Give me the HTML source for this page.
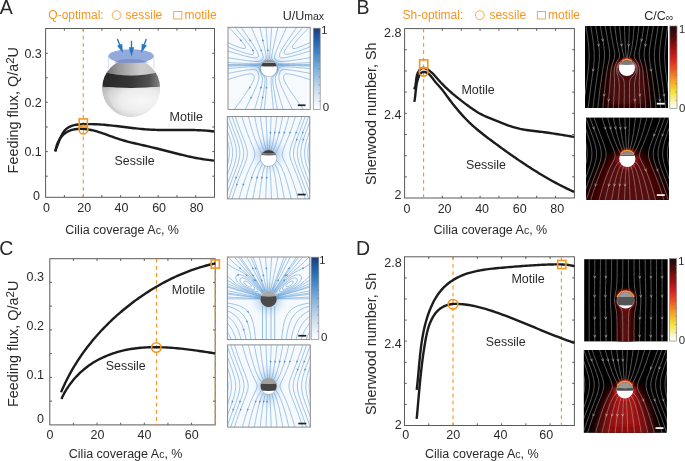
<!DOCTYPE html>
<html><head><meta charset="utf-8"><style>html,body{margin:0;padding:0;background:#fff;}svg{display:block;}</style></head><body>
<svg width="685" height="461" viewBox="0 0 685 461" font-family='"Liberation Sans", sans-serif' style="will-change:transform">
<rect width="685" height="461" fill="#fff"/>
<defs>
<linearGradient id="cbBlue" x1="0" y1="1" x2="0" y2="0">
<stop offset="0" stop-color="#ffffff"/><stop offset="0.12" stop-color="#e6eef8"/><stop offset="0.3" stop-color="#bcd4ec"/>
<stop offset="0.5" stop-color="#7fb0dc"/><stop offset="0.7" stop-color="#3f86c6"/><stop offset="0.86" stop-color="#2160a8"/><stop offset="1" stop-color="#1c3a7a"/>
</linearGradient>
<linearGradient id="cbHeat" x1="0" y1="1" x2="0" y2="0">
<stop offset="0" stop-color="#ffffff"/><stop offset="0.08" stop-color="#fbf3c0"/><stop offset="0.2" stop-color="#f4e234"/>
<stop offset="0.34" stop-color="#f4a224"/><stop offset="0.47" stop-color="#ec5a22"/><stop offset="0.6" stop-color="#d82222"/>
<stop offset="0.74" stop-color="#9a1010"/><stop offset="0.87" stop-color="#520a0a"/><stop offset="1" stop-color="#1c0a0a"/>
</linearGradient>
<radialGradient id="blueHalo" cx="0.5" cy="0.5" r="0.5">
<stop offset="0" stop-color="#7fb2e2"/><stop offset="0.3" stop-color="#b8d4ee"/><stop offset="0.6" stop-color="#e0ecf8"/><stop offset="1" stop-color="#f6f9fd" stop-opacity="0"/>
</radialGradient>
<linearGradient id="sphTop" x1="0" y1="0" x2="1" y2="0">
<stop offset="0" stop-color="#5e5e5e"/><stop offset="0.3" stop-color="#9a9a9a"/><stop offset="0.65" stop-color="#cdcdcd"/><stop offset="1" stop-color="#c0c0c0"/>
</linearGradient>
<linearGradient id="sphBand" x1="0" y1="0" x2="1" y2="0">
<stop offset="0" stop-color="#262626"/><stop offset="0.5" stop-color="#363636"/><stop offset="0.78" stop-color="#505050"/><stop offset="0.92" stop-color="#7a7a7a"/><stop offset="1" stop-color="#9a9a9a"/>
</linearGradient>
<radialGradient id="sphLow" cx="0.66" cy="0.42" r="0.78">
<stop offset="0" stop-color="#f8f8f8"/><stop offset="0.45" stop-color="#ececec"/><stop offset="0.75" stop-color="#cfcfcf"/><stop offset="1" stop-color="#8e8e8e"/>
</radialGradient>
<filter id="bl2" x="-50%" y="-50%" width="200%" height="200%"><feGaussianBlur stdDeviation="2"/></filter>
<filter id="bl4" x="-50%" y="-50%" width="200%" height="200%"><feGaussianBlur stdDeviation="4"/></filter>
<filter id="bl1" x="-50%" y="-50%" width="200%" height="200%"><feGaussianBlur stdDeviation="0.8"/></filter>
</defs>
<text x="-0.3" y="13.6" font-size="19.5" text-anchor="start" fill="#2a2a2a">A</text>
<text x="48.3" y="18.8" font-size="12" text-anchor="start" fill="#F7941D">Q-optimal:</text>
<circle cx="116.6" cy="15.1" r="4.4" fill="none" stroke="#F7941D" stroke-width="0.8"/>
<text x="125.6" y="18.8" font-size="12" text-anchor="start" fill="#F7941D">sessile</text>
<rect x="173.7" y="11.4" width="8.2" height="7.6" fill="none" stroke="#F7941D" stroke-width="0.8"/>
<text x="184.6" y="18.8" font-size="12" text-anchor="start" fill="#F7941D">motile</text>
<rect x="45.6" y="28.5" width="168.9" height="168.8" fill="none" stroke="#5a5a5a" stroke-width="1"/>
<path d="M64.37,28.5v2.2M64.37,197.3v-2.2M83.13,28.5v2.2M83.13,197.3v-2.2M101.9,28.5v2.2M101.9,197.3v-2.2M120.67,28.5v2.2M120.67,197.3v-2.2M139.43,28.5v2.2M139.43,197.3v-2.2M158.2,28.5v2.2M158.2,197.3v-2.2M176.97,28.5v2.2M176.97,197.3v-2.2M195.73,28.5v2.2M195.73,197.3v-2.2M45.6,176.2h2.2M214.5,176.2h-2.2M45.6,151.6h2.2M214.5,151.6h-2.2M45.6,127h2.2M214.5,127h-2.2M45.6,102.3h2.2M214.5,102.3h-2.2M45.6,77.8h2.2M214.5,77.8h-2.2M45.6,53.3h2.2M214.5,53.3h-2.2" stroke="#5a5a5a" stroke-width="1" fill="none"/>
<text x="41.8" y="57.6" font-size="12.5" text-anchor="end" fill="#2a2a2a">0.3</text>
<text x="41.8" y="106.6" font-size="12.5" text-anchor="end" fill="#2a2a2a">0.2</text>
<text x="41.8" y="155.9" font-size="12.5" text-anchor="end" fill="#2a2a2a">0.1</text>
<text x="40" y="200.4" font-size="12.5" text-anchor="end" fill="#2a2a2a">0</text>
<text x="46.4" y="212.4" font-size="12.5" text-anchor="middle" fill="#2a2a2a">0</text>
<text x="84.3" y="212.4" font-size="12.5" text-anchor="middle" fill="#2a2a2a">20</text>
<text x="121.5" y="212.4" font-size="12.5" text-anchor="middle" fill="#2a2a2a">40</text>
<text x="159.1" y="212.4" font-size="12.5" text-anchor="middle" fill="#2a2a2a">60</text>
<text x="196.6" y="212.4" font-size="12.5" text-anchor="middle" fill="#2a2a2a">80</text>
<text x="65.3" y="234" font-size="12.5" text-anchor="start" fill="#2a2a2a">Cilia coverage A<tspan font-size="10.5">c</tspan>, %</text>
<text x="0" y="0" font-size="14.4" text-anchor="middle" fill="#2a2a2a" transform="translate(18.1,110.2) rotate(-90)">Feeding flux, Q/a<tspan font-size="11.5" dy="-4.4">2</tspan><tspan dy="4.4">U</tspan></text>
<line x1="83.3" y1="28.5" x2="83.3" y2="197.3" stroke="#F7941D" stroke-width="1.1" stroke-dasharray="3.8 3.4"/>
<clipPath id="sphClip"><circle cx="131.2" cy="87.9" r="28.9"/></clipPath>
<g clip-path="url(#sphClip)">
<rect x="102.29999999999998" y="59.00000000000001" width="57.8" height="57.8" fill="url(#sphLow)"/>
<path d="M100,56 H163 V71 Q131,80 100,71 Z" fill="url(#sphTop)"/>
<path d="M100,71 Q131,80 163,71 V86.6 Q131,89.4 100,86.6 Z" fill="url(#sphBand)"/>
<path d="M100,86.6 Q131,89.4 163,86.6 V120 H100 Z" fill="url(#sphLow)"/>
</g>
<path d="M102.6,88 A28.9,28.9 0 0 0 124,115.8 A32,32 0 0 1 106.5,88 Z" fill="#c4c4c4" opacity="0.6"/>
<path d="M108.4,56.2 V68.5 M153.9,56.2 V68.5" stroke="#b7c6ea" stroke-width="0.6"/>
<ellipse cx="131.1" cy="56.1" rx="22.8" ry="6.8" fill="#93aadc"/>
<path d="M113.6,62.3 Q120,58.6 131.1,58.9 Q142,58.6 148.6,62.3 Q140,62.9 131.1,62.9 Q122,62.9 113.6,62.3 Z" fill="#7d93c9"/>
<g fill="#2479c2">
<path d="M117.4,38.9 L120.3,46.4" stroke="#2479c2" stroke-width="1.4" fill="none"/><path d="M122.9,53.1 L122.17,43.73 L117.13,45.67 Z"/>
<path d="M131.5,40.8 V48.5" stroke="#2479c2" stroke-width="1.4" fill="none"/><path d="M131.5,56.4 L128.8,47.2 L134.2,47.2 Z"/>
<path d="M146.4,38.9 L143.5,46.4" stroke="#2479c2" stroke-width="1.4" fill="none"/><path d="M141.2,53.1 L146.84,45.58 L141.76,43.72 Z"/>
</g>
<path d="M55.08,151.05 55.91,149.23 56.67,147.38 57.4,145.51 58.11,143.64 58.83,141.78 59.56,139.92 60.33,138.07 61.15,136.24 62.05,134.45 63.05,132.73 64.2,131.09 65.54,129.6 67.06,128.31 68.75,127.23 70.55,126.36 72.43,125.68 74.36,125.17 76.33,124.8 78.31,124.53 80.3,124.35 82.3,124.24 84.3,124.16 86.3,124.12 88.3,124.1 90.3,124.11 92.3,124.15 94.3,124.21 96.3,124.29 98.29,124.4 100.29,124.52 102.29,124.66 104.28,124.82 106.27,125 108.26,125.19 110.26,125.39 112.24,125.6 114.23,125.82 116.22,126.05 118.21,126.28 120.19,126.52 122.18,126.76 124.16,127.01 126.15,127.25 128.14,127.49 130.12,127.73 132.11,127.97 134.1,128.2 136.08,128.42 138.07,128.63 140.06,128.83 142.05,129.02 144.05,129.2 146.04,129.36 148.04,129.5 150.03,129.63 152.03,129.73 154.03,129.82 156.03,129.89 158.03,129.95 160.03,129.99 162.03,130.02 164.03,130.04 166.03,130.05 168.03,130.05 170.03,130.05 172.03,130.04 174.03,130.03 176.03,130.02 178.03,130 180.03,129.99 182.03,129.98 184.03,129.98 186.03,129.98 188.04,129.99 190.04,130 192.04,130.03 194.04,130.07 196.04,130.12 198.04,130.19 200.03,130.27 202.03,130.38 204.03,130.5 206.02,130.64 208.02,130.8 210.01,130.99 212,131.2 213.98,131.44" fill="none" stroke="#1c1c1c" stroke-width="2.4" stroke-linecap="butt" stroke-linejoin="round"/>
<path d="M55.44,151.64 55.72,149.65 56.13,147.68 56.67,145.74 57.33,143.83 58.11,141.98 59.03,140.19 60.09,138.47 61.28,136.85 62.62,135.35 64.1,133.98 65.71,132.77 67.44,131.74 69.26,130.88 71.15,130.19 73.09,129.66 75.06,129.26 77.06,129 79.07,128.85 81.08,128.82 83.1,128.88 85.1,129.03 87.1,129.27 89.09,129.58 91.07,129.97 93.03,130.42 94.98,130.92 96.92,131.46 98.85,132.05 100.76,132.67 102.67,133.32 104.57,133.99 106.47,134.67 108.36,135.36 110.25,136.05 112.14,136.74 114.04,137.42 115.94,138.08 117.85,138.72 119.77,139.33 121.69,139.92 123.63,140.49 125.57,141.03 127.51,141.55 129.46,142.05 131.42,142.54 133.37,143.01 135.33,143.48 137.29,143.93 139.26,144.38 141.22,144.83 143.19,145.27 145.15,145.72 147.11,146.17 149.08,146.62 151.04,147.09 152.99,147.56 154.95,148.04 156.9,148.52 158.86,149.01 160.81,149.51 162.76,150.01 164.71,150.51 166.66,151.01 168.61,151.51 170.56,152.01 172.51,152.51 174.47,153.01 176.42,153.5 178.37,153.99 180.33,154.47 182.29,154.94 184.25,155.4 186.21,155.86 188.17,156.3 190.14,156.73 192.11,157.15 194.08,157.56 196.06,157.95 198.04,158.32 200.02,158.68 202,159.02 203.99,159.33 205.99,159.63 207.98,159.9 209.98,160.16 211.98,160.38 213.98,160.58" fill="none" stroke="#1c1c1c" stroke-width="2.4" stroke-linecap="butt" stroke-linejoin="round"/>
<rect x="79.2" y="118.9" width="8.2" height="8.2" fill="none" stroke="#F7941D" stroke-width="1.6"/>
<circle cx="83.4" cy="129.6" r="4.4" fill="none" stroke="#F7941D" stroke-width="1.6"/>
<text x="169.6" y="120.8" font-size="12.5" text-anchor="start" fill="#2a2a2a">Motile</text>
<text x="114.6" y="164.9" font-size="12.4" text-anchor="start" fill="#2a2a2a">Sessile</text>
<text x="356.4" y="13.7" font-size="19.5" text-anchor="start" fill="#2a2a2a">B</text>
<text x="402.6" y="18.8" font-size="12" text-anchor="start" fill="#F7941D">Sh-optimal:</text>
<circle cx="479.8" cy="15.1" r="4.4" fill="none" stroke="#F7941D" stroke-width="0.8"/>
<text x="489.4" y="18.8" font-size="12" text-anchor="start" fill="#F7941D">sessile</text>
<rect x="537.3" y="11.4" width="8.2" height="7.6" fill="none" stroke="#F7941D" stroke-width="0.8"/>
<text x="548" y="18.8" font-size="12" text-anchor="start" fill="#F7941D">motile</text>
<rect x="404.6" y="28.6" width="169.8" height="169.4" fill="none" stroke="#5a5a5a" stroke-width="1"/>
<path d="M423.47,28.6v2.2M423.47,198v-2.2M442.33,28.6v2.2M442.33,198v-2.2M461.2,28.6v2.2M461.2,198v-2.2M480.07,28.6v2.2M480.07,198v-2.2M498.93,28.6v2.2M498.93,198v-2.2M517.8,28.6v2.2M517.8,198v-2.2M536.67,28.6v2.2M536.67,198v-2.2M555.53,28.6v2.2M555.53,198v-2.2M404.6,49.78h2.2M574.4,49.78h-2.2M404.6,70.96h2.2M574.4,70.96h-2.2M404.6,92.14h2.2M574.4,92.14h-2.2M404.6,113.32h2.2M574.4,113.32h-2.2M404.6,134.5h2.2M574.4,134.5h-2.2M404.6,155.68h2.2M574.4,155.68h-2.2M404.6,176.86h2.2M574.4,176.86h-2.2" stroke="#5a5a5a" stroke-width="1" fill="none"/>
<text x="401.4" y="37.3" font-size="12.5" text-anchor="end" fill="#2a2a2a">2.8</text>
<text x="401.4" y="118.9" font-size="12.5" text-anchor="end" fill="#2a2a2a">2.4</text>
<text x="401.4" y="199" font-size="12.5" text-anchor="end" fill="#2a2a2a">2</text>
<text x="407" y="212.5" font-size="12.5" text-anchor="middle" fill="#2a2a2a">0</text>
<text x="444.6" y="212.5" font-size="12.5" text-anchor="middle" fill="#2a2a2a">20</text>
<text x="482.1" y="212.5" font-size="12.5" text-anchor="middle" fill="#2a2a2a">40</text>
<text x="519.8" y="212.5" font-size="12.5" text-anchor="middle" fill="#2a2a2a">60</text>
<text x="557.2" y="212.5" font-size="12.5" text-anchor="middle" fill="#2a2a2a">80</text>
<text x="433.6" y="233.5" font-size="12.5" text-anchor="start" fill="#2a2a2a">Cilia coverage A<tspan font-size="10.5">c</tspan>, %</text>
<text x="0" y="0" font-size="14.4" text-anchor="middle" fill="#2a2a2a" transform="translate(375.8,113.7) rotate(-90)">Sherwood number, Sh</text>
<line x1="423.6" y1="28.6" x2="423.6" y2="198" stroke="#F7941D" stroke-width="1.1" stroke-dasharray="3.8 3.4"/>
<path d="M414.3,89.4 414.96,87.49 415.44,85.53 415.77,83.54 416.01,81.53 416.22,79.52 416.5,77.52 416.91,75.55 417.52,73.62 418.37,71.79 419.46,70.09 420.83,68.61 422.66,67.84 424.65,68.1 426.51,68.89 428.25,69.91 429.9,71.07 431.46,72.36 432.93,73.74 434.33,75.19 435.69,76.69 437.02,78.21 438.34,79.74 439.68,81.25 441.04,82.74 442.44,84.2 443.87,85.63 445.31,87.04 446.78,88.42 448.27,89.79 449.77,91.14 451.29,92.48 452.81,93.8 454.36,95.1 455.91,96.39 457.48,97.67 459.05,98.93 460.64,100.18 462.24,101.41 463.85,102.63 465.47,103.84 467.09,105.04 468.73,106.22 470.38,107.4 472.03,108.56 473.69,109.71 475.36,110.84 477.06,111.93 478.79,112.97 480.56,113.94 482.36,114.86 484.18,115.73 486.02,116.56 487.88,117.36 489.74,118.14 491.61,118.91 493.48,119.68 495.35,120.44 497.22,121.21 499.09,121.96 500.97,122.71 502.85,123.44 504.74,124.16 506.63,124.86 508.54,125.53 510.45,126.17 512.37,126.79 514.31,127.37 516.25,127.91 518.21,128.41 520.18,128.87 522.15,129.28 524.14,129.64 526.13,129.97 528.13,130.26 530.13,130.53 532.14,130.78 534.15,131.01 536.15,131.24 538.16,131.47 540.17,131.7 542.17,131.93 544.17,132.19 546.18,132.46 548.18,132.74 550.18,133.03 552.17,133.33 554.17,133.64 556.16,133.96 558.16,134.28 560.15,134.61 562.14,134.93 564.13,135.27 566.13,135.6 568.12,135.93 570.11,136.26 572.11,136.58 574.1,136.9" fill="none" stroke="#1c1c1c" stroke-width="2.4" stroke-linecap="butt" stroke-linejoin="round"/>
<path d="M414.3,101.9 414.66,99.93 414.95,97.95 415.2,95.97 415.42,93.98 415.62,91.99 415.83,90 416.06,88.01 416.33,86.03 416.66,84.06 417.08,82.1 417.58,80.16 418.18,78.26 418.89,76.38 419.76,74.58 420.98,73.01 422.7,72.03 424.68,71.95 426.57,72.6 428.28,73.64 429.79,74.95 431.14,76.43 432.37,78 433.56,79.61 434.76,81.21 436.03,82.76 437.37,84.24 438.73,85.71 440.07,87.19 441.37,88.72 442.61,90.28 443.83,91.87 445.02,93.48 446.2,95.1 447.37,96.71 448.56,98.32 449.76,99.93 450.97,101.52 452.19,103.11 453.42,104.68 454.67,106.25 455.93,107.8 457.2,109.34 458.49,110.87 459.8,112.38 461.12,113.88 462.46,115.37 463.82,116.84 465.19,118.3 466.58,119.73 467.99,121.15 469.42,122.55 470.87,123.93 472.34,125.29 473.83,126.63 475.33,127.95 476.85,129.25 478.39,130.53 479.94,131.79 481.5,133.04 483.07,134.28 484.65,135.5 486.24,136.72 487.84,137.93 489.44,139.13 491.04,140.32 492.65,141.52 494.26,142.71 495.87,143.89 497.48,145.08 499.09,146.26 500.71,147.44 502.33,148.61 503.95,149.78 505.58,150.95 507.21,152.11 508.84,153.27 510.47,154.42 512.11,155.57 513.75,156.72 515.39,157.86 517.04,158.99 518.69,160.12 520.35,161.24 522.01,162.36 523.67,163.47 525.34,164.57 527.01,165.67 528.69,166.76 530.37,167.84 532.06,168.92 533.75,169.99 535.45,171.05 537.15,172.1 538.85,173.15 540.56,174.19 542.28,175.21 544,176.23 545.73,177.24 547.46,178.24 549.2,179.23 550.94,180.21 552.69,181.18 554.45,182.14 556.21,183.09 557.97,184.03 559.75,184.96 561.52,185.88 563.31,186.78 565.1,187.68 566.89,188.56 568.7,189.43 570.5,190.28 572.32,191.13 574.14,191.96" fill="none" stroke="#1c1c1c" stroke-width="2.4" stroke-linecap="butt" stroke-linejoin="round"/>
<rect x="419.6" y="59.9" width="8.2" height="8.2" fill="none" stroke="#F7941D" stroke-width="1.6"/>
<circle cx="423.6" cy="71.7" r="4.4" fill="none" stroke="#F7941D" stroke-width="1.6"/>
<text x="461.4" y="93.8" font-size="12.5" text-anchor="start" fill="#2a2a2a">Motile</text>
<text x="465.9" y="168.5" font-size="12.4" text-anchor="start" fill="#2a2a2a">Sessile</text>
<text x="-0.8" y="255.3" font-size="19.5" text-anchor="start" fill="#2a2a2a">C</text>
<rect x="49.8" y="258.7" width="165.4" height="166.2" fill="none" stroke="#5a5a5a" stroke-width="1"/>
<path d="M73.43,258.7v2.2M73.43,424.9v-2.2M97.06,258.7v2.2M97.06,424.9v-2.2M120.69,258.7v2.2M120.69,424.9v-2.2M144.31,258.7v2.2M144.31,424.9v-2.2M167.94,258.7v2.2M167.94,424.9v-2.2M191.57,258.7v2.2M191.57,424.9v-2.2M49.8,401.15h2.2M215.2,401.15h-2.2M49.8,377.4h2.2M215.2,377.4h-2.2M49.8,353.65h2.2M215.2,353.65h-2.2M49.8,329.9h2.2M215.2,329.9h-2.2M49.8,306.15h2.2M215.2,306.15h-2.2M49.8,282.4h2.2M215.2,282.4h-2.2" stroke="#5a5a5a" stroke-width="1" fill="none"/>
<text x="44" y="281" font-size="12.5" text-anchor="end" fill="#2a2a2a">0.3</text>
<text x="44" y="329.8" font-size="12.5" text-anchor="end" fill="#2a2a2a">0.2</text>
<text x="44" y="378.6" font-size="12.5" text-anchor="end" fill="#2a2a2a">0.1</text>
<text x="44" y="423.1" font-size="12.5" text-anchor="end" fill="#2a2a2a">0</text>
<text x="50" y="439.4" font-size="12.5" text-anchor="middle" fill="#2a2a2a">0</text>
<text x="97.4" y="439.4" font-size="12.5" text-anchor="middle" fill="#2a2a2a">20</text>
<text x="144.5" y="439.4" font-size="12.5" text-anchor="middle" fill="#2a2a2a">40</text>
<text x="191.7" y="439.4" font-size="12.5" text-anchor="middle" fill="#2a2a2a">60</text>
<text x="68.8" y="458" font-size="12.5" text-anchor="start" fill="#2a2a2a">Cilia coverage A<tspan font-size="10.5">c</tspan>, %</text>
<text x="0" y="0" font-size="14.4" text-anchor="middle" fill="#2a2a2a" transform="translate(18.3,343.9) rotate(-90)">Feeding flux, Q/a<tspan font-size="11.5" dy="-4.4">2</tspan><tspan dy="4.4">U</tspan></text>
<line x1="156.5" y1="258.7" x2="156.5" y2="424.9" stroke="#F7941D" stroke-width="1.1" stroke-dasharray="3.8 3.4"/>
<line x1="215.2" y1="258.7" x2="215.2" y2="424.9" stroke="#F7941D" stroke-width="1.1" stroke-dasharray="3.8 3.4"/>
<path d="M61.1,392.23 61.87,390.38 62.67,388.55 63.49,386.72 64.32,384.9 65.18,383.09 66.05,381.29 66.95,379.5 67.86,377.71 68.78,375.94 69.73,374.17 70.7,372.42 71.68,370.67 72.68,368.94 73.7,367.22 74.73,365.5 75.78,363.8 76.85,362.1 77.93,360.42 79.03,358.75 80.15,357.09 81.28,355.43 82.43,353.79 83.6,352.17 84.77,350.55 85.97,348.94 87.18,347.35 88.4,345.76 89.64,344.19 90.9,342.63 92.16,341.08 93.44,339.54 94.74,338.01 96.05,336.5 97.37,334.99 98.71,333.5 100.05,332.02 101.42,330.55 102.79,329.1 104.18,327.65 105.58,326.22 106.99,324.8 108.41,323.39 109.85,322 111.29,320.61 112.75,319.24 114.22,317.88 115.7,316.54 117.2,315.2 118.7,313.88 120.21,312.57 121.74,311.27 123.27,309.98 124.82,308.71 126.37,307.45 127.94,306.2 129.51,304.97 131.1,303.74 132.69,302.53 134.3,301.33 135.91,300.15 137.53,298.97 139.16,297.81 140.8,296.67 142.45,295.53 144.11,294.41 145.78,293.3 147.46,292.21 149.14,291.13 150.84,290.06 152.54,289.01 154.26,287.97 155.98,286.95 157.71,285.95 159.45,284.95 161.2,283.98 162.95,283.02 164.72,282.07 166.49,281.14 168.27,280.23 170.06,279.33 171.86,278.45 173.67,277.59 175.48,276.74 177.31,275.92 179.14,275.11 180.98,274.31 182.82,273.54 184.68,272.78 186.54,272.05 188.41,271.33 190.28,270.63 192.17,269.95 194.06,269.29 195.95,268.65 197.86,268.03 199.77,267.43 201.68,266.85 203.61,266.29 205.54,265.76 207.47,265.24 209.41,264.75 211.36,264.27 213.31,263.82 215.26,263.39" fill="none" stroke="#1c1c1c" stroke-width="2.4" stroke-linecap="butt" stroke-linejoin="round"/>
<path d="M61.47,398.88 62.32,397.04 63.23,395.23 64.17,393.45 65.16,391.68 66.19,389.94 67.26,388.23 68.38,386.54 69.53,384.88 70.73,383.25 71.96,381.65 73.24,380.08 74.55,378.54 75.9,377.03 77.29,375.56 78.71,374.12 80.17,372.72 81.66,371.36 83.18,370.03 84.74,368.74 86.33,367.48 87.94,366.27 89.59,365.09 91.26,363.95 92.96,362.86 94.69,361.8 96.43,360.78 98.2,359.81 100,358.87 101.81,357.97 103.64,357.11 105.49,356.29 107.35,355.51 109.23,354.77 111.13,354.06 113.04,353.39 114.96,352.77 116.9,352.17 118.84,351.62 120.8,351.1 122.76,350.62 124.73,350.18 126.71,349.77 128.7,349.39 130.69,349.05 132.69,348.73 134.69,348.45 136.7,348.21 138.71,347.99 140.73,347.8 142.74,347.63 144.76,347.5 146.78,347.39 148.8,347.3 150.82,347.24 152.84,347.2 154.87,347.19 156.89,347.19 158.91,347.22 160.93,347.27 162.95,347.33 164.97,347.42 166.99,347.52 169.01,347.64 171.03,347.77 173.05,347.92 175.06,348.09 177.08,348.27 179.09,348.46 181.1,348.66 183.11,348.88 185.12,349.11 187.13,349.34 189.14,349.59 191.15,349.85 193.15,350.11 195.16,350.38 197.16,350.66 199.16,350.95 201.16,351.24 203.16,351.54 205.16,351.84 207.16,352.14 209.16,352.45 211.16,352.76 213.16,353.07 215.16,353.38" fill="none" stroke="#1c1c1c" stroke-width="2.4" stroke-linecap="butt" stroke-linejoin="round"/>
<rect x="211.2" y="259.9" width="8.2" height="8.2" fill="none" stroke="#F7941D" stroke-width="1.6"/>
<circle cx="156.3" cy="347.5" r="4.7" fill="none" stroke="#F7941D" stroke-width="1.6"/>
<text x="171.8" y="294.2" font-size="12.5" text-anchor="start" fill="#2a2a2a">Motile</text>
<text x="105.8" y="369.5" font-size="12.4" text-anchor="start" fill="#2a2a2a">Sessile</text>
<text x="356" y="255.4" font-size="19.5" text-anchor="start" fill="#2a2a2a">D</text>
<rect x="404.5" y="256.8" width="169.9" height="168.7" fill="none" stroke="#5a5a5a" stroke-width="1"/>
<path d="M428.77,256.8v2.2M428.77,425.5v-2.2M453.04,256.8v2.2M453.04,425.5v-2.2M477.31,256.8v2.2M477.31,425.5v-2.2M501.59,256.8v2.2M501.59,425.5v-2.2M525.86,256.8v2.2M525.86,425.5v-2.2M550.13,256.8v2.2M550.13,425.5v-2.2M404.5,277.89h2.2M574.4,277.89h-2.2M404.5,298.98h2.2M574.4,298.98h-2.2M404.5,320.07h2.2M574.4,320.07h-2.2M404.5,341.16h2.2M574.4,341.16h-2.2M404.5,362.25h2.2M574.4,362.25h-2.2M404.5,383.34h2.2M574.4,383.34h-2.2M404.5,404.43h2.2M574.4,404.43h-2.2" stroke="#5a5a5a" stroke-width="1" fill="none"/>
<text x="401.6" y="266.5" font-size="12.5" text-anchor="end" fill="#2a2a2a">2.8</text>
<text x="401.6" y="348.2" font-size="12.5" text-anchor="end" fill="#2a2a2a">2.4</text>
<text x="401.6" y="429.3" font-size="12.5" text-anchor="end" fill="#2a2a2a">2</text>
<text x="405.8" y="439.4" font-size="12.5" text-anchor="middle" fill="#2a2a2a">0</text>
<text x="453.2" y="439.4" font-size="12.5" text-anchor="middle" fill="#2a2a2a">20</text>
<text x="500.4" y="439.4" font-size="12.5" text-anchor="middle" fill="#2a2a2a">40</text>
<text x="546.2" y="439.4" font-size="12.5" text-anchor="middle" fill="#2a2a2a">60</text>
<text x="425" y="458" font-size="12.5" text-anchor="start" fill="#2a2a2a">Cilia coverage A<tspan font-size="10.5">c</tspan>, %</text>
<text x="0" y="0" font-size="14.4" text-anchor="middle" fill="#2a2a2a" transform="translate(375.8,343.9) rotate(-90)">Sherwood number, Sh</text>
<line x1="453" y1="256.8" x2="453" y2="425.5" stroke="#F7941D" stroke-width="1.1" stroke-dasharray="3.8 3.4"/>
<line x1="561.4" y1="256.8" x2="561.4" y2="425.5" stroke="#F7941D" stroke-width="1.1" stroke-dasharray="3.8 3.4"/>
<path d="M416.69,389.98 416.93,387.98 417.15,385.98 417.37,383.98 417.58,381.98 417.78,379.97 417.97,377.97 418.15,375.96 418.34,373.96 418.52,371.95 418.7,369.95 418.87,367.94 419.05,365.94 419.24,363.93 419.42,361.92 419.61,359.92 419.81,357.92 420.01,355.91 420.22,353.91 420.45,351.91 420.68,349.91 420.92,347.91 421.18,345.91 421.45,343.92 421.74,341.92 422.05,339.93 422.37,337.95 422.71,335.96 423.08,333.98 423.46,332 423.87,330.03 424.31,328.07 424.77,326.11 425.26,324.15 425.77,322.2 426.32,320.27 426.9,318.34 427.5,316.42 428.15,314.51 428.82,312.61 429.53,310.73 430.28,308.86 431.07,307 431.89,305.16 432.75,303.34 433.65,301.55 434.61,299.77 435.61,298.02 436.66,296.31 437.78,294.63 438.95,292.99 440.18,291.4 441.48,289.86 442.84,288.38 444.26,286.95 445.74,285.58 447.26,284.27 448.84,283.01 450.46,281.82 452.12,280.68 453.82,279.6 455.56,278.59 457.33,277.63 459.13,276.72 460.96,275.88 462.82,275.1 464.7,274.38 466.6,273.72 468.52,273.11 470.45,272.55 472.4,272.04 474.36,271.56 476.32,271.13 478.3,270.73 480.28,270.36 482.26,270.02 484.25,269.7 486.24,269.42 488.24,269.15 490.24,268.9 492.24,268.67 494.24,268.45 496.24,268.25 498.25,268.06 500.25,267.87 502.26,267.69 504.27,267.52 506.27,267.35 508.28,267.17 510.29,267 512.29,266.84 514.3,266.67 516.31,266.51 518.31,266.36 520.32,266.2 522.33,266.05 524.34,265.91 526.35,265.76 528.36,265.63 530.37,265.5 532.38,265.37 534.39,265.25 536.4,265.13 538.41,265.02 540.42,264.92 542.43,264.82 544.44,264.73 546.45,264.65 548.47,264.57 550.48,264.51 552.49,264.45 554.51,264.4 556.52,264.37 558.53,264.37 560.55,264.41 562.56,264.48 564.57,264.61 566.58,264.79 568.57,265.03 570.56,265.33 572.54,265.71 574.5,266.17" fill="none" stroke="#1c1c1c" stroke-width="2.4" stroke-linecap="butt" stroke-linejoin="round"/>
<path d="M416.69,418.8 416.88,416.8 417.06,414.8 417.24,412.8 417.42,410.8 417.59,408.8 417.77,406.8 417.95,404.81 418.12,402.81 418.3,400.81 418.47,398.81 418.65,396.81 418.83,394.81 419.01,392.81 419.19,390.81 419.37,388.81 419.56,386.81 419.75,384.82 419.94,382.82 420.14,380.82 420.34,378.82 420.54,376.83 420.75,374.83 420.96,372.84 421.18,370.84 421.41,368.85 421.64,366.85 421.88,364.86 422.12,362.87 422.37,360.88 422.63,358.89 422.9,356.9 423.18,354.91 423.46,352.92 423.75,350.94 424.06,348.95 424.37,346.97 424.69,344.99 425.02,343.01 425.37,341.03 425.72,339.06 426.09,337.08 426.49,335.12 426.91,333.16 427.38,331.2 427.9,329.26 428.47,327.34 429.1,325.44 429.79,323.55 430.56,321.7 431.4,319.88 432.32,318.09 433.33,316.36 434.43,314.68 435.63,313.07 436.93,311.55 438.35,310.12 439.88,308.82 441.52,307.67 443.26,306.67 445.08,305.84 446.97,305.16 448.91,304.64 450.88,304.27 452.88,304.03 454.88,303.91 456.89,303.88 458.89,303.95 460.89,304.08 462.89,304.26 464.89,304.49 466.88,304.76 468.86,305.06 470.84,305.4 472.81,305.78 474.77,306.19 476.73,306.62 478.69,307.09 480.63,307.58 482.57,308.1 484.5,308.63 486.43,309.2 488.35,309.78 490.27,310.38 492.17,311 494.08,311.64 495.98,312.29 497.87,312.95 499.76,313.63 501.65,314.31 503.53,315.01 505.41,315.72 507.28,316.43 509.16,317.15 511.03,317.88 512.89,318.62 514.76,319.36 516.62,320.1 518.48,320.85 520.34,321.6 522.2,322.36 524.06,323.12 525.92,323.88 527.77,324.65 529.63,325.42 531.48,326.18 533.34,326.95 535.19,327.72 537.05,328.49 538.9,329.25 540.76,330.02 542.61,330.78 544.47,331.54 546.33,332.3 548.19,333.05 550.05,333.8 551.92,334.54 553.78,335.28 555.65,336.01 557.52,336.74 559.4,337.46 561.27,338.17 563.15,338.87 565.03,339.57 566.92,340.26 568.81,340.93 570.7,341.6 572.6,342.26 574.5,342.9" fill="none" stroke="#1c1c1c" stroke-width="2.4" stroke-linecap="butt" stroke-linejoin="round"/>
<rect x="557.7" y="260.4" width="8.2" height="8.2" fill="none" stroke="#F7941D" stroke-width="1.6"/>
<circle cx="453" cy="304.3" r="4.8" fill="none" stroke="#F7941D" stroke-width="1.6"/>
<text x="511.4" y="282.6" font-size="12.5" text-anchor="start" fill="#2a2a2a">Motile</text>
<text x="485.8" y="346" font-size="12.4" text-anchor="start" fill="#2a2a2a">Sessile</text>
<clipPath id="fA1"><rect x="228" y="27.3" width="82.2" height="82.1"/></clipPath>
<rect x="228" y="27.3" width="82.2" height="82.1" fill="#f7fafd"/>
<g clip-path="url(#fA1)"><ellipse cx="268.9" cy="66" rx="26" ry="14" fill="url(#blueHalo)"/><path d="M226.8,25.3 227.9,26.5 228.8,27.4 229.9,28.5 230.8,29.5 231.8,30.5 232.8,31.6 233.7,32.5 234.8,33.7 235.9,34.9 236.8,35.8 237.8,36.9 238.8,38 239.6,38.9 240.4,39.9 241.2,40.8 242,41.8 242.8,42.7 243.5,43.7 244.4,44.9 245.1,46.1 245.6,47.3 245.2,48.4 244,48.6 242.8,48.4 241.6,48.1 240.4,47.7 239.2,47.3 238,46.9 236.8,46.4 235.6,46 234.4,45.5 233.2,45 232.1,44.5 230.8,43.9 229.6,43.4 228.4,42.9 227.2,42.4 226,41.8M312,41.7 310.8,42.3 309.6,42.8 308.5,43.3 307.2,43.9 306,44.4 304.8,44.9 303.6,45.4 302.4,45.9 301.2,46.4 300,46.8 298.8,47.3 297.6,47.7 296.4,48.1 295.2,48.4 294,48.6 292.8,48.5 292.2,47.3 292.7,46.1 293.4,44.9 294.3,43.7 295.2,42.5 296,41.5 296.8,40.6 297.6,39.6 298.4,38.7 299.2,37.8 300,36.9 301.1,35.7 302,34.8 303,33.7 304,32.6 304.9,31.7 306,30.5 307.2,29.3 308,28.4 309.1,27.3 310,26.4 311,25.3M233.2,25.3 234.3,26.5 235.2,27.6 236,28.6 236.8,29.5 237.6,30.5 238.4,31.4 239.2,32.4 240,33.4 240.8,34.3 241.6,35.3 242.4,36.3 243.2,37.3 244,38.3 244.8,39.3 245.6,40.3 246.4,41.3 247.2,42.3 248,43.3 248.8,44.4 249.6,45.5 250.4,46.5 251.2,47.7 252,48.9 252.7,50.1 253.3,51.3 253.7,52.5 253.5,53.7 252.4,54.3 251.2,54.4 250,54.2 248.8,54 247.6,53.7 246.4,53.4 245.2,53 244,52.7 242.8,52.3 241.6,51.9 240.4,51.5 239.2,51.1 238,50.6 236.8,50.2 235.6,49.8 234.4,49.3 233.2,48.9 232,48.4 230.8,48 229.6,47.5 228.4,47 227.2,46.6 226,46.1M312,46 310.8,46.5 309.6,47 308.4,47.4 307.2,47.9 306,48.3 304.8,48.8 303.6,49.2 302.4,49.7 301.3,50.1 300,50.6 298.8,51 297.6,51.4 296.4,51.8 295.2,52.2 294,52.6 292.8,53 291.6,53.3 290.4,53.7 289.2,54 288,54.2 286.8,54.3 285.6,54.3 284.4,53.8 284.1,52.5 284.5,51.3 285.1,50.1 285.8,48.9 286.6,47.7 287.5,46.5 288.3,45.3 289.2,44.1 290,43.1 290.7,42.1 291.6,41 292.4,40 293.2,39 294,38 294.8,37 295.6,36 296.4,35.1 297.2,34.1 298,33.1 298.8,32.2 299.6,31.2 300.4,30.2 301.2,29.3 302,28.3 302.8,27.4 303.6,26.4 304.4,25.5 304.6,25.3M239.8,25.3 240.6,26.5 241.4,27.7 242.3,28.9 243.1,30.1 243.9,31.3 244.8,32.5 245.6,33.7 246.4,34.9 247.2,36 248,37.2 248.8,38.4 249.6,39.6 250.4,40.8 251.2,42 252,43.2 252.8,44.4 253.6,45.7 254.4,46.9 255.1,48.1 255.8,49.3 256.5,50.5 257.2,51.7 257.7,52.9 258.2,54.1 258.5,55.3 258.4,56.5 257.6,57.4 256.4,57.8 255.2,57.9 254,57.8 252.8,57.7 251.6,57.5 250.4,57.2 249.2,57 248,56.7 246.8,56.4 245.6,56.1 244.4,55.8 243.2,55.5 242,55.2 240.8,54.8 239.6,54.5 238.4,54.1 237.2,53.8 236,53.4 234.8,53.1 233.6,52.7 232.4,52.4 231.2,52 230,51.7 228.8,51.3 227.6,50.9 226.4,50.6 226,50.5M312,50.4 310.8,50.8 309.6,51.1 308.4,51.5 307.2,51.8 306,52.2 304.8,52.6 303.6,52.9 302.4,53.3 301.2,53.6 300,54 298.8,54.3 297.6,54.7 296.4,55 295.2,55.3 294,55.6 292.8,56 291.6,56.3 290.4,56.6 289.2,56.9 288,57.1 286.8,57.4 285.6,57.6 284.4,57.7 283.2,57.8 282,57.8 280.8,57.7 279.6,56.9 279.3,55.7 279.5,54.5 279.9,53.3 280.4,52.2 281.1,50.9 281.7,49.7 282.4,48.6 283.2,47.3 283.9,46.1 284.7,44.9 285.5,43.7 286.3,42.5 287,41.3 287.8,40.1 288.7,38.9 289.5,37.7 290.3,36.5 291.1,35.3 291.9,34.1 292.8,32.9 293.6,31.7 294.4,30.5 295.2,29.4 296,28.2 296.8,27.1 297.6,25.9 298,25.3M250.3,25.3 250.8,26.5 251.4,27.7 251.9,28.9 252.5,30.1 253,31.3 253.5,32.5 254.1,33.7 254.6,34.9 255.1,36.1 255.7,37.3 256.2,38.5 256.7,39.7 257.3,40.9 257.8,42.1 258.3,43.3 258.8,44.5 259.3,45.7 259.8,46.9 260.3,48.1 260.8,49.3 261.3,50.5 261.7,51.7 262.2,52.9 262.6,54.1 262.9,55.3 263.2,56.5 263.2,57.7 262.9,58.9 262,59.9 260.8,60.7 259.6,61.1 258.4,61.4 257.2,61.5 256,61.5 254.8,61.4 253.6,61.3 252.4,61.2 251.2,61.1 250,61 248.8,60.8 247.6,60.7 246.4,60.5 245.2,60.4 244,60.2 242.8,60 241.6,59.8 240.4,59.7 239.2,59.5 238,59.3 236.8,59.1 235.6,58.9 234.4,58.8 233.2,58.6 232,58.4 230.8,58.2 229.6,58 228.4,57.8 227.2,57.6 226,57.4M312,57.4 310.8,57.6 309.6,57.8 308.4,58 307.2,58.2 306,58.3 304.8,58.5 303.6,58.7 302.4,58.9 301.2,59.1 300,59.3 298.8,59.5 297.6,59.6 296.4,59.8 295.2,60 294,60.2 292.8,60.3 291.6,60.5 290.4,60.7 289.2,60.8 288,61 286.8,61.1 285.6,61.2 284.4,61.3 283.2,61.4 282,61.5 280.8,61.5 279.6,61.4 278.4,61.2 277.2,60.8 276,60.1 274.9,58.9 274.6,57.7 274.6,56.5 274.9,55.3 275.2,54.1 275.6,53 276.1,51.7 276.5,50.5 277,49.3 277.5,48.1 278,46.9 278.5,45.7 279,44.5 279.5,43.3 280,42.1 280.5,40.9 281.1,39.7 281.6,38.5 282.1,37.3 282.7,36.1 283.2,34.9 283.7,33.7 284.3,32.5 284.8,31.3 285.3,30.1 285.9,28.9 286.4,27.7 287,26.5 287.5,25.3M259.4,25.3 259.7,26.5 259.9,27.7 260.2,28.9 260.5,30.1 260.8,31.3 261.1,32.5 261.3,33.7 261.6,34.9 261.9,36.1 262.2,37.3 262.4,38.5 262.7,39.7 263,40.9 263.2,42.1 263.5,43.3 263.8,44.5 264,45.7 264.3,46.9 264.6,48.1 264.8,49.3 265.1,50.5 265.3,51.7 265.5,52.9 265.8,54.1 266,55.3 266.1,56.5 266.2,57.7 266,58.9 265.2,59.9 264,60.8 262.8,61.7 261.8,62.5 260.4,63.3 259.2,63.6 258,63.7 256.8,63.7 255.6,63.8 254.4,63.7 253.2,63.7 252,63.7 250.8,63.6 249.6,63.6 248.4,63.6 247.2,63.5 246,63.5 244.8,63.4 243.6,63.4 242.4,63.3 241.2,63.2 240,63.2 238.8,63.1 237.6,63.1 236.4,63 235.2,63 234,62.9 232.8,62.9 231.6,62.8 230.4,62.7 229.2,62.7 228,62.6 226.8,62.6 226,62.5M312,62.5 310.8,62.6 309.6,62.6 308.4,62.7 307.2,62.7 306,62.8 304.8,62.9 303.6,62.9 302.4,63 301.2,63 300,63.1 298.8,63.1 297.6,63.2 296.4,63.3 295.2,63.3 294,63.4 292.8,63.4 291.6,63.5 290.4,63.5 289.2,63.6 288,63.6 286.8,63.7 285.6,63.7 284.4,63.7 283.2,63.7 282,63.8 280.8,63.7 279.6,63.7 278.4,63.5 277.2,63.2 276,62.5 275,61.7 274,61 272.8,60.1 271.8,58.9 271.6,57.7 271.7,56.5 271.8,55.3 272,54.1 272.3,52.9 272.5,51.7 272.7,50.5 273,49.3 273.2,48.1 273.5,46.9 273.8,45.7 274,44.5 274.3,43.3 274.6,42.1 274.8,40.9 275.1,39.7 275.4,38.5 275.6,37.3 275.9,36.1 276.2,34.9 276.5,33.7 276.7,32.5 277,31.3 277.3,30.1 277.6,28.9 277.9,27.7 278.1,26.5 278.4,25.3M265.9,25.3 266,26.5 266.1,27.7 266.2,28.9 266.3,30.1 266.4,31.3 266.5,32.5 266.6,33.7 266.6,34.9 266.7,36.1 266.8,37.3 266.9,38.5 267,39.7 267.1,40.9 267.1,42.1 267.2,43.3 267.3,44.5 267.4,45.7 267.5,46.9 267.6,48.1 267.6,49.3 267.7,50.5 267.8,51.7 267.9,52.9 267.9,54.1 268,55.3 268,56.5 268.1,57.7 268,58.9 267.2,59.9 266,60.4 264.8,61.1 263.6,62 262.6,62.9 261.6,64 260.4,64.6 259.2,64.7 258,64.7 256.8,64.7 255.6,64.7 254.4,64.7 253.2,64.7 252,64.7 250.8,64.7 249.6,64.7 248.4,64.7 247.2,64.7 246,64.7 244.8,64.7 243.6,64.7 242.4,64.7 241.2,64.7 240,64.6 238.8,64.6 237.6,64.6 236.4,64.6 235.2,64.6 234,64.6 232.8,64.6 231.6,64.6 230.4,64.6 229.2,64.6 228,64.6 226.8,64.6 226,64.6M312,64.6 310.8,64.6 309.6,64.6 308.4,64.6 307.2,64.6 306,64.6 304.8,64.6 303.6,64.6 302.4,64.6 301.2,64.6 300,64.6 298.8,64.6 297.6,64.6 296.4,64.7 295.2,64.7 294,64.7 292.8,64.7 291.6,64.7 290.4,64.7 289.2,64.7 288,64.7 286.8,64.7 285.6,64.7 284.4,64.7 283.2,64.7 282,64.7 280.8,64.7 279.6,64.7 278.4,64.7 277.2,64.6 276,63.7 275.2,62.8 274,61.7 272.8,60.9 271.6,60.4 270.4,59.8 269.8,58.5 269.7,57.3 269.8,56.1 269.8,54.9 269.9,53.7 270,52.5 270,51.3 270.1,50.1 270.2,48.9 270.3,47.7 270.3,46.5 270.4,45.3 270.5,44.1 270.6,42.9 270.7,41.7 270.8,40.5 270.9,39.3 270.9,38.1 271,36.9 271.1,35.7 271.2,34.5 271.3,33.3 271.4,32.1 271.4,30.9 271.5,29.7 271.6,28.5 271.7,27.3 271.8,26.1 271.9,25.3M312,80.3 310.8,79.9 309.6,79.5 308.4,79.1 307.2,78.7 306,78.4 304.8,78 303.6,77.6 302.4,77.3 301.2,76.9 300,76.6 298.8,76.2 297.6,75.9 296.4,75.6 295.2,75.2 294,74.9 292.8,74.6 291.6,74.4 290.4,74.2 289.2,74 288,73.9 286.8,73.9 285.6,74 284.4,74.7 283.7,76.1 283.6,77.3 283.8,78.5 284.1,79.7 284.5,80.9 285.1,82.1 285.6,83.2 286.3,84.5 287,85.7 287.7,86.9 288.4,88 289.2,89.2 290,90.5 290.8,91.7 291.6,92.9 292.4,94 293.2,95.2 294,96.3 294.8,97.5 295.5,98.5 296.4,99.7 297.2,100.9 298,102 298.8,103.1 299.5,104.1 300.4,105.3 301.2,106.4 302,107.5 302.8,108.7 303.6,109.7 304.4,110.8 304.7,111.3M233.1,111.3 233.9,110.1 234.8,108.9 235.6,107.8 236.4,106.7 237.1,105.7 238,104.5 238.8,103.4 239.6,102.3 240.3,101.3 241.2,100.1 242,98.9 242.8,97.8 243.6,96.6 244.4,95.5 245.2,94.3 245.9,93.3 246.7,92.1 247.5,90.9 248.3,89.7 249.1,88.5 249.8,87.3 250.6,86.1 251.2,85 251.9,83.7 252.5,82.5 253.1,81.3 253.6,80.1 254,78.9 254.2,77.7 254.2,76.5 253.8,75.3 252.8,74.3 251.6,73.9 250.4,73.8 249.2,73.9 248,74.1 246.8,74.3 245.6,74.5 244.4,74.8 243.2,75.1 242,75.4 240.8,75.7 239.6,76 238.4,76.4 237.2,76.7 236,77.1 234.8,77.5 233.6,77.8 232.4,78.2 231.2,78.6 230,78.9 228.8,79.3 227.6,79.7 226.4,80.1 226,80.2M312,73.7 310.8,73.5 309.6,73.3 308.4,73.1 307.2,72.8 306,72.6 304.8,72.4 303.6,72.2 302.4,72 301.2,71.7 300,71.5 298.8,71.3 297.6,71.1 296.4,70.9 295.2,70.7 294,70.5 292.8,70.3 291.6,70.1 290.4,70 289.2,69.8 288,69.7 286.8,69.5 285.6,69.5 284.4,69.4 283.2,69.5 282,69.8 280.9,70.5 280.1,71.7 279.6,72.9 279.2,74.1 279,75.3 278.9,76.5 278.9,77.7 279,78.9 279.3,80.1 279.6,81.3 280,82.5 280.4,83.7 280.8,84.9 281.3,86.1 281.8,87.3 282.4,88.5 282.9,89.7 283.5,90.9 284,92.1 284.6,93.3 285.1,94.5 285.7,95.7 286.3,96.9 286.9,98.1 287.5,99.3 288.1,100.5 288.7,101.7 289.2,102.8 289.8,104.1 290.4,105.2 291,106.5 291.6,107.6 292.2,108.9 292.8,110 293.5,111.3M244.3,111.3 244.9,110.1 245.6,108.9 246.2,107.7 246.8,106.5 247.4,105.3 248,104.1 248.5,102.9 249.1,101.7 249.7,100.5 250.3,99.3 250.9,98.1 251.5,96.9 252.1,95.7 252.7,94.5 253.2,93.4 253.8,92.1 254.3,90.9 254.9,89.7 255.4,88.5 256,87.3 256.5,86.1 257,84.9 257.4,83.7 257.8,82.5 258.2,81.3 258.5,80.1 258.8,78.9 258.9,77.7 258.9,76.5 258.8,75.3 258.6,74.1 258.2,72.9 257.7,71.7 256.9,70.5 255.6,69.7 254.4,69.5 253.2,69.4 252,69.5 250.8,69.6 249.6,69.7 248.4,69.8 247.2,70 246,70.2 244.8,70.3 243.6,70.5 242.4,70.7 241.2,70.9 240,71.1 238.8,71.4 237.6,71.6 236.4,71.8 235.2,72 234,72.2 232.8,72.4 231.6,72.7 230.4,72.9 229.2,73.1 228,73.3 226.8,73.6 226,73.7M312,68.7 310.8,68.6 309.6,68.5 308.4,68.4 307.2,68.3 306,68.2 304.8,68.1 303.6,68 302.4,67.9 301.2,67.8 300,67.7 298.8,67.6 297.6,67.5 296.4,67.4 295.2,67.3 294,67.2 292.8,67.2 291.6,67.1 290.4,67 289.2,66.9 288,66.9 286.8,66.8 285.6,66.7 284.4,66.7 283.2,66.7 282,66.7 280.8,66.8 279.6,67.2 278.8,68.1 278.4,69.3 278.1,70.5 277.7,71.7 277.2,72.9 276.7,74.1 276.1,75.3 275.7,76.5 275.4,77.7 275.3,78.9 275.3,80.1 275.4,81.3 275.6,82.5 275.9,83.7 276.1,84.9 276.4,86.1 276.7,87.3 277,88.5 277.4,89.7 277.7,90.9 278,92.1 278.4,93.3 278.7,94.5 279.1,95.7 279.4,96.9 279.8,98.1 280.1,99.3 280.5,100.5 280.8,101.7 281.2,102.9 281.6,104.1 281.9,105.3 282.3,106.5 282.6,107.7 283,108.9 283.4,110.1 283.7,111.3M254.1,111.3 254.4,110.1 254.8,108.9 255.2,107.7 255.5,106.5 255.9,105.3 256.2,104.1 256.6,102.9 257,101.7 257.3,100.5 257.7,99.3 258,98.1 258.4,96.9 258.7,95.7 259.1,94.5 259.4,93.3 259.8,92.1 260.1,90.9 260.4,89.7 260.8,88.5 261.1,87.3 261.4,86.1 261.7,84.9 261.9,83.7 262.2,82.5 262.4,81.3 262.5,80.1 262.5,78.9 262.4,77.7 262.1,76.5 261.7,75.3 261.1,74.1 260.6,72.9 260.1,71.7 259.7,70.5 259.4,69.3 259,68.1 258,67.1 256.8,66.8 255.6,66.7 254.4,66.7 253.2,66.7 252,66.7 250.8,66.8 249.6,66.9 248.4,66.9 247.2,67 246,67.1 244.8,67.2 243.6,67.3 242.4,67.4 241.2,67.4 240,67.5 238.8,67.6 237.6,67.7 236.4,67.8 235.2,67.9 234,68 232.8,68.1 231.6,68.2 230.4,68.3 229.2,68.4 228,68.5 226.8,68.6 226,68.7M312,66.2 310.8,66.2 309.6,66.2 308.4,66.1 307.2,66.1 306,66.1 304.8,66 303.6,66 302.4,66 301.2,65.9 300,65.9 298.8,65.8 297.6,65.8 296.4,65.8 295.2,65.7 294,65.7 292.8,65.7 291.6,65.6 290.4,65.6 289.2,65.6 288,65.6 286.8,65.5 285.6,65.5 284.4,65.5 283.2,65.5 282,65.5 280.8,65.5 279.6,65.6 278.4,65.9 277.7,67.3 277.6,68.5 277.5,69.7 277.2,70.9 276.7,72.1 276.1,73.3 275.3,74.5 274.4,75.6 273.6,76.7 273,78.1 272.8,79.3 272.7,80.5 272.8,81.7 272.9,82.9 273,84.1 273.2,85.3 273.4,86.5 273.5,87.7 273.7,88.9 273.9,90.1 274.1,91.3 274.3,92.5 274.5,93.7 274.7,94.9 274.9,96.1 275.1,97.3 275.3,98.5 275.5,99.7 275.7,100.9 275.9,102.1 276.2,103.3 276.4,104.5 276.6,105.7 276.8,106.9 277,108.1 277.2,109.3 277.4,110.5 277.6,111.3M260.2,111.3 260.4,110.1 260.7,108.9 260.9,107.7 261.1,106.5 261.3,105.3 261.5,104.1 261.7,102.9 261.9,101.7 262.1,100.5 262.3,99.3 262.6,98.1 262.8,96.9 263,95.7 263.2,94.5 263.4,93.3 263.6,92.1 263.8,90.9 264,89.7 264.1,88.5 264.3,87.3 264.5,86.1 264.7,84.9 264.8,83.7 264.9,82.5 265,81.3 265.1,80.1 265,78.9 264.7,77.7 264.1,76.5 263.2,75.3 262.4,74.3 261.7,73.3 261.1,72.1 260.6,70.9 260.3,69.7 260.2,68.5 260.1,67.3 259.7,66.1 258.4,65.6 257.2,65.5 256,65.5 254.8,65.5 253.6,65.5 252.4,65.5 251.2,65.5 250,65.6 248.8,65.6 247.6,65.6 246.4,65.6 245.2,65.7 244,65.7 242.8,65.7 241.6,65.8 240.4,65.8 239.2,65.8 238,65.9 236.8,65.9 235.6,65.9 234.4,66 233.2,66 232,66.1 230.8,66.1 229.6,66.1 228.4,66.2 227.2,66.2 226,66.2M312,65.2 310.8,65.2 309.6,65.2 308.4,65.2 307.2,65.2 306,65.2 304.8,65.2 303.6,65.2 302.4,65.2 301.2,65.1 300,65.1 298.8,65.1 297.6,65.1 296.4,65.1 295.2,65.1 294,65.1 292.8,65.1 291.6,65.1 290.4,65.1 289.2,65 288,65 286.8,65 285.6,65 284.4,65 283.2,65 282,65 280.8,65 279.6,65 278.4,65.1 277.2,65.7 277.3,66.9 277.3,68.1 277.3,69.3 277,70.5 276.6,71.7 276,72.8 275.2,73.9 274.3,74.9 273.3,75.7 272.3,76.5 271.4,77.7 271.1,78.9 271,80.1 271,81.3 271.1,82.5 271.1,83.7 271.2,84.9 271.3,86.1 271.4,87.3 271.5,88.5 271.6,89.7 271.7,90.9 271.8,92.1 271.9,93.3 272,94.5 272.1,95.7 272.2,96.9 272.3,98.1 272.5,99.3 272.6,100.5 272.7,101.7 272.8,102.9 272.9,104.1 273,105.3 273.1,106.5 273.3,107.7 273.4,108.9 273.5,110.1 273.6,111.3M264.2,111.3 264.3,110.1 264.4,108.9 264.5,107.7 264.7,106.5 264.8,105.3 264.9,104.1 265,102.9 265.1,101.7 265.2,100.5 265.4,99.3 265.5,98.1 265.6,96.9 265.7,95.7 265.8,94.5 265.9,93.3 266,92.1 266.1,90.9 266.2,89.7 266.3,88.5 266.4,87.3 266.5,86.1 266.6,84.9 266.7,83.7 266.7,82.5 266.8,81.3 266.8,80.1 266.7,78.9 266.4,77.7 265.6,76.6 264.5,75.7 263.5,74.9 262.4,73.7 261.6,72.5 261.1,71.3 260.7,70.1 260.6,68.9 260.5,67.7 260.6,66.5 260.3,65.3 258.8,65.1 257.6,65 256.4,65 255.2,65 254,65 252.8,65 251.6,65 250.4,65 249.2,65 248,65.1 246.8,65.1 245.6,65.1 244.4,65.1 243.2,65.1 242,65.1 240.8,65.1 239.6,65.1 238.4,65.1 237.2,65.1 236,65.2 234.8,65.2 233.6,65.2 232.4,65.2 231.2,65.2 230,65.2 228.8,65.2 227.6,65.2 226.4,65.2 226,65.2" fill="none" stroke="#5597d4" stroke-width="0.55" stroke-linejoin="round"/>
<path d="M239.7,39.1L242.1,40.2L240.5,41.6ZM252,49L254.2,50.5L252.2,51.6ZM249.2,39L251.5,40.4L249.6,41.6ZM260.6,48.9L262.6,50.7L260.5,51.5ZM262.5,38.8L264.1,40.9L262,41.4ZM267.6,48.8L268.9,51.1L266.7,51.3ZM248.8,89L249.1,86.4L251,87.6ZM250.4,99.1L250.5,96.4L252.5,97.4ZM260.6,89.2L260.1,86.6L262.3,87.1ZM262.4,99.2L261.7,96.6L263.9,97ZM266.3,89.2L265.4,86.7L267.6,86.9Z" fill="#5597d4"/><clipPath id="sc268_68"><circle cx="268.9" cy="68.4" r="8.3"/></clipPath>
<circle cx="268.9" cy="68.4" r="8.3" fill="#fff"/>
<g clip-path="url(#sc268_68)">
<path d="M259.6,59.4 Q268.9,59.4 278.2,59.4 V62.4 Q268.9,63 259.6,62.4 Z" fill="#9a9a9a"/>
<path d="M259.6,62.4 Q268.9,63.6 278.2,62.4 V66 Q268.9,67.2 259.6,66 Z" fill="#404040"/>
</g>
<circle cx="268.9" cy="68.4" r="8.3" fill="none" stroke="#777" stroke-width="0.4"/><rect x="297.8" y="104.4" width="7.7" height="1.7" fill="#222"/></g>
<rect x="228" y="27.3" width="82.2" height="82.1" fill="none" stroke="#808080" stroke-width="0.9"/>
<clipPath id="fA2"><rect x="227.3" y="116.6" width="82.5" height="82.3"/></clipPath>
<rect x="227.3" y="116.6" width="82.5" height="82.3" fill="#f7fafd"/>
<g clip-path="url(#fA2)"><ellipse cx="268.6" cy="154" rx="22" ry="22" fill="url(#blueHalo)"/><path d="M302.6,114.6 302.2,115.8 301.8,117 301.4,118.2 301,119.4 300.6,120.6 300.1,121.8 299.7,123 299.3,124.2 298.9,125.4 298.4,126.6 298,127.8 297.6,129 297.1,130.2 296.7,131.4 296.2,132.6 295.7,133.8 295.3,135 294.8,136.2 294.4,137.4 293.9,138.6 293.4,139.8 293,141 292.5,142.2 292.1,143.4 291.7,144.6 291.3,145.8 290.9,147 290.6,148.2 290.3,149.4 290.1,150.6 289.9,151.8 289.8,153 289.8,154.2 289.9,155.4 290.1,156.6 290.4,157.8 290.7,159 291,160.2 291.4,161.4 291.9,162.6 292.3,163.8 292.8,165 293.3,166.2 293.8,167.4 294.3,168.6 294.8,169.8 295.2,171 295.7,172.1 296.2,173.4 296.7,174.6 297.2,175.8 297.6,177 298.1,178.2 298.5,179.4 299,180.6 299.4,181.8 299.9,183 300.3,184.2 300.7,185.4 301.1,186.6 301.6,187.8 302,189 302.4,190.2 302.8,191.4 303.2,192.6 303.6,193.8 304,195 304.3,196.2 304.7,197.4 305.1,198.6 305.5,199.8 305.7,200.6M231.5,200.6 231.8,199.4 232.2,198.2 232.6,197 233,195.8 233.4,194.6 233.8,193.4 234.2,192.2 234.6,191 235,189.8 235.4,188.6 235.8,187.4 236.2,186.2 236.6,185 237.1,183.8 237.5,182.6 237.9,181.4 238.4,180.2 238.8,179 239.3,177.8 239.7,176.6 240.2,175.4 240.7,174.2 241.2,173 241.6,171.8 242.1,170.6 242.6,169.4 243.1,168.2 243.6,167 244.1,165.8 244.6,164.6 245,163.4 245.5,162.2 245.9,161 246.3,159.8 246.6,158.6 246.9,157.4 247.2,156.2 247.3,155 247.4,153.8 247.3,152.6 247.2,151.4 247,150.2 246.8,149 246.5,147.8 246.2,146.6 245.8,145.4 245.4,144.2 244.9,143 244.5,141.8 244.1,140.6 243.6,139.4 243.1,138.2 242.7,137 242.2,135.8 241.8,134.6 241.3,133.4 240.8,132.2 240.4,131 239.9,129.8 239.5,128.6 239.1,127.4 238.6,126.2 238.2,125 237.8,123.8 237.3,122.6 236.9,121.4 236.5,120.2 236.1,119 235.7,117.9 235.3,116.7 234.9,115.5 234.6,114.6M305.8,114.6 305.4,115.8 305,117 304.6,118.2 304.2,119.4 303.7,120.6 303.3,121.8 302.9,123 302.5,124.2 302,125.4 301.6,126.6 301.1,127.8 300.7,129 300.2,130.2 299.8,131.4 299.3,132.6 298.9,133.7 298.4,135 298,136.2 297.5,137.4 297.1,138.6 296.6,139.8 296.2,141 295.8,142.2 295.4,143.4 295,144.6 294.7,145.8 294.4,147 294.1,148.2 293.8,149.4 293.7,150.6 293.5,151.8 293.5,153 293.5,154.2 293.6,155.4 293.7,156.6 294,157.8 294.2,159 294.5,160.2 294.9,161.4 295.3,162.6 295.7,163.8 296.1,165 296.6,166.2 297,167.4 297.5,168.6 298,169.8 298.4,171 298.9,172.1 299.4,173.4 299.9,174.6 300.3,175.8 300.8,177 301.2,178.2 301.7,179.4 302.2,180.6 302.6,181.8 303,183 303.5,184.2 303.9,185.4 304.4,186.6 304.8,187.8 305.2,189 305.6,190.2 306,191.4 306.5,192.6 306.9,193.8 307.3,195 307.7,196.2 308.1,197.4 308.5,198.6 308.8,199.8 309.1,200.6M228.1,200.6 228.5,199.4 228.9,198.2 229.3,197 229.7,195.8 230.1,194.6 230.5,193.4 230.9,192.2 231.3,191 231.7,189.8 232.1,188.7 232.6,187.4 233,186.2 233.4,185 233.9,183.8 234.3,182.6 234.7,181.4 235.2,180.2 235.6,179 236.1,177.8 236.6,176.6 237,175.4 237.5,174.2 238,173 238.4,171.8 238.9,170.6 239.4,169.4 239.8,168.2 240.3,167 240.8,165.8 241.2,164.6 241.6,163.4 242,162.2 242.4,161 242.8,159.8 243.1,158.6 243.3,157.4 243.5,156.2 243.6,155 243.7,153.8 243.7,152.6 243.6,151.4 243.5,150.2 243.3,149 243,147.8 242.7,146.6 242.4,145.4 242,144.2 241.7,143 241.3,141.8 240.8,140.6 240.4,139.4 240,138.2 239.5,137 239.1,135.8 238.6,134.6 238.2,133.4 237.7,132.2 237.3,131 236.8,129.8 236.4,128.6 235.9,127.4 235.5,126.2 235,125 234.6,123.8 234.2,122.6 233.7,121.4 233.3,120.2 232.9,119 232.5,117.9 232.1,116.7 231.7,115.6 231.4,114.6M309.3,114.6 308.8,115.8 308.4,117 308,118.2 307.6,119.4 307.1,120.6 306.7,121.8 306.3,123 305.8,124.2 305.4,125.4 304.9,126.6 304.5,127.7 304,129 303.6,130.2 303.1,131.4 302.7,132.6 302.3,133.8 301.8,135 301.4,136.2 300.9,137.4 300.5,138.6 300.1,139.8 299.7,141 299.3,142.2 299,143.4 298.6,144.6 298.3,145.8 298,147 297.8,148.2 297.6,149.4 297.5,150.6 297.4,151.8 297.3,153 297.4,154.2 297.4,155.4 297.6,156.6 297.8,157.8 298,159 298.3,160.2 298.6,161.4 298.9,162.6 299.3,163.8 299.7,165 300.1,166.1 300.6,167.4 301,168.6 301.4,169.8 301.9,171 302.3,172.2 302.8,173.4 303.3,174.6 303.7,175.7 304.2,177 304.6,178.2 305.1,179.4 305.5,180.6 306,181.8 306.4,183 306.9,184.2 307.3,185.3 307.8,186.6 308.2,187.8 308.6,189 309.1,190.2 309.5,191.4 309.9,192.6 310.3,193.8 310.7,195 311.2,196.2 311.6,197.4 311.7,197.8M225.3,198.4 225.7,197.2 226.1,196 226.5,194.9 226.9,193.7 227.3,192.6 227.7,191.4 228.1,190.2 228.6,189 229,187.8 229.4,186.6 229.9,185.4 230.3,184.2 230.8,183 231.2,181.8 231.7,180.6 232.1,179.4 232.6,178.2 233,177 233.5,175.8 233.9,174.6 234.4,173.4 234.9,172.2 235.3,171 235.8,169.8 236.2,168.6 236.6,167.4 237.1,166.2 237.5,165 237.9,163.8 238.3,162.6 238.6,161.4 238.9,160.2 239.2,159 239.4,157.8 239.6,156.6 239.8,155.4 239.8,154.2 239.9,153 239.8,151.8 239.7,150.6 239.6,149.4 239.4,148.2 239.2,147 238.9,145.8 238.6,144.6 238.2,143.4 237.9,142.2 237.5,141 237.1,139.8 236.7,138.6 236.3,137.4 235.8,136.2 235.4,135 234.9,133.8 234.5,132.6 234.1,131.4 233.6,130.2 233.2,129 232.7,127.8 232.3,126.6 231.8,125.4 231.4,124.2 230.9,123 230.5,121.8 230.1,120.7 229.6,119.4 229.2,118.2 228.8,117 228.4,115.8 227.9,114.6M311.7,116.3 311.2,117.8 310.7,119 310.3,120.2 309.9,121.4 309.4,122.6 309,123.8 308.5,125 308.1,126.2 307.7,127.4 307.2,128.6 306.8,129.8 306.3,131 305.9,132.2 305.5,133.4 305,134.6 304.6,135.8 304.2,137 303.8,138.2 303.4,139.4 303,140.6 302.7,141.8 302.3,143 302,144.2 301.7,145.4 301.5,146.6 301.2,147.8 301.1,149 300.9,150.2 300.8,151.4 300.8,152.6 300.8,153.8 300.8,155 301,156.2 301.1,157.4 301.3,158.6 301.5,159.8 301.8,161 302.1,162.2 302.5,163.4 302.8,164.6 303.2,165.8 303.6,167 304,168.2 304.4,169.4 304.9,170.6 305.3,171.8 305.7,173 306.2,174.2 306.6,175.4 307.1,176.6 307.5,177.8 308,179 308.4,180.2 308.9,181.4 309.3,182.6 309.8,183.8 310.2,185 310.7,186.2 311.1,187.4 311.6,188.6 311.7,189M225.3,189.6 225.8,188.2 226.2,187 226.7,185.8 227.1,184.6 227.6,183.4 228,182.2 228.5,181 228.9,179.8 229.4,178.6 229.8,177.4 230.3,176.2 230.7,175 231.2,173.8 231.6,172.6 232,171.4 232.5,170.2 232.9,169 233.3,167.9 233.7,166.7 234.1,165.5 234.5,164.2 234.8,163 235.2,161.8 235.5,160.6 235.7,159.4 236,158.2 236.2,157 236.3,155.8 236.4,154.6 236.4,153.4 236.4,152.2 236.4,151 236.2,149.8 236.1,148.6 235.9,147.4 235.7,146.2 235.4,145 235.1,143.8 234.8,142.6 234.4,141.4 234,140.2 233.7,139 233.3,137.8 232.9,136.6 232.4,135.4 232,134.2 231.6,133 231.2,131.8 230.7,130.6 230.3,129.4 229.8,128.2 229.4,127 228.9,125.8 228.5,124.6 228.1,123.4 227.6,122.2 227.2,121 226.8,119.8 226.3,118.6 225.9,117.4 225.5,116.2 225.3,115.8M311.7,125.7 311.2,127 310.8,128.2 310.4,129.4 309.9,130.6 309.5,131.8 309.1,133 308.7,134.2 308.3,135.4 307.9,136.6 307.5,137.8 307.1,139 306.7,140.2 306.4,141.4 306.1,142.6 305.8,143.8 305.5,145 305.3,146.2 305.1,147.4 304.9,148.6 304.8,149.8 304.7,151 304.6,152.2 304.6,153.4 304.7,154.6 304.7,155.8 304.9,157 305,158.2 305.2,159.4 305.5,160.6 305.7,161.8 306,163 306.4,164.2 306.7,165.4 307.1,166.6 307.5,167.8 307.9,169 308.3,170.2 308.7,171.4 309.1,172.6 309.5,173.8 310,175 310.4,176.2 310.8,177.4 311.3,178.6 311.7,179.7M225.3,180.3 225.8,179 226.2,177.8 226.7,176.6 227.1,175.4 227.5,174.2 228,173 228.4,171.8 228.8,170.6 229.2,169.4 229.6,168.2 230,167 230.4,165.8 230.7,164.6 231.1,163.4 231.4,162.2 231.6,161 231.9,159.8 232.1,158.6 232.3,157.4 232.4,156.2 232.5,155 232.6,153.8 232.6,152.6 232.6,151.4 232.5,150.2 232.4,149 232.2,147.8 232,146.6 231.8,145.4 231.5,144.2 231.2,143 230.9,141.8 230.6,140.6 230.2,139.4 229.9,138.2 229.5,137 229.1,135.8 228.7,134.6 228.3,133.4 227.8,132.2 227.4,131 227,129.8 226.6,128.6 226.1,127.4 225.7,126.3 225.3,125.2M311.7,134 311.3,135.2 310.9,136.5 310.5,137.8 310.1,139 309.8,140.2 309.5,141.4 309.2,142.6 308.9,143.8 308.7,145 308.4,146.2 308.2,147.4 308.1,148.6 308,149.8 307.9,151 307.8,152.2 307.8,153.4 307.9,154.6 308,155.8 308.1,157 308.2,158.2 308.4,159.4 308.6,160.6 308.9,161.8 309.2,163 309.5,164.2 309.8,165.4 310.1,166.6 310.5,167.8 310.9,169 311.3,170.2 311.7,171.4 311.7,171.5M225.3,172.1 225.7,170.9 226.1,169.7 226.5,168.4 226.9,167.1 227.3,165.8 227.6,164.6 227.9,163.4 228.2,162.2 228.5,161 228.7,159.8 228.9,158.6 229.1,157.4 229.2,156.2 229.3,155 229.3,153.8 229.4,152.6 229.3,151.4 229.3,150.2 229.2,149 229,147.8 228.8,146.6 228.6,145.4 228.4,144.2 228.1,143 227.8,141.8 227.5,140.6 227.2,139.4 226.8,138.2 226.5,137 226.1,135.8 225.7,134.6 225.3,133.4M271.2,114.6 271.1,115.8 271.1,117 271,118.2 271,119.4 271,120.6 270.9,121.8 270.9,123 270.8,124.2 270.8,125.4 270.7,126.6 270.7,127.8 270.6,129 270.6,130.2 270.5,131.4 270.4,132.6 270.4,133.8 270.3,135 270.3,136.2 270.2,137.4 270.1,138.6 270,139.8 270,141 269.9,142.2 269.8,143.4 269.7,144.6 269.6,145.8 269.5,147 269.4,148.2 269.3,149.4 269.1,150.6M268.1,150.6 267.9,149.4 267.8,148.2 267.7,147 267.6,145.8 267.5,144.6 267.4,143.4 267.3,142.2 267.2,141 267.2,139.8 267.1,138.6 267,137.4 266.9,136.2 266.9,135 266.8,133.8 266.8,132.6 266.7,131.4 266.6,130.2 266.6,129 266.5,127.8 266.5,126.6 266.4,125.4 266.4,124.2 266.3,123 266.3,121.8 266.2,120.6 266.2,119.4 266.1,118.2 266.1,117 266.1,115.8 266,114.6M269.6,165.8 269.8,167 269.9,168.2 270,169.4 270.1,170.6 270.2,171.8 270.3,173 270.4,174.2 270.5,175.4 270.5,176.6 270.6,177.8 270.7,179 270.7,180.2 270.8,181.4 270.8,182.6 270.9,183.8 270.9,185 271,186.2 271,187.4 271.1,188.6 271.1,189.8 271.2,191 271.2,192.2 271.3,193.4 271.3,194.6 271.3,195.8 271.4,197 271.4,198.2 271.5,199.4 271.5,200.6M265.7,200.6 265.7,199.4 265.8,198.2 265.8,197 265.9,195.8 265.9,194.6 265.9,193.4 266,192.2 266,191 266.1,189.8 266.1,188.6 266.2,187.4 266.2,186.2 266.3,185 266.3,183.8 266.4,182.6 266.4,181.4 266.5,180.2 266.5,179 266.6,177.8 266.7,176.6 266.7,175.4 266.8,174.2 266.9,173 267,171.8 267.1,170.6 267.2,169.4 267.3,168.2 267.4,167 267.6,165.8M277.1,114.6 276.9,115.8 276.8,117 276.7,118.2 276.5,119.4 276.4,120.6 276.2,121.8 276.1,123 275.9,124.2 275.8,125.4 275.6,126.6 275.4,127.8 275.3,129 275.1,130.2 274.9,131.4 274.7,132.6 274.5,133.8 274.3,135 274.1,136.2 273.9,137.4 273.7,138.6 273.5,139.8 273.2,141 273,142.2 272.7,143.4 272.4,144.6 272.1,145.8 271.8,147 271.5,148.2 271.1,149.4 270.7,150.6 270.6,150.7M266.5,150.6 266.1,149.4 265.7,148.2 265.4,147 265.1,145.8 264.8,144.6 264.5,143.4 264.2,142.2 264,141 263.7,139.8 263.5,138.6 263.3,137.4 263.1,136.2 262.9,135 262.7,133.8 262.5,132.6 262.3,131.4 262.1,130.2 261.9,129 261.8,127.8 261.6,126.6 261.4,125.4 261.3,124.2 261.1,123 261,121.8 260.8,120.6 260.7,119.4 260.5,118.2 260.4,117 260.3,115.8 260.1,114.6M272,165.1 272.5,166.4 273,167.8 273.4,169 273.7,170.2 274,171.4 274.3,172.6 274.5,173.8 274.7,175 275,176.2 275.2,177.4 275.4,178.6 275.6,179.8 275.7,181 275.9,182.2 276.1,183.4 276.2,184.6 276.4,185.8 276.6,187 276.7,188.2 276.9,189.4 277,190.6 277.1,191.8 277.3,193 277.4,194.2 277.5,195.4 277.7,196.6 277.8,197.8 277.9,199 278.1,200.2 278.1,200.6M259.1,200.6 259.2,199.4 259.3,198.2 259.5,197 259.6,195.8 259.7,194.6 259.9,193.4 260,192.2 260.2,191 260.3,189.8 260.4,188.6 260.6,187.4 260.7,186.2 260.9,185 261.1,183.8 261.2,182.6 261.4,181.4 261.6,180.2 261.8,179 262,177.8 262.2,176.6 262.4,175.4 262.6,174.2 262.8,173 263.1,171.8 263.4,170.6 263.7,169.4 264.1,168.2 264.5,167 264.9,165.9 265.3,165M282.9,114.6 282.7,115.8 282.5,117 282.3,118.2 282,119.4 281.8,120.6 281.6,121.8 281.3,123 281.1,124.2 280.8,125.4 280.6,126.6 280.3,127.8 280,129 279.7,130.2 279.5,131.4 279.2,132.6 278.9,133.8 278.5,135 278.2,136.2 277.9,137.4 277.5,138.6 277.2,139.8 276.8,141 276.4,142.2 276,143.4 275.6,144.6 275.1,145.8 274.6,147 274.1,148.2 273.5,149.4 273,150.6 272.6,151.5M264.7,151.6 264.1,150.3 263.5,149 262.9,147.8 262.4,146.6 261.9,145.4 261.5,144.2 261.1,143 260.7,141.8 260.3,140.6 259.9,139.4 259.5,138.2 259.2,137 258.9,135.8 258.6,134.6 258.2,133.4 257.9,132.2 257.7,131 257.4,129.8 257.1,128.6 256.8,127.4 256.6,126.2 256.3,125 256,123.8 255.8,122.6 255.6,121.4 255.3,120.2 255.1,119 254.9,117.8 254.6,116.6 254.4,115.4 254.3,114.6M274,163.5 274.9,164.5 275.7,165.8 276.4,167 276.9,168.1 277.4,169.4 277.9,170.6 278.3,171.8 278.7,173 279.1,174.2 279.4,175.4 279.7,176.6 280.1,177.8 280.4,179 280.6,180.2 280.9,181.4 281.2,182.6 281.5,183.8 281.7,185 282,186.2 282.2,187.4 282.5,188.6 282.7,189.8 282.9,191 283.1,192.2 283.4,193.4 283.6,194.6 283.8,195.8 284,197 284.2,198.2 284.4,199.4 284.6,200.6M252.6,200.6 252.8,199.4 253,198.2 253.2,197 253.4,195.8 253.6,194.6 253.8,193.4 254.1,192.2 254.3,191 254.5,189.8 254.7,188.6 255,187.4 255.2,186.2 255.5,185 255.7,183.8 256,182.6 256.3,181.4 256.6,180.2 256.8,179 257.2,177.8 257.5,176.6 257.8,175.4 258.1,174.2 258.5,173 258.9,171.8 259.3,170.6 259.8,169.4 260.3,168.2 260.8,167 261.5,165.8 262.2,164.6 263.1,163.6M289.3,114.6 289,115.8 288.7,117 288.4,118.2 288.1,119.4 287.8,120.6 287.4,121.8 287.1,123 286.8,124.2 286.5,125.4 286.1,126.6 285.8,127.8 285.4,129 285,130.2 284.7,131.4 284.3,132.6 283.9,133.8 283.5,135 283.1,136.2 282.6,137.4 282.2,138.6 281.8,139.8 281.3,141 280.8,142.2 280.3,143.4 279.8,144.6 279.3,145.7 278.7,147 278.1,148.2 277.5,149.4 276.9,150.6 276.3,151.8 275.7,153 275.2,154.1M262.1,154.1 261.5,153 260.9,151.8 260.3,150.6 259.7,149.5 259.1,148.2 258.5,147 257.9,145.8 257.4,144.6 256.9,143.4 256.4,142.2 255.9,141 255.4,139.8 255,138.6 254.6,137.4 254.1,136.2 253.7,135 253.3,133.8 252.9,132.6 252.5,131.4 252.2,130.2 251.8,129 251.4,127.8 251.1,126.6 250.7,125.4 250.4,124.2 250.1,123 249.7,121.8 249.4,120.6 249.1,119.4 248.8,118.2 248.5,117 248.2,115.8 247.9,114.6M276.1,160.2 277.1,161 278.1,162 278.9,163 279.7,164.2 280.4,165.4 281.1,166.6 281.7,167.8 282.2,169 282.7,170.2 283.2,171.4 283.7,172.6 284.2,173.8 284.6,175 285,176.2 285.4,177.4 285.8,178.6 286.2,179.8 286.5,181 286.9,182.2 287.2,183.4 287.6,184.6 287.9,185.8 288.2,187 288.6,188.2 288.9,189.4 289.2,190.6 289.5,191.8 289.8,193 290.1,194.2 290.4,195.4 290.7,196.6 290.9,197.8 291.2,199 291.5,200.2 291.6,200.6M245.6,200.6 245.9,199.4 246.2,198.2 246.5,197 246.7,195.8 247,194.6 247.3,193.4 247.6,192.2 247.9,191 248.2,189.8 248.5,188.6 248.8,187.4 249.2,186.2 249.5,185 249.8,183.8 250.2,182.6 250.5,181.4 250.9,180.2 251.3,179 251.7,177.8 252.1,176.6 252.5,175.4 252.9,174.2 253.3,173 253.8,171.8 254.3,170.6 254.8,169.4 255.4,168.2 255.9,167 256.5,165.9 257.3,164.6 258.1,163.4 258.9,162.3 259.7,161.4 260.9,160.3 261.2,160.1M295.9,114.6 295.6,115.8 295.2,117 294.8,118.2 294.5,119.4 294.1,120.6 293.7,121.8 293.3,123 292.9,124.2 292.5,125.4 292.1,126.6 291.7,127.8 291.3,129 290.9,130.2 290.5,131.4 290,132.6 289.6,133.8 289.1,135 288.7,136.2 288.2,137.4 287.7,138.6 287.2,139.8 286.8,141 286.3,142.2 285.8,143.4 285.3,144.5 284.8,145.8 284.3,147 283.8,148.2 283.4,149.4 283,150.6 282.7,151.8 282.4,153 282.3,154.2 282.3,155.4 282.5,156.6 282.9,157.8 283.3,159 283.9,160.2 284.5,161.4 285,162.6 285.6,163.8 286.2,165 286.8,166.2 287.3,167.3 287.9,168.6 288.4,169.8 288.9,171 289.4,172.2 289.9,173.4 290.4,174.6 290.8,175.8 291.3,177 291.7,178.1 292.2,179.4 292.6,180.6 293,181.8 293.4,183 293.8,184.2 294.2,185.4 294.6,186.6 295,187.8 295.3,189 295.7,190.2 296.1,191.4 296.4,192.6 296.8,193.8 297.1,195 297.5,196.2 297.8,197.4 298.1,198.6 298.5,199.8 298.7,200.6M238.5,200.6 238.8,199.4 239.2,198.2 239.5,197 239.9,195.8 240.2,194.6 240.5,193.4 240.9,192.2 241.3,191 241.6,189.8 242,188.6 242.4,187.4 242.8,186.2 243.1,185 243.5,183.8 243.9,182.6 244.3,181.4 244.8,180.2 245.2,179 245.6,177.8 246.1,176.6 246.5,175.5 247,174.2 247.5,173 248,171.8 248.5,170.6 249,169.4 249.5,168.2 250,167 250.6,165.8 251.2,164.6 251.8,163.4 252.4,162.2 252.9,161.1 253.5,159.8 254,158.6 254.4,157.4 254.7,156.2 254.9,155 254.9,153.8 254.7,152.6 254.4,151.4 254.1,150.2 253.7,149.1 253.2,147.8 252.7,146.6 252.3,145.4 251.8,144.2 251.3,143.1 250.8,141.8 250.3,140.6 249.8,139.4 249.3,138.2 248.8,137 248.4,135.8 247.9,134.6 247.5,133.4 247,132.2 246.6,131 246.2,129.8 245.8,128.6 245.3,127.4 244.9,126.2 244.5,125 244.1,123.8 243.7,122.6 243.4,121.4 243,120.2 242.6,119 242.2,117.8 241.9,116.6 241.5,115.4 241.3,114.6" fill="none" stroke="#5597d4" stroke-width="0.55" stroke-linejoin="round"/>
<path d="M295.6,134.1L295.4,131.5L297.5,132.3ZM236.2,186.1L236,183.5L238.1,184.2ZM296.2,141.1L295.9,138.5L298,139.2ZM235.6,179.1L235.4,176.5L237.5,177.3ZM302.1,134.1L301.9,131.5L304,132.3ZM302.9,141.1L302.5,138.5L304.6,139.2ZM270.4,134.2L269.4,131.7L271.6,131.9ZM266.5,179.2L265.6,176.7L267.8,176.9ZM274.5,134.2L273.8,131.6L275.9,132ZM261.7,179.2L261,176.6L263.2,177ZM278.8,134.2L278.3,131.6L280.4,132.1ZM256.8,179.2L256.3,176.6L258.5,177.1ZM283.8,134.1L283.5,131.5L285.6,132.2ZM251.2,179.1L250.9,176.5L253,177.2ZM289.5,134.1L289.3,131.5L291.3,132.3ZM242.8,186.1L242.5,183.5L244.6,184.2Z" fill="#5597d4"/><clipPath id="sc268_158"><circle cx="268.6" cy="158.2" r="8.2"/></clipPath>
<circle cx="268.6" cy="158.2" r="8.2" fill="#fff"/>
<g clip-path="url(#sc268_158)">
<path d="M259.4,149.2 Q268.6,149.2 277.8,149.2 V153.2 Q268.6,154.2 259.4,153.2 Z" fill="#3c3c3c"/>
<path d="M259.4,153.2 Q268.6,154.2 277.8,153.2 V155 Q268.6,156 259.4,155 Z" fill="#6a6a6a"/>
</g>
<circle cx="268.6" cy="158.2" r="8.2" fill="none" stroke="#777" stroke-width="0.4"/><rect x="297.6" y="193.7" width="8.1" height="1.7" fill="#222"/></g>
<rect x="227.3" y="116.6" width="82.5" height="82.3" fill="none" stroke="#808080" stroke-width="0.9"/>
<clipPath id="fC1"><rect x="227.3" y="257" width="82.5" height="82.6"/></clipPath>
<rect x="227.3" y="257" width="82.5" height="82.6" fill="#f7fafd"/>
<g clip-path="url(#fC1)"><ellipse cx="268.6" cy="299" rx="22" ry="22" fill="url(#blueHalo)"/><path d="M265.3,255 265.4,256.2 265.5,257.4 265.6,258.6 265.7,259.8 265.8,261 265.9,262.2 266,263.4 266.1,264.6 266.1,265.8 266.2,267 266.3,268.2 266.4,269.4 266.5,270.6 266.6,271.8 266.7,273 266.8,274.2 266.9,275.4 266.9,276.6 267,277.8 267.1,279 267.2,280.2 267.3,281.4 267.4,282.6 267.5,283.8 267.6,285 267.7,286.2 267.7,287.4 267.9,288.6 267.9,289.8 268,291M269.2,291 269.3,289.8 269.4,288.6 269.4,287.4 269.5,286.2 269.6,285 269.7,283.8 269.8,282.6 269.9,281.4 270,280.2 270.1,279 270.2,277.8 270.3,276.6 270.3,275.4 270.4,274.2 270.5,273 270.6,271.8 270.7,270.6 270.8,269.4 270.9,268.2 271,267 271.1,265.8 271.1,264.6 271.2,263.4 271.3,262.2 271.4,261 271.5,259.8 271.6,258.6 271.7,257.4 271.8,256.2 271.9,255M260.9,299 259.7,299 258.5,298.9 257.3,298.9 256.1,298.9 254.9,298.9 253.7,298.9 252.5,298.9 251.3,298.9 250.1,298.9 248.9,298.9 247.7,298.9 246.5,298.9 245.3,298.9 244.1,298.9 242.9,298.9 241.7,298.9 240.5,298.8 239.3,298.8 238.1,298.8 236.9,298.8 235.7,298.8 234.5,298.8 233.3,298.8 232.1,298.8 230.9,298.8 229.7,298.8 228.5,298.8 227.3,298.8 226.1,298.8 225.3,298.8M311.7,298.8 310.5,298.8 309.3,298.8 308.1,298.8 306.9,298.8 305.7,298.8 304.5,298.8 303.3,298.8 302.1,298.8 300.9,298.8 299.7,298.8 298.5,298.8 297.3,298.8 296.1,298.9 294.9,298.9 293.7,298.9 292.5,298.9 291.3,298.9 290.1,298.9 288.9,298.9 287.7,298.9 286.5,298.9 285.3,298.9 284.1,298.9 282.9,298.9 281.7,298.9 280.5,298.9 279.3,298.9 278.1,298.9 276.9,299 276.5,299M258.8,255 259.1,256.2 259.3,257.4 259.6,258.6 259.9,259.8 260.1,261 260.4,262.2 260.7,263.4 260.9,264.6 261.2,265.8 261.5,267 261.7,268.2 262,269.4 262.3,270.6 262.5,271.8 262.8,273 263.1,274.2 263.4,275.4 263.6,276.6 263.9,277.8 264.2,279 264.4,280.2 264.7,281.4 265,282.6 265.2,283.8 265.5,285 265.8,286.2 266,287.4 266.3,288.6 266.6,289.8 266.8,291 266.9,291.4M270.3,291.4 270.6,290.2 270.8,289 271.1,287.8 271.4,286.6 271.6,285.4 271.9,284.2 272.2,283 272.4,281.8 272.7,280.6 273,279.4 273.2,278.2 273.5,277 273.8,275.8 274,274.6 274.3,273.4 274.6,272.2 274.8,271 275.1,269.8 275.4,268.6 275.6,267.4 275.9,266.2 276.2,265 276.4,263.8 276.7,262.6 277,261.4 277.2,260.2 277.5,259 277.8,257.8 278,256.6 278.3,255.4 278.4,255M311.7,297 310.5,297.1 309.3,297.1 308.1,297.2 306.9,297.2 305.7,297.3 304.5,297.3 303.3,297.4 302.1,297.5 300.9,297.5 299.7,297.6 298.5,297.6 297.3,297.7 296.1,297.7 294.9,297.8 293.7,297.8 292.5,297.9 291.3,298 290.1,298 288.9,298.1 287.7,298.1 286.5,298.2 285.3,298.2 284.1,298.3 282.9,298.3 281.7,298.4 280.5,298.4 279.3,298.5 278.1,298.6 276.9,298.6 276.5,298.6M260.9,298.6 259.7,298.6 258.5,298.5 257.3,298.5 256.1,298.4 254.9,298.4 253.7,298.3 252.5,298.3 251.3,298.2 250.1,298.1 248.9,298.1 247.7,298 246.5,298 245.3,297.9 244.1,297.9 242.9,297.8 241.7,297.8 240.5,297.7 239.3,297.6 238.1,297.6 236.9,297.5 235.7,297.5 234.5,297.4 233.3,297.4 232.1,297.3 230.9,297.3 229.7,297.2 228.5,297.1 227.3,297.1 226.1,297 225.3,297M252.3,255 252.7,256.2 253.2,257.4 253.6,258.6 254.1,259.8 254.5,261 255,262.2 255.4,263.4 255.8,264.6 256.3,265.8 256.7,267 257.2,268.2 257.6,269.4 258.1,270.6 258.5,271.8 259,273 259.4,274.2 259.9,275.4 260.3,276.6 260.7,277.8 261.2,279 261.6,280.2 262.1,281.4 262.5,282.5 263,283.8 263.4,285 263.9,286.2 264.3,287.4 264.7,288.6 265.2,289.8 265.6,291 265.9,291.6M271.3,291.8 271.7,290.6 272.2,289.4 272.6,288.2 273,287 273.5,285.8 273.9,284.6 274.4,283.4 274.8,282.2 275.3,281 275.7,279.9 276.2,278.6 276.6,277.4 277.1,276.2 277.5,275 277.9,273.8 278.4,272.6 278.8,271.4 279.3,270.2 279.7,269.1 280.2,267.8 280.6,266.6 281.1,265.4 281.5,264.2 281.9,263 282.4,261.8 282.8,260.6 283.3,259.4 283.7,258.2 284.2,257 284.6,255.8 284.9,255M311.7,294 310.5,294.2 309.3,294.3 308.1,294.4 306.9,294.6 305.7,294.7 304.5,294.9 303.3,295 302.1,295.1 300.9,295.3 299.7,295.4 298.5,295.5 297.3,295.7 296.1,295.8 294.9,296 293.7,296.1 292.5,296.2 291.3,296.4 290.1,296.5 288.9,296.7 287.7,296.8 286.5,296.9 285.3,297.1 284.1,297.2 282.9,297.3 281.7,297.5 280.5,297.6 279.3,297.8 278.1,297.9 276.9,298 276.5,298.1M260.9,298.1 259.7,298 258.5,297.8 257.3,297.7 256.1,297.6 254.9,297.4 253.7,297.3 252.5,297.1 251.3,297 250.1,296.9 248.9,296.7 247.7,296.6 246.5,296.4 245.3,296.3 244.1,296.2 242.9,296 241.7,295.9 240.5,295.8 239.3,295.6 238.1,295.5 236.9,295.3 235.7,295.2 234.5,295.1 233.3,294.9 232.1,294.8 230.9,294.6 229.7,294.5 228.5,294.4 227.3,294.2 226.1,294.1 225.3,294M245.8,255 246.4,256.2 247,257.4 247.6,258.6 248.3,259.8 248.9,261 249.5,262.2 250.1,263.3 250.8,264.6 251.4,265.8 252,267 252.6,268.2 253.3,269.4 253.9,270.6 254.5,271.8 255.1,273 255.7,274.1 256.4,275.4 257,276.6 257.6,277.8 258.2,279 258.9,280.2 259.5,281.4 260.1,282.6 260.7,283.8 261.3,284.9 262,286.2 262.6,287.4 263.2,288.6 263.8,289.8 264.4,291 265,292.1M311.7,290.4 310.5,290.6 309.3,290.9 308.1,291.1 306.9,291.4 305.7,291.6 304.5,291.9 303.3,292.1 302.1,292.3 300.9,292.6 299.7,292.8 298.5,293.1 297.3,293.3 296.1,293.5 294.9,293.8 293.7,294 292.5,294.3 291.3,294.5 290.1,294.7 288.9,295 287.7,295.2 286.5,295.4 285.3,295.7 284.1,295.9 282.9,296.2 281.7,296.4 280.5,296.6 279.3,296.9 278.1,297.1 276.9,297.3 276.2,297.5M272.1,292.2 272.8,291 273.4,289.8 274,288.6 274.6,287.4 275.2,286.2 275.9,285 276.5,283.8 277.1,282.6 277.7,281.4 278.3,280.2 278.9,279.1 279.6,277.8 280.2,276.6 280.8,275.4 281.5,274.2 282.1,273 282.7,271.8 283.3,270.6 283.9,269.4 284.6,268.2 285.2,267 285.8,265.8 286.4,264.6 287.1,263.4 287.7,262.2 288.3,261 288.9,259.9 289.6,258.6 290.2,257.4 290.8,256.2 291.4,255M260.9,297.5 259.7,297.2 258.5,297 257.3,296.7 256.1,296.5 254.9,296.3 253.7,296 252.5,295.8 251.3,295.6 250.1,295.3 248.9,295.1 247.7,294.9 246.5,294.6 245.3,294.4 244.1,294.1 242.9,293.9 241.7,293.7 240.5,293.4 239.3,293.2 238.1,292.9 236.9,292.7 235.7,292.5 234.5,292.2 233.3,292 232.1,291.7 230.9,291.5 229.7,291.2 228.5,291 227.3,290.8 226.1,290.5 225.3,290.4M239.2,255 240,256.2 240.8,257.4 241.6,258.6 242.4,259.8 243.3,261 244.1,262.2 244.9,263.4 245.7,264.6 246.5,265.8 247.3,266.9 248.1,268.1 248.9,269.2 249.7,270.4 250.4,271.4 251.2,272.6 252,273.8 252.8,275 253.6,276.2 254.4,277.4 255.2,278.6 256,279.8 256.8,281 257.5,282.2 258.3,283.4 259.1,284.6 259.9,285.8 260.6,287 261.3,288 262.1,289.2 262.9,290.4 263.7,291.7 264.2,292.5M311.7,286.6 310.5,286.9 309.3,287.3 308.1,287.7 306.9,288 305.7,288.4 304.5,288.8 303.3,289.1 302.1,289.5 300.9,289.9 299.7,290.2 298.5,290.6 297.3,290.9 296.1,291.3 294.9,291.6 293.7,292 292.5,292.3 291.3,292.6 290.1,293 288.9,293.3 287.7,293.6 286.5,293.9 285.3,294.3 284.1,294.6 282.9,294.9 281.7,295.3 280.5,295.6 279.3,295.9 278.1,296.3 276.9,296.6 276.1,296.8M272.9,292.6 273.7,291.4 274.5,290.2 275.3,289 276,287.8 276.8,286.6 277.6,285.4 278.4,284.2 279.2,283 279.9,281.8 280.7,280.6 281.5,279.4 282.3,278.2 283.1,277 283.8,275.8 284.6,274.6 285.5,273.4 286.3,272.2 287.1,271 287.9,269.8 288.7,268.6 289.6,267.4 290.4,266.2 291.2,265 292,263.8 292.9,262.6 293.7,261.4 294.5,260.2 295.3,259 296.1,257.8 296.9,256.6 297.7,255.4 298,255M261.1,296.8 259.7,296.4 258.5,296.1 257.3,295.8 256.1,295.4 254.9,295.1 253.7,294.8 252.5,294.4 251.3,294.1 250.1,293.8 248.9,293.5 247.7,293.1 246.5,292.8 245.3,292.5 244.1,292.1 242.9,291.8 241.7,291.5 240.5,291.1 239.3,290.8 238.1,290.4 236.9,290 235.7,289.7 234.5,289.3 233.3,288.9 232.1,288.6 230.9,288.2 229.7,287.8 228.5,287.5 227.3,287.1 226.1,286.7 225.3,286.5M232.7,255 233.7,256.2 234.5,257.2 235.3,258.2 236.1,259.1 236.9,260.1 237.7,261 238.5,262 239.3,262.9 240.1,263.8 240.9,264.8 241.7,265.7 242.5,266.6 243.6,267.8 244.5,268.7 245.5,269.8 246.5,270.9 247.6,272.2 248.5,273.2 249.3,274.1 250.1,275.1 250.9,276 251.7,277 252.5,278.1 253.3,279.1 254.1,280.2 254.9,281.2 255.6,282.2 256.5,283.4 257.3,284.5 258.1,285.6 258.8,286.6 259.7,287.8 260.5,288.9 261.3,289.9 262.1,291 262.9,292 263.7,293M311.7,282.8 310.5,283.3 309.3,283.8 308.1,284.3 306.9,284.8 305.7,285.4 304.5,285.9 303.3,286.4 302.1,287 300.9,287.5 299.7,288 298.5,288.5 297.3,288.9 296.1,289.4 294.9,289.9 293.7,290.3 292.5,290.7 291.3,291.1 290.1,291.5 288.9,291.9 287.7,292.3 286.5,292.7 285.3,293.1 284.1,293.4 282.9,293.8 281.8,294.2 280.6,294.6 279.4,295 278.2,295.4 277.1,295.8 276.1,296.2M273.6,292.9 274.5,291.8 275.3,290.7 276.1,289.7 276.9,288.6 277.7,287.5 278.5,286.4 279.3,285.4 280.1,284.2 280.9,283.1 281.7,282 282.5,281 283.3,279.9 284.1,278.8 284.9,277.8 285.7,276.8 286.5,275.8 287.3,274.8 288.1,273.9 288.9,273 289.7,272.1 290.5,271.2 291.4,270.2 292.5,269 293.3,268.1 294.3,267 295.3,265.9 296.1,265 296.9,264.1 297.7,263.2 298.5,262.2 299.3,261.3 300.1,260.3 300.9,259.4 301.7,258.4 302.5,257.4 303.3,256.5 304.1,255.5 304.5,255M261.3,296.2 260.1,295.8 259,295.4 257.8,295 256.6,294.6 255.4,294.2 254.2,293.8 253,293.4 251.7,293 250.5,292.6 249.3,292.2 248.1,291.8 246.9,291.4 245.7,291 244.5,290.6 243.3,290.2 242.2,289.8 240.9,289.3 239.7,288.9 238.5,288.4 237.3,287.9 236.1,287.4 234.9,286.9 233.7,286.3 232.5,285.8 231.3,285.3 230.1,284.8 228.9,284.2 227.7,283.7 226.5,283.2 225.3,282.7M226.2,255 227.3,256.2 228.5,257.4 229.7,258.6 230.8,259.8 231.7,260.7 232.8,261.8 234.1,263 235.3,264.1 236.2,265 237.2,265.8 238.1,266.6 239.1,267.4 240,268.2 241,269 242,269.8 243,270.6 244,271.4 244.9,272.2 245.8,273 246.9,274 248,275 248.9,275.9 249.9,277 250.9,278.1 251.7,279 252.5,280 253.3,280.9 254.1,281.9 254.9,282.9 255.7,284 256.5,285 257.3,286.1 258.1,287.1 258.9,288.2 259.7,289.2 260.5,290.2 261.3,291.2 262.1,292.2 262.9,293.1 263.2,293.5M311.7,279.2 310.6,279.8 309.3,280.6 308.1,281.3 306.9,282 305.7,282.7 304.6,283.4 303.3,284.2 302.1,284.9 300.9,285.6 299.8,286.2 298.5,286.9 297.3,287.5 296.1,288.1 294.9,288.6 293.7,289.1 292.5,289.6 291.3,290.1 290.1,290.5 288.9,290.9 287.7,291.3 286.5,291.8 285.3,292.2 284.1,292.6 282.9,293 281.7,293.4 280.5,293.8 279.3,294.3 278.1,294.7 276.9,295.2 275.7,295.7M274.1,293.4 274.9,292.4 275.7,291.4 276.5,290.5 277.3,289.5 278.1,288.4 278.9,287.4 279.7,286.3 280.5,285.3 281.3,284.2 282.1,283.2 282.9,282.2 283.7,281.2 284.5,280.2 285.3,279.2 286.1,278.3 286.9,277.4 288,276.2 288.9,275.3 290.1,274.2 291.3,273.1 292.3,272.2 293.2,271.4 294.2,270.6 295.2,269.8 296.2,269 297.2,268.2 298.1,267.4 299.1,266.6 300,265.8 301,265 302.1,264 303.1,263 304.1,262.1 305.2,261 306.1,260.1 307.1,259 308.1,258 309.1,257 310.1,256 311,255M261.5,295.6 260.1,295.1 258.9,294.6 257.7,294.2 256.5,293.8 255.3,293.3 254.1,292.9 252.9,292.5 251.7,292.1 250.5,291.7 249.3,291.3 248.1,290.9 246.9,290.4 245.7,290 244.5,289.5 243.3,289 242.1,288.5 240.9,288 239.7,287.4 238.5,286.8 237.4,286.2 236.1,285.5 234.9,284.8 233.7,284.1 232.6,283.4 231.3,282.6 230.1,281.9 228.9,281.2 227.7,280.4 226.6,279.8 225.3,279.1M225.3,262.3 226.5,263.2 227.7,264.2 228.8,265 230,265.8 231.2,266.6 232.5,267.3 233.7,268 234.9,268.6 236.1,269.2 237.3,269.8 238.5,270.3 239.7,270.9 240.9,271.6 242,272.2 243.3,273 244.5,273.8 245.6,274.6 246.6,275.4 247.6,276.2 248.5,277 249.7,278.2 250.8,279.4 251.7,280.3 252.5,281.2 253.3,282.2 254.1,283.2 254.9,284.2 255.7,285.2 256.5,286.2 257.3,287.3 258.1,288.3 258.9,289.4 259.7,290.4 260.5,291.4 261.3,292.4 262.1,293.4 262.7,294M311.7,274.3 310.5,275.3 309.5,276.2 308.5,277.1 307.3,278.2 306.1,279.4 304.9,280.5 304,281.4 303.1,282.2 302.1,283 301.1,283.8 299.9,284.6 298.9,285.3 297.7,286 296.5,286.7 295.3,287.4 294.1,288 292.9,288.5 291.7,289 290.5,289.5 289.3,290 288.1,290.5 286.9,290.9 285.7,291.3 284.5,291.7 283.3,292.1 282.1,292.6 280.9,293 279.7,293.4 278.5,293.8 277.3,294.2 276.1,294.7 275.3,295M274.6,293.9 275.4,293 276.4,291.8 277.3,290.6 278.1,289.6 278.9,288.6 279.7,287.5 280.5,286.5 281.3,285.4 282.1,284.4 282.9,283.4 283.7,282.4 284.5,281.5 285.3,280.6 286.4,279.4 287.3,278.4 288.3,277.4 289.3,276.5 290.5,275.5 291.6,274.6 292.7,273.8 293.7,273.1 294.9,272.4 296.1,271.7 297.3,271 298.5,270.4 299.7,269.9 300.9,269.3 302.1,268.7 303.3,268.1 304.5,267.5 305.7,266.8 306.9,266 308.1,265.2 309.3,264.3 310.5,263.4 311.5,262.6 311.7,262.4M261.7,295 260.5,294.5 259.3,294 258.1,293.6 256.9,293.2 255.7,292.8 254.5,292.3 253.3,291.9 252.1,291.5 250.9,291.1 249.7,290.7 248.5,290.2 247.4,289.8 246.1,289.3 244.9,288.8 243.7,288.3 242.5,287.7 241.3,287.1 240.1,286.4 238.9,285.7 237.8,285 236.7,284.2 235.7,283.5 234.6,282.6 233.7,281.8 232.8,281 231.7,280 230.7,279 229.7,278 228.6,277 227.7,276.2 226.5,275.1 225.3,274.2M237.1,255 238,256.2 238.8,257.4 239.7,258.6 240.5,259.7 241.3,260.8 242,261.8 242.9,263 243.7,264.1 244.5,265.2 245.3,266.2 246.1,267.3 246.9,268.3 247.7,269.4 248.5,270.5 249.3,271.5 250.1,272.6 250.9,273.7 251.7,274.8 252.4,275.8 253.3,277 254.1,278.2 254.9,279.4 255.7,280.5 256.5,281.7 257.3,282.9 258.1,284.1 258.9,285.2 259.7,286.4 260.4,287.4 261.2,288.6 262,289.8 262.9,291 263.7,292.2 264,292.7M311.7,285.3 310.5,285.7 309.3,286.1 308.1,286.5 306.9,287 305.7,287.4 304.5,287.8 303.3,288.2 302.2,288.6 301,289 299.8,289.4 298.6,289.8 297.4,290.2 296.2,290.6 294.9,291 293.7,291.4 292.5,291.7 291.3,292.1 290.1,292.4 288.9,292.8 287.7,293.1 286.5,293.5 285.3,293.8 284.1,294.2 282.9,294.5 281.7,294.9 280.5,295.3 279.3,295.6 278.1,296 276.9,296.4 276.1,296.6M273.2,292.6 274,291.4 274.9,290.2 275.7,289 276.5,287.9 277.3,286.7 278.1,285.5 278.9,284.3 279.7,283.2 280.5,282 281.3,280.8 282,279.8 282.8,278.6 283.7,277.4 284.5,276.2 285.3,275.1 286.1,274 286.8,273 287.7,271.8 288.5,270.7 289.3,269.7 290.1,268.6 290.9,267.5 291.7,266.5 292.5,265.4 293.3,264.3 294.1,263.3 294.9,262.2 295.7,261.1 296.5,260 297.2,259 298.1,257.8 298.9,256.7 299.7,255.6 300.1,255M261.2,296.7 260.1,296.3 258.9,295.9 257.7,295.6 256.5,295.2 255.3,294.8 254.1,294.5 252.9,294.1 251.7,293.8 250.5,293.4 249.3,293.1 248.1,292.7 246.9,292.4 245.7,292 244.5,291.7 243.3,291.3 242.1,290.9 240.9,290.6 239.7,290.2 238.5,289.8 237.3,289.4 236.1,289 234.9,288.6 233.7,288.1 232.5,287.7 231.3,287.3 230.1,286.9 228.9,286.5 227.7,286.1 226.5,285.7 225.3,285.3M249.8,255 250.3,256.2 250.9,257.4 251.4,258.6 251.9,259.8 252.4,261 252.9,262.2 253.4,263.4 253.9,264.6 254.4,265.8 255,267 255.5,268.2 256,269.4 256.5,270.6 257,271.8 257.5,273 258,274.2 258.5,275.3 259.1,276.6 259.6,277.8 260.1,279 260.6,280.2 261.1,281.4 261.6,282.6 262.1,283.8 262.6,285 263.1,286.2 263.7,287.4 264.2,288.6 264.7,289.8 265.2,291 265.5,291.8M271.7,291.8 272.2,290.6 272.7,289.4 273.2,288.2 273.7,287 274.2,285.8 274.7,284.6 275.3,283.4 275.8,282.2 276.3,281 276.8,279.8 277.3,278.6 277.8,277.4 278.3,276.2 278.8,275 279.3,273.8 279.9,272.6 280.4,271.4 280.9,270.2 281.4,269 281.9,267.8 282.4,266.6 282.9,265.5 283.4,264.2 283.9,263 284.5,261.8 285,260.6 285.5,259.4 286,258.2 286.5,257 287,255.8 287.4,255M311.7,292.7 310.5,292.9 309.3,293.1 308.1,293.2 306.9,293.4 305.7,293.6 304.5,293.8 303.3,293.9 302.1,294.1 300.9,294.3 299.7,294.5 298.5,294.6 297.3,294.8 296.1,295 294.9,295.2 293.7,295.3 292.5,295.5 291.3,295.7 290.1,295.9 288.9,296 287.7,296.2 286.5,296.4 285.3,296.6 284.1,296.7 282.9,296.9 281.7,297.1 280.5,297.3 279.3,297.4 278.1,297.6 276.9,297.8 276.5,297.8M260.9,297.9 259.7,297.7 258.5,297.5 257.3,297.3 256.1,297.2 254.9,297 253.7,296.8 252.5,296.7 251.3,296.5 250.1,296.3 248.9,296.1 247.7,296 246.5,295.8 245.3,295.6 244.1,295.4 242.9,295.3 241.7,295.1 240.5,294.9 239.3,294.7 238.1,294.6 236.9,294.4 235.7,294.2 234.5,294 233.3,293.9 232.1,293.7 230.9,293.5 229.7,293.3 228.5,293.1 227.3,293 226.1,292.8 225.3,292.7M237.7,275 239.3,274.8 240.5,274.9 241.7,275.1 242.9,275.5 244.1,276 245.3,276.7 246.4,277.4 247.5,278.2 248.5,279 249.4,279.8 250.5,280.8 251.4,281.8 252.5,283 253.3,283.9 254.1,284.9 254.9,285.9 255.7,287 256.5,288.1 257.3,289.3 258,290.6 257.3,291.7 256.1,291.6 254.9,291.3 253.7,290.9 252.5,290.5 251.3,290.1 250.1,289.7 248.9,289.2 247.7,288.8 246.5,288.2 245.3,287.7 244.1,287 242.9,286.3 241.7,285.6 240.5,284.7 239.4,283.8 238.5,282.9 237.7,282 237,281 236.3,279.8 235.9,278.6 235.8,277.4 236.1,276.2 237.3,275.2 237.7,275M296,275 297.3,274.8 298.5,274.8 299.7,275.1 300.8,275.8 301.4,277 301.4,278.2 301.1,279.4 300.5,280.6 299.7,281.8 298.9,282.7 297.8,283.8 296.8,284.6 295.8,285.4 294.5,286.2 293.3,286.9 292.1,287.6 290.9,288.1 289.7,288.7 288.5,289.2 287.3,289.6 286.1,290.1 284.9,290.5 283.7,290.9 282.5,291.2 281.3,291.5 280.1,291.7 279.1,291 279.6,289.8 280.4,288.6 281.2,287.4 282.1,286.2 282.9,285.2 283.7,284.2 284.5,283.2 285.3,282.3 286.2,281.4 287.3,280.3 288.2,279.4 289.2,278.6 290.2,277.8 291.3,277.1 292.5,276.3 293.6,275.8 294.9,275.3 296,275M241,278.2 242.5,277.9 243.7,278.1 244.9,278.5 246,279 247.3,279.8 248.4,280.6 249.4,281.4 250.5,282.4 251.4,283.4 252.5,284.6 253.3,285.7 254.1,286.8 254.8,288.2 254.6,289.4 253.3,289.4 252.1,289.2 250.9,288.8 249.7,288.4 248.5,287.9 247.3,287.4 246.1,286.8 244.9,286.1 243.9,285.4 242.9,284.7 241.9,283.8 240.9,282.6 240.2,281.4 239.9,280.2 240.1,279 241,278.2M293.1,278.2 294.5,277.9 295.7,278 296.8,278.6 297.3,279.8 297.1,281 296.6,282.2 295.7,283.3 294.8,284.2 293.9,285 292.7,285.8 291.7,286.4 290.5,287.1 289.3,287.7 288.1,288.2 286.9,288.6 285.7,289 284.5,289.3 283.3,289.5 282.3,288.6 282.8,287.4 283.5,286.2 284.4,285 285.3,283.9 286.2,283 287.3,281.9 288.3,281 289.3,280.2 290.5,279.4 291.7,278.7 292.9,278.3 293.1,278.2M244,281.4 245.3,281 246.5,281.4 247.7,282 248.9,282.9 249.9,283.8 250.9,285 251.5,286.2 250.5,287 249.3,286.7 248.1,286.2 246.9,285.6 245.7,284.7 244.7,283.8 243.9,282.6 244,281.4M290.6,281.4 292.1,281 293.3,281.5 293.1,283 292.1,284.2 291.2,285 290.1,285.7 288.9,286.3 287.7,286.8 286.5,287 285.8,285.8 286.5,284.8 287.3,283.8 288.2,283 289.2,282.2 290.5,281.5 290.6,281.4M311.7,328.9 310.9,330 310.1,331.3 309.3,332.6 308.7,333.8 308.1,335 307.5,336.2 307,337.4 306.5,338.6 306.1,339.8 305.6,341 305.5,341.4M231.7,341.4 231.3,340.2 230.8,339 230.4,337.8 229.9,336.6 229.3,335.4 228.7,334.2 228.1,333 227.4,331.8 226.7,330.6 225.9,329.4 225.3,328.6M311.7,321.3 310.7,322.2 309.7,323.3 308.9,324.2 308.1,325.2 307.4,326.2 306.5,327.4 305.8,328.6 305.1,329.8 304.5,330.9 303.9,332.2 303.4,333.4 302.9,334.5 302.4,335.8 302,337 301.6,338.2 301.2,339.4 300.8,340.6 300.6,341.4M236.6,341.4 236.2,340.2 235.9,339 235.5,337.8 235.1,336.6 234.6,335.4 234.2,334.2 233.7,333.1 233.1,331.8 232.5,330.6 231.9,329.4 231.2,328.2 230.5,327.1 229.7,326 228.9,325 228.1,324 227.3,323.1 226.5,322.2 225.3,321.1M311.7,315 310.5,315.8 309.3,316.6 308.3,317.4 307.3,318.2 306.1,319.3 304.9,320.6 304.1,321.5 303.3,322.6 302.5,323.7 301.7,324.9 301,326.2 300.3,327.4 299.7,328.6 299.2,329.8 298.7,331 298.3,332.2 297.9,333.4 297.5,334.6 297.1,335.8 296.8,337 296.5,338.2 296.2,339.4 295.9,340.6 295.8,341.4M241.4,341.4 241.2,340.2 240.9,339 240.6,337.8 240.3,336.6 239.9,335.4 239.6,334.2 239.2,333 238.8,331.8 238.3,330.6 237.8,329.4 237.3,328.3 236.7,327 236.1,325.9 235.3,324.6 234.5,323.4 233.7,322.3 232.9,321.3 232.1,320.4 231.2,319.4 230.1,318.4 228.9,317.4 227.9,316.6 226.7,315.8 225.7,315.1 225.3,314.9M311.7,309.9 310.5,310.4 309.3,310.9 308.1,311.5 306.9,312.1 305.7,312.8 304.5,313.6 303.3,314.5 302.2,315.4 300.9,316.6 299.7,317.8 298.9,318.8 298.2,319.8 297.4,321 296.6,322.2 296,323.4 295.4,324.6 294.9,325.8 294.4,327 294,328.2 293.6,329.4 293.2,330.6 292.9,331.8 292.6,333 292.3,334.2 292,335.4 291.7,336.6 291.5,337.8 291.3,339 291.1,340.2 290.9,341.4M246.3,341.4 246.1,340.2 245.9,339 245.7,337.8 245.5,336.6 245.2,335.4 244.9,334.2 244.6,333 244.3,331.8 244,330.6 243.6,329.4 243.2,328.2 242.8,327 242.3,325.8 241.8,324.6 241.2,323.4 240.6,322.2 239.8,321 239,319.8 238.1,318.6 237.3,317.6 236.3,316.6 235.3,315.6 234.1,314.6 233,313.8 231.8,313 230.5,312.2 229.3,311.6 228.1,311 226.9,310.4 225.7,310 225.3,309.8M311.7,305.7 310.5,306 309.3,306.3 308.1,306.7 306.9,307 305.7,307.4 304.5,307.9 303.3,308.4 302.1,308.9 300.9,309.5 299.7,310.2 298.5,311 297.4,311.8 296.4,312.6 295.3,313.7 294.4,314.6 293.5,315.8 292.6,317 291.9,318.2 291.3,319.3 290.7,320.6 290.1,321.8 289.7,323 289.3,324.1 288.9,325.4 288.6,326.6 288.2,327.8 288,329 287.7,330.2 287.5,331.4 287.2,332.6 287,333.8 286.8,335 286.6,336.2 286.5,337.4 286.3,338.6 286.1,339.8 286,341 286,341.4M251.2,341.4 251.1,340.2 250.9,339 250.8,337.8 250.6,336.6 250.4,335.4 250.2,334.2 250,333 249.8,331.8 249.6,330.6 249.3,329.4 249.1,328.2 248.7,327 248.4,325.8 248.1,324.6 247.7,323.4 247.2,322.2 246.7,321 246.2,319.8 245.5,318.6 244.9,317.5 244.1,316.3 243.3,315.2 242.5,314.3 241.6,313.4 240.5,312.4 239.3,311.4 238.1,310.6 236.9,309.9 235.7,309.2 234.5,308.6 233.3,308.1 232.1,307.6 230.9,307.2 229.7,306.8 228.5,306.5 227.3,306.1 226.1,305.8 225.3,305.7M311.7,302.8 310.5,302.9 309.3,303.1 308.1,303.3 306.9,303.5 305.7,303.7 304.5,304 303.3,304.2 302.1,304.5 300.9,304.9 299.7,305.2 298.5,305.6 297.3,306.1 296.1,306.6 294.9,307.2 293.8,307.8 292.6,308.6 291.5,309.4 290.6,310.2 289.7,311.1 288.9,312.1 288.1,313.2 287.4,314.2 286.8,315.4 286.2,316.6 285.7,317.7 285.2,319 284.8,320.2 284.5,321.4 284.2,322.6 283.9,323.8 283.6,325 283.4,326.2 283.2,327.4 283,328.6 282.8,329.8 282.6,331 282.5,332.2 282.3,333.4 282.2,334.6 282,335.8 281.9,337 281.8,338.2 281.7,339.4 281.6,340.6 281.5,341.4M255.7,341.4 255.6,340.2 255.5,339 255.4,337.8 255.2,336.6 255.1,335.4 255,334.2 254.8,333 254.7,331.8 254.5,330.6 254.4,329.4 254.2,328.2 254,327 253.7,325.8 253.5,324.6 253.2,323.4 252.9,322.2 252.6,321 252.2,319.8 251.8,318.6 251.4,317.4 250.8,316.2 250.2,315 249.5,313.8 248.7,312.6 247.7,311.4 246.9,310.5 245.7,309.4 244.6,308.6 243.4,307.8 242.1,307.1 240.9,306.5 239.7,306 238.5,305.5 237.3,305.1 236.1,304.8 234.9,304.5 233.7,304.2 232.5,303.9 231.3,303.7 230.1,303.5 228.9,303.3 227.7,303.1 226.5,302.9 225.3,302.7" fill="none" stroke="#5597d4" stroke-width="0.55" stroke-linejoin="round"/>
<path d="M266.2,266.8L267.5,269.1L265.3,269.3ZM263,273.8L264.6,275.9L262.4,276.4ZM261.1,278.9L263,280.7L260.9,281.5ZM252,266.9L254.1,268.6L252.1,269.6ZM279,278.9L278.9,281.6L276.9,280.6ZM252.2,274L254.4,275.4L252.6,276.6ZM289.8,267L289.4,269.6L287.6,268.4ZM253.3,279L255.6,280.3L253.8,281.6ZM287.9,274.1L287.2,276.6L285.5,275.2ZM238.9,267.2L241.4,267.9L240,269.6ZM285.4,279.1L284.7,281.6L283.1,280.2ZM245.2,274.3L247.7,274.9L246.4,276.6ZM304.5,267.4L302.9,269.5L301.9,267.6ZM254.7,279L256.9,280.4L255.1,281.6ZM286.1,274L285.6,276.6L283.8,275.3ZM254.9,266.9L256.9,268.7L254.8,269.5ZM236.6,275.4L238.5,273.6L239.2,275.7ZM244.2,331.1L242.4,329.2L244.5,328.5ZM247.6,323.1L245.7,321.3L247.7,320.5ZM249,312.9L246.6,311.8L248.3,310.4Z" fill="#5597d4"/><path d="M262.5,306 V340 M266.2,307 V340 M271,307 V340 M274.7,306 V340" stroke="#5597d4" stroke-width="0.6" fill="none"/><clipPath id="sc268_299"><circle cx="268.6" cy="299" r="8.3"/></clipPath>
<circle cx="268.6" cy="299" r="8.3" fill="#fff"/>
<g clip-path="url(#sc268_299)">
<path d="M259.3,290 Q268.6,290 277.9,290 V296 Q268.6,297 259.3,296 Z" fill="#a8a8a8"/>
<path d="M259.3,296 Q268.6,297 277.9,296 V308 Q268.6,309 259.3,308 Z" fill="#4a4a4a"/>
</g><rect x="298.3" y="334.9" width="8" height="1.7" fill="#222"/></g>
<rect x="227.3" y="257" width="82.5" height="82.6" fill="none" stroke="#808080" stroke-width="0.9"/>
<clipPath id="fC2"><rect x="227.6" y="344.9" width="82.7" height="82.2"/></clipPath>
<rect x="227.6" y="344.9" width="82.7" height="82.2" fill="#f7fafd"/>
<g clip-path="url(#fC2)"><ellipse cx="268.6" cy="386" rx="18" ry="26" fill="url(#blueHalo)"/><path d="M303.4,342.9 303,344.1 302.6,345.3 302.2,346.5 301.8,347.7 301.5,348.9 301.1,350.1 300.7,351.3 300.3,352.5 299.8,353.7 299.4,354.9 299,356.1 298.6,357.3 298.2,358.5 297.7,359.7 297.3,360.9 296.8,362.1 296.4,363.3 295.9,364.5 295.5,365.7 295,366.9 294.6,368.1 294.1,369.3 293.6,370.5 293.1,371.7 292.7,372.9 292.2,374.1 291.7,375.3 291.3,376.5 290.8,377.7 290.4,378.9 290,380.1 289.7,381.3 289.4,382.5 289.2,383.7 289,384.9 289,386.1 289,387.3 289.2,388.5 289.4,389.7 289.7,390.9 290,392.1 290.4,393.3 290.8,394.5 291.3,395.7 291.7,396.9 292.2,398.1 292.7,399.3 293.1,400.5 293.6,401.7 294.1,402.9 294.6,404.1 295,405.3 295.5,406.5 295.9,407.7 296.4,408.9 296.8,410.1 297.3,411.3 297.7,412.5 298.2,413.7 298.6,414.9 299,416.1 299.4,417.3 299.8,418.5 300.3,419.7 300.7,420.9 301.1,422.1 301.5,423.3 301.8,424.5 302.2,425.7 302.6,426.9 303,428.1 303.3,428.9M233.9,428.9 234.3,427.7 234.7,426.5 235.1,425.3 235.5,424.1 235.9,422.9 236.3,421.7 236.7,420.5 237.1,419.3 237.5,418.1 237.9,416.9 238.3,415.7 238.8,414.5 239.2,413.3 239.6,412.2 240.1,410.9 240.5,409.7 241,408.5 241.4,407.3 241.9,406.1 242.3,404.9 242.8,403.7 243.3,402.5 243.7,401.3 244.2,400.1 244.7,398.9 245.2,397.7 245.6,396.5 246.1,395.3 246.5,394.1 246.9,392.9 247.3,391.7 247.6,390.5 247.9,389.3 248.1,388.1 248.2,386.9 248.2,385.7 248.1,384.5 247.9,383.3 247.7,382.1 247.4,380.9 247,379.7 246.6,378.5 246.2,377.3 245.8,376.1 245.3,374.9 244.8,373.7 244.4,372.6 243.9,371.3 243.4,370.1 243,368.9 242.5,367.7 242,366.5 241.6,365.3 241.1,364.1 240.7,362.9 240.2,361.7 239.8,360.5 239.3,359.3 238.9,358.1 238.5,356.9 238,355.7 237.6,354.5 237.2,353.3 236.8,352.1 236.4,350.9 236,349.7 235.6,348.5 235.2,347.3 234.8,346.1 234.5,344.9 234.1,343.7 233.8,342.9M307.2,342.9 306.8,344.1 306.4,345.3 306,346.5 305.6,347.7 305.2,348.8 304.8,350 304.4,351.2 304,352.3 303.6,353.4 303.1,354.9 302.7,356.1 302.2,357.3 301.8,358.5 301.3,359.7 300.9,360.9 300.4,362.1 300,363.3 299.5,364.5 299.1,365.7 298.6,366.9 298.2,368.1 297.7,369.3 297.3,370.5 296.8,371.7 296.4,372.9 295.9,374.1 295.5,375.3 295.1,376.5 294.7,377.7 294.4,378.9 294,380.1 293.7,381.3 293.5,382.5 293.3,383.7 293.2,384.9 293.2,386.1 293.2,387.3 293.3,388.5 293.5,389.7 293.7,390.9 294,392.1 294.4,393.3 294.7,394.5 295.1,395.7 295.5,396.9 295.9,398.1 296.4,399.3 296.8,400.5 297.3,401.7 297.7,402.9 298.2,404.1 298.6,405.3 299.1,406.5 299.5,407.7 300,408.9 300.4,410.1 300.9,411.3 301.3,412.5 301.8,413.7 302.2,414.9 302.7,416.1 303.1,417.3 303.5,418.5 303.9,419.7 304.4,420.9 304.8,422.1 305.2,423.3 305.6,424.5 306,425.7 306.4,426.9 306.8,428.1 307.1,428.9M230.1,428.9 230.5,427.7 230.9,426.5 231.3,425.3 231.7,424.1 232.2,422.9 232.6,421.7 233,420.5 233.4,419.3 233.8,418.1 234.3,416.9 234.7,415.7 235.1,414.5 235.6,413.3 236,412.1 236.5,410.9 236.9,409.7 237.4,408.5 237.8,407.3 238.3,406.1 238.7,404.9 239.2,403.7 239.6,402.5 240.1,401.3 240.5,400.1 241,398.9 241.4,397.7 241.8,396.5 242.2,395.3 242.6,394.1 243,392.9 243.3,391.7 243.5,390.5 243.7,389.3 243.9,388.1 244,386.9 244,385.7 243.9,384.5 243.8,383.3 243.6,382.1 243.4,380.9 243.1,379.7 242.7,378.5 242.4,377.3 242,376.1 241.6,374.9 241.1,373.7 240.7,372.5 240.2,371.3 239.8,370.1 239.3,368.9 238.9,367.7 238.4,366.5 238,365.3 237.5,364.1 237.1,362.9 236.6,361.7 236.2,360.5 235.7,359.3 235.3,358.1 234.8,356.9 234.4,355.7 234,354.6 233.5,353.3 233.1,352.1 232.7,350.9 232.3,349.7 231.9,348.5 231.5,347.3 231.1,346.1 230.7,344.9 230.3,343.7 230,342.9M311,342.9 310.6,344.1 310.2,345.3 309.8,346.5 309.3,347.7 308.9,348.9 308.5,350.1 308.1,351.3 307.6,352.5 307.2,353.7 306.8,354.8 306.3,356.1 305.9,357.3 305.5,358.5 305,359.7 304.6,360.9 304.1,362.1 303.7,363.3 303.2,364.5 302.8,365.6 302.3,366.9 301.9,368.1 301.4,369.3 301,370.5 300.6,371.7 300.2,372.9 299.8,374.1 299.4,375.3 299,376.5 298.7,377.7 298.4,378.9 298.1,380.1 297.8,381.3 297.7,382.5 297.5,383.7 297.4,384.9 297.4,386.1 297.4,387.3 297.5,388.5 297.7,389.7 297.8,390.9 298.1,392.1 298.4,393.3 298.7,394.5 299,395.7 299.4,396.9 299.8,398.1 300.2,399.3 300.6,400.5 301,401.7 301.4,402.9 301.9,404.1 302.3,405.3 302.8,406.5 303.2,407.6 303.7,408.9 304.1,410.1 304.6,411.3 305,412.5 305.5,413.7 305.9,414.9 306.3,416.1 306.8,417.3 307.2,418.5 307.6,419.7 308.1,420.9 308.5,422.1 308.9,423.3 309.3,424.5 309.8,425.7 310.2,426.9 310.6,428.1 310.9,428.9M226.3,428.9 226.8,427.7 227.2,426.5 227.6,425.3 228,424.1 228.4,423 228.8,421.7 229.3,420.5 229.7,419.3 230.1,418.1 230.6,416.9 231,415.7 231.5,414.5 231.9,413.3 232.3,412.1 232.8,410.9 233.2,409.7 233.7,408.5 234.1,407.3 234.6,406.1 235,404.9 235.5,403.7 235.9,402.5 236.3,401.3 236.7,400.1 237.2,398.9 237.6,397.7 237.9,396.5 238.3,395.3 238.6,394.1 238.9,392.9 239.2,391.7 239.4,390.5 239.6,389.3 239.7,388.1 239.8,386.9 239.8,385.7 239.7,384.5 239.6,383.3 239.5,382.1 239.3,380.9 239,379.7 238.7,378.5 238.4,377.3 238.1,376.1 237.7,374.9 237.3,373.7 236.9,372.5 236.5,371.3 236,370.1 235.6,368.9 235.2,367.7 234.7,366.5 234.3,365.3 233.8,364.1 233.4,362.9 232.9,361.7 232.5,360.5 232,359.3 231.6,358.1 231.2,356.9 230.7,355.7 230.3,354.5 229.8,353.3 229.4,352.1 229,350.9 228.6,349.7 228.1,348.5 227.7,347.3 227.3,346.1 226.9,344.9 226.5,343.7 226.2,342.9M312,350.8 311.5,352.1 311.1,353.3 310.6,354.5 310.2,355.7 309.8,356.9 309.3,358.1 308.9,359.3 308.4,360.5 308,361.7 307.6,362.9 307.1,364.1 306.7,365.3 306.2,366.5 305.8,367.7 305.4,368.9 305,370.1 304.6,371.3 304.2,372.5 303.8,373.7 303.5,374.9 303.1,376.1 302.8,377.3 302.5,378.5 302.3,379.7 302,380.9 301.9,382.1 301.7,383.3 301.6,384.5 301.6,385.7 301.6,386.9 301.7,388.1 301.8,389.3 301.9,390.5 302.1,391.7 302.3,392.9 302.6,394.1 302.9,395.3 303.2,396.5 303.6,397.7 303.9,398.9 304.3,400.1 304.7,401.3 305.1,402.5 305.5,403.7 306,404.9 306.4,406.1 306.8,407.3 307.3,408.5 307.7,409.7 308.1,410.9 308.6,412.1 309,413.3 309.5,414.5 309.9,415.7 310.4,416.9 310.8,418.1 311.2,419.3 311.7,420.5 312,421.4M225.6,420.3 226.1,418.9 226.6,417.7 227,416.5 227.4,415.3 227.9,414.1 228.3,412.9 228.8,411.7 229.2,410.5 229.6,409.3 230.1,408.1 230.5,406.9 231,405.7 231.4,404.5 231.8,403.3 232.2,402.1 232.6,400.9 233,399.7 233.4,398.5 233.7,397.3 234.1,396.1 234.4,394.9 234.7,393.7 234.9,392.5 235.2,391.3 235.3,390.1 235.5,388.9 235.6,387.7 235.6,386.5 235.6,385.3 235.5,384.1 235.4,382.9 235.3,381.7 235.1,380.5 234.9,379.3 234.6,378.1 234.3,376.9 234,375.7 233.6,374.5 233.3,373.3 232.9,372.1 232.5,370.9 232.1,369.7 231.7,368.5 231.2,367.3 230.8,366.1 230.4,364.9 229.9,363.7 229.5,362.5 229.1,361.3 228.6,360.1 228.2,358.9 227.7,357.7 227.3,356.5 226.8,355.3 226.4,354.1 226,352.9 225.6,351.9M312,361.1 311.5,362.5 311.1,363.7 310.6,364.9 310.2,366.1 309.8,367.3 309.4,368.5 309,369.7 308.6,370.9 308.3,372.1 307.9,373.3 307.6,374.5 307.2,375.7 307,376.9 306.7,378.1 306.5,379.3 306.2,380.5 306.1,381.7 305.9,382.9 305.9,384.1 305.8,385.3 305.8,386.5 305.8,387.7 305.9,388.9 306,390.1 306.2,391.3 306.4,392.5 306.6,393.7 306.9,394.9 307.1,396.1 307.5,397.3 307.8,398.5 308.1,399.7 308.5,400.9 308.9,402.1 309.3,403.3 309.7,404.5 310.1,405.7 310.5,406.9 310.9,408.1 311.3,409.3 311.8,410.5 312,411.1M225.6,410 226.1,408.5 226.6,407.3 227,406.1 227.4,404.9 227.8,403.7 228.2,402.5 228.6,401.3 228.9,400.1 229.3,398.9 229.6,397.7 230,396.5 230.2,395.3 230.5,394.1 230.7,392.9 231,391.7 231.1,390.5 231.3,389.3 231.3,388.1 231.4,386.9 231.4,385.7 231.4,384.5 231.3,383.3 231.2,382.1 231,380.9 230.8,379.7 230.6,378.5 230.3,377.3 230.1,376.1 229.7,374.9 229.4,373.7 229.1,372.5 228.7,371.3 228.3,370.1 227.9,368.9 227.5,367.7 227.1,366.5 226.7,365.3 226.3,364.1 225.9,362.9 225.6,362.2M312,370.3 311.6,371.7 311.2,372.9 310.9,374.1 310.6,375.3 310.3,376.5 310.1,377.7 309.9,378.9 309.7,380.1 309.5,381.3 309.4,382.5 309.3,383.7 309.2,384.9 309.2,386.1 309.2,387.3 309.3,388.5 309.4,389.7 309.5,390.9 309.7,392.1 309.9,393.3 310.1,394.5 310.3,395.7 310.6,396.9 310.9,398.1 311.2,399.3 311.6,400.5 311.9,401.7 312,401.9M225.6,400.5 226,399.3 226.3,398.1 226.6,396.9 226.9,395.7 227.1,394.5 227.3,393.3 227.5,392.1 227.7,390.9 227.8,389.7 227.9,388.5 228,387.3 228,386.1 228,384.9 227.9,383.7 227.8,382.5 227.7,381.3 227.5,380.1 227.3,378.9 227.1,377.7 226.9,376.5 226.6,375.3 226.3,374.1 226,372.9 225.6,371.7M271.3,342.9 271.2,344.1 271.2,345.3 271.2,346.5 271.1,347.7 271.1,348.9 271,350.1 271,351.3 270.9,352.5 270.9,353.7 270.9,354.9 270.8,356.1 270.8,357.3 270.7,358.5 270.7,359.7 270.6,360.9 270.5,362.1 270.5,363.3 270.4,364.5 270.4,365.7 270.3,366.9 270.2,368.1 270.2,369.3 270.1,370.5 270,371.7 270,372.9 269.9,374.1 269.8,375.3 269.7,376.5 269.6,377.7 269.5,378.5M267.7,378.5 267.6,377.3 267.5,376.1 267.4,374.9 267.3,373.7 267.2,372.5 267.1,371.3 267.1,370.1 267,368.9 266.9,367.7 266.9,366.5 266.8,365.3 266.7,364.1 266.7,362.9 266.6,361.7 266.6,360.5 266.5,359.3 266.5,358.1 266.4,356.9 266.4,355.7 266.3,354.5 266.3,353.3 266.2,352.1 266.2,350.9 266.2,349.7 266.1,348.5 266.1,347.3 266,346.1 266,344.9 266,343.7 265.9,342.9M269.5,393.7 269.6,394.9 269.7,396.1 269.8,397.3 269.9,398.5 270,399.7 270.1,400.9 270.1,402.1 270.2,403.3 270.3,404.5 270.3,405.7 270.4,406.9 270.5,408.1 270.5,409.3 270.6,410.5 270.6,411.7 270.7,412.9 270.7,414.1 270.8,415.3 270.8,416.5 270.9,417.7 270.9,418.9 271,420.1 271,421.3 271,422.5 271.1,423.7 271.1,424.9 271.2,426.1 271.2,427.3 271.2,428.5 271.3,428.9M265.9,428.9 266,427.7 266,426.5 266.1,425.3 266.1,424.1 266.1,422.9 266.2,421.7 266.2,420.5 266.3,419.3 266.3,418.1 266.4,416.9 266.4,415.7 266.5,414.5 266.5,413.3 266.6,412.1 266.6,410.9 266.7,409.7 266.7,408.5 266.8,407.3 266.8,406.1 266.9,404.9 267,403.7 267,402.5 267.1,401.3 267.2,400.1 267.3,398.9 267.4,397.7 267.5,396.5 267.5,395.3 267.7,394.1 267.7,393.7M277.2,342.9 277.1,344.1 277,345.3 276.9,346.5 276.7,347.7 276.6,348.9 276.5,350.1 276.3,351.3 276.2,352.5 276.1,353.7 275.9,354.9 275.8,356.1 275.6,357.3 275.5,358.5 275.3,359.7 275.1,360.9 275,362.1 274.8,363.3 274.6,364.5 274.4,365.7 274.2,366.9 274,368.1 273.8,369.3 273.6,370.5 273.4,371.7 273.1,372.9 272.9,374.1 272.6,375.3 272.3,376.5 271.9,377.7 271.5,378.9M265.7,378.9 265.3,377.7 264.9,376.5 264.6,375.3 264.3,374.1 264.1,372.9 263.8,371.7 263.6,370.5 263.4,369.3 263.2,368.1 263,366.9 262.8,365.7 262.6,364.5 262.4,363.3 262.2,362.1 262.1,360.9 261.9,359.7 261.7,358.5 261.6,357.3 261.4,356.1 261.3,354.9 261.1,353.7 261,352.5 260.9,351.3 260.7,350.1 260.6,348.9 260.5,347.7 260.3,346.5 260.2,345.3 260.1,344.1 260,342.9M271.5,393.3 271.9,394.5 272.3,395.7 272.6,396.9 272.9,398.1 273.1,399.3 273.4,400.5 273.6,401.7 273.8,402.9 274,404.1 274.2,405.3 274.4,406.5 274.6,407.7 274.8,408.9 275,410.1 275.1,411.3 275.3,412.5 275.5,413.7 275.6,414.9 275.8,416.1 275.9,417.3 276.1,418.5 276.2,419.7 276.3,420.9 276.5,422.1 276.6,423.3 276.7,424.5 276.9,425.7 277,426.9 277.1,428.1 277.2,428.9M260,428.9 260.1,427.7 260.3,426.5 260.4,425.3 260.5,424.1 260.6,422.9 260.8,421.7 260.9,420.5 261.1,419.3 261.2,418.1 261.3,416.9 261.5,415.7 261.6,414.5 261.8,413.3 262,412.1 262.1,410.9 262.3,409.7 262.5,408.5 262.6,407.3 262.8,406.1 263,404.9 263.2,403.7 263.4,402.5 263.7,401.3 263.9,400.1 264.2,398.9 264.4,397.7 264.7,396.5 265.1,395.3 265.4,394.1 265.7,393.3M283.2,342.9 283,344.1 282.8,345.3 282.6,346.5 282.4,347.7 282.2,348.9 281.9,350.1 281.7,351.3 281.5,352.5 281.3,353.7 281,354.9 280.8,356.1 280.6,357.3 280.3,358.5 280,359.7 279.8,360.9 279.5,362.1 279.2,363.3 279,364.5 278.7,365.7 278.4,366.9 278,368.1 277.7,369.3 277.4,370.5 277,371.7 276.6,372.9 276.2,374.1 275.8,375.3 275.3,376.5 274.7,377.7 274.1,378.9 273.4,380.1M263.8,380.1 263.1,378.9 262.5,377.7 261.9,376.5 261.4,375.3 261,374.1 260.6,372.9 260.2,371.7 259.8,370.5 259.5,369.3 259.2,368.1 258.8,366.9 258.5,365.7 258.2,364.5 258,363.3 257.7,362.1 257.4,360.9 257.2,359.7 256.9,358.5 256.6,357.3 256.4,356.1 256.2,354.9 255.9,353.7 255.7,352.5 255.5,351.3 255.3,350.1 255,348.9 254.8,347.7 254.6,346.5 254.4,345.3 254.2,344.1 254,342.9M273.4,392.1 274.1,393.3 274.7,394.5 275.3,395.7 275.8,396.9 276.2,398.1 276.6,399.3 277,400.5 277.4,401.7 277.7,402.9 278,404.1 278.4,405.3 278.7,406.5 279,407.7 279.2,408.9 279.5,410.1 279.8,411.3 280,412.5 280.3,413.7 280.6,414.9 280.8,416.1 281,417.3 281.3,418.5 281.5,419.7 281.7,420.9 281.9,422.1 282.2,423.3 282.4,424.5 282.6,425.7 282.8,426.9 283,428.1 283.1,428.9M254.1,428.9 254.3,427.7 254.5,426.5 254.7,425.3 254.9,424.1 255.1,422.9 255.3,421.7 255.6,420.5 255.8,419.3 256,418.1 256.2,416.9 256.5,415.7 256.7,414.5 257,413.3 257.2,412.1 257.5,410.9 257.8,409.7 258.1,408.5 258.3,407.3 258.6,406.1 258.9,404.9 259.3,403.7 259.6,402.5 260,401.3 260.3,400.1 260.7,398.9 261.1,397.7 261.6,396.5 262.1,395.3 262.7,394.1 263.3,392.9 263.8,392.1M289.3,342.9 289,344.1 288.8,345.3 288.5,346.5 288.2,347.7 287.9,348.9 287.6,350.1 287.4,351.3 287.1,352.5 286.8,353.7 286.4,354.9 286.1,356.1 285.8,357.3 285.5,358.5 285.1,359.7 284.8,360.9 284.4,362.1 284.1,363.3 283.7,364.5 283.3,365.7 282.9,366.9 282.5,368.1 282.1,369.3 281.7,370.5 281.2,371.7 280.8,372.9 280.2,374.1 279.7,375.3 279.2,376.4 278.5,377.7 277.9,378.9 277.2,379.9 276.4,381 275.6,382 275.3,382.2M261.9,382.2 261,381.3 260.1,380.1 259.3,378.9 258.7,377.7 258.1,376.5 257.5,375.3 257,374.1 256.4,372.9 256,371.8 255.5,370.5 255.1,369.3 254.7,368.1 254.3,366.9 253.9,365.7 253.5,364.5 253.1,363.3 252.8,362.1 252.4,360.9 252.1,359.7 251.7,358.5 251.4,357.3 251.1,356.1 250.8,354.9 250.4,353.7 250.1,352.5 249.8,351.3 249.6,350.1 249.3,348.9 249,347.7 248.7,346.5 248.4,345.3 248.2,344.1 247.9,342.9M275.3,390 276.2,390.9 277.1,392.1 277.9,393.3 278.5,394.5 279.1,395.7 279.7,396.9 280.2,398.1 280.8,399.3 281.2,400.4 281.7,401.7 282.1,402.9 282.5,404.1 282.9,405.3 283.3,406.5 283.7,407.7 284.1,408.9 284.4,410.1 284.8,411.3 285.1,412.5 285.5,413.7 285.8,414.9 286.1,416.1 286.4,417.3 286.8,418.5 287.1,419.7 287.4,420.9 287.6,422.1 287.9,423.3 288.2,424.5 288.5,425.7 288.8,426.9 289,428.1 289.2,428.9M248,428.9 248.2,427.7 248.5,426.5 248.8,425.3 249.1,424.1 249.4,422.9 249.6,421.7 249.9,420.5 250.2,419.3 250.5,418.1 250.9,416.9 251.2,415.7 251.5,414.5 251.8,413.3 252.2,412.1 252.5,410.9 252.9,409.7 253.2,408.5 253.6,407.3 254,406.1 254.4,404.9 254.8,403.7 255.2,402.6 255.7,401.3 256.1,400.1 256.6,398.9 257.1,397.7 257.7,396.5 258.3,395.3 258.9,394.1 259.6,392.9 260.4,391.7 261.2,390.7 261.9,390M295.4,342.9 295.1,344.1 294.8,345.3 294.4,346.5 294.1,347.7 293.8,348.9 293.4,350.1 293.1,351.3 292.7,352.5 292.4,353.7 292,354.9 291.6,356.1 291.2,357.3 290.8,358.5 290.5,359.7 290.1,360.9 289.6,362.1 289.2,363.3 288.8,364.5 288.4,365.7 287.9,366.9 287.5,368.1 287,369.3 286.5,370.5 286,371.7 285.5,372.9 285,374.1 284.5,375.3 283.9,376.5 283.4,377.7 282.8,378.9 282.2,380.1 281.6,381.3 281,382.5 280.5,383.7 280.1,384.9 280,386.1 280.1,387.3 280.5,388.5 281,389.7 281.6,390.9 282.2,392.1 282.8,393.3 283.4,394.5 283.9,395.7 284.5,396.9 285,398.1 285.5,399.3 286,400.5 286.5,401.7 287,402.9 287.5,404.1 287.9,405.3 288.4,406.5 288.8,407.7 289.2,408.9 289.6,410.1 290.1,411.3 290.5,412.5 290.8,413.7 291.2,414.9 291.6,416.1 292,417.3 292.4,418.5 292.7,419.7 293.1,420.9 293.4,422.1 293.8,423.3 294.1,424.5 294.4,425.7 294.8,426.9 295.1,428.1 295.3,428.9M241.9,428.9 242.2,427.7 242.5,426.5 242.9,425.3 243.2,424.1 243.6,422.9 243.9,421.7 244.3,420.5 244.6,419.3 245,418.1 245.3,416.9 245.7,415.7 246.1,414.5 246.5,413.3 246.9,412.1 247.3,410.9 247.7,409.7 248.1,408.5 248.5,407.3 249,406.1 249.4,404.9 249.9,403.7 250.3,402.5 250.8,401.4 251.3,400.1 251.8,398.9 252.4,397.7 252.9,396.5 253.5,395.3 254,394.1 254.6,392.9 255.2,391.7 255.8,390.5 256.4,389.3 256.8,388.1 257.2,386.9 257.2,385.7 257,384.5 256.5,383.3 256,382.1 255.4,380.9 254.8,379.7 254.2,378.5 253.6,377.3 253.1,376.1 252.5,374.9 252,373.7 251.5,372.5 251,371.3 250.5,370.1 250,368.9 249.6,367.8 249.1,366.5 248.7,365.3 248.3,364.1 247.8,362.9 247.4,361.7 247,360.5 246.6,359.3 246.2,358.1 245.8,356.9 245.5,355.7 245.1,354.5 244.7,353.3 244.4,352.1 244,350.9 243.7,349.7 243.3,348.5 243,347.3 242.6,346.1 242.3,344.9 242,343.7 241.8,342.9" fill="none" stroke="#5597d4" stroke-width="0.55" stroke-linejoin="round"/>
<path d="M296.5,363.1L296.3,360.5L298.3,361.3ZM240,411.1L239.8,408.5L241.8,409.3ZM297,371.1L296.8,368.5L298.9,369.3ZM239.4,403.1L239.2,400.5L241.3,401.3ZM303.7,363.1L303.5,360.5L305.6,361.3ZM232.7,411.1L232.5,408.5L234.6,409.3ZM304.6,371.1L304.4,368.5L306.5,369.2ZM231.9,403.1L231.6,400.5L233.7,401.2ZM270.5,363.2L269.5,360.8L271.7,360.9ZM267,403.2L266,400.7L268.2,400.9ZM274.8,363.2L274.1,360.7L276.2,361ZM263.3,403.2L262.7,400.6L264.8,401ZM279.3,363.2L278.7,360.6L280.9,361.1ZM259.4,403.2L259,400.5L261.1,401.2ZM284.1,363.2L283.8,360.5L285.9,361.2ZM255,403.1L254.8,400.5L256.9,401.3ZM289.3,363.1L289,360.5L291.1,361.2ZM247.2,411.1L246.9,408.5L249,409.2Z" fill="#5597d4"/><clipPath id="sc268_386"><circle cx="268.6" cy="386.1" r="8.2"/></clipPath>
<circle cx="268.6" cy="386.1" r="8.2" fill="#fff"/>
<g clip-path="url(#sc268_386)">
<path d="M259.4,377.1 Q268.6,377.1 277.8,377.1 V383.5 Q268.6,384.5 259.4,383.5 Z" fill="#a0a0a0"/>
<path d="M259.4,383.5 Q268.6,384.5 277.8,383.5 V390.5 Q268.6,391.5 259.4,390.5 Z" fill="#454545"/>
</g>
<circle cx="268.6" cy="386.1" r="8.2" fill="none" stroke="#999" stroke-width="0.4"/><rect x="298.3" y="422.7" width="8" height="1.7" fill="#222"/></g>
<rect x="227.6" y="344.9" width="82.7" height="82.2" fill="none" stroke="#808080" stroke-width="0.9"/>
<rect x="313.3" y="28.2" width="6.9" height="81.2" fill="url(#cbBlue)" stroke="#8a8a8a" stroke-width="0.7"/>
<path d="M319.9,36.3h-1.4M319.9,44.4h-1.4M319.9,52.6h-1.4M319.9,60.7h-1.4M319.9,68.8h-1.4M319.9,76.9h-1.4M319.9,85h-1.4M319.9,93.2h-1.4M319.9,101.3h-1.4" stroke="#666" stroke-width="0.5"/>
<rect x="311.2" y="257.2" width="7.6" height="82.4" fill="url(#cbBlue)" stroke="#8a8a8a" stroke-width="0.7"/>
<path d="M318.5,265.4h-1.4M318.5,273.7h-1.4M318.5,281.9h-1.4M318.5,290.2h-1.4M318.5,298.4h-1.4M318.5,306.6h-1.4M318.5,314.9h-1.4M318.5,323.1h-1.4M318.5,331.4h-1.4" stroke="#666" stroke-width="0.5"/>
<text x="282.7" y="19.6" font-size="12.5" fill="#2a2a2a">U/U<tspan font-size="10.5">max</tspan></text>
<text x="321.3" y="33.8" font-size="11" fill="#2a2a2a">1</text>
<text x="322.7" y="111.3" font-size="11.5" fill="#2a2a2a">0</text>
<text x="319.3" y="263.6" font-size="11" fill="#2a2a2a">1</text>
<text x="321.0" y="340.5" font-size="11.5" fill="#2a2a2a">0</text>
<clipPath id="fB1"><rect x="585" y="26" width="83" height="82"/></clipPath>
<rect x="585" y="26" width="83" height="82" fill="#000"/>
<g clip-path="url(#fB1)"><path d="M614,62 C604,70 603,90 604,112 L650,112 C651,90 650,70 640,62 Z" fill="#360606" filter="url(#bl4)"/><path d="M616,63 C609,72 609,88 611,104 L643,104 C645,88 645,72 638,63 Z" fill="#480808" filter="url(#bl2)"/><path d="M617.7,67.1 A9.2,9.2 0 0 1 621.6,60.4" fill="none" stroke="#b01818" stroke-width="2.2" filter="url(#bl1)"/><path d="M632.2,60.4 A9.2,9.2 0 0 1 636.1,67.1" fill="none" stroke="#b01818" stroke-width="2.2" filter="url(#bl1)"/><path d="M629.3,24 629.3,25.2 629.3,26.4 629.3,27.6 629.2,28.8 629.2,30 629.2,31.2 629.1,32.4 629.1,33.6 629.1,34.8 629,36 629,37.2 628.9,38.4 628.9,39.6 628.8,40.8 628.8,42 628.7,43.2 628.7,44.4 628.6,45.6 628.5,46.8 628.5,48 628.4,49.2 628.3,50.4 628.2,51.6 628,52.8 627.9,54 627.7,55.2 627.5,56.4 627.2,57.6 627.6,58.8 628,60 628.2,60.4M625.6,60.4 626.1,59.2 626.4,58 626.4,56.8 626.2,55.6 626,54.4 625.8,53.2 625.7,52 625.6,50.8 625.4,49.6 625.4,48.4 625.3,47.2 625.2,46 625.1,44.8 625.1,43.6 625,42.4 625,41.2 624.9,40 624.9,38.8 624.8,37.6 624.8,36.4 624.8,35.2 624.7,34 624.7,32.8 624.6,31.6 624.6,30.4 624.6,29.2 624.5,28 624.5,26.8 624.5,25.6 624.5,24.4 624.5,24M632.1,62.3 633.4,63.2 634.6,64.4 635.3,65.6 635.8,66.8 636,68 636.1,69.2 636,70.4 635.7,71.6 635.3,72.8 634.7,74 633.8,75.2 633,76.1 631.9,77.2 631,78.2 630.3,79.2 629.9,80.4 629.7,81.6 629.6,82.8 629.5,84 629.5,85.2 629.5,86.4 629.5,87.6 629.5,88.8 629.5,90 629.5,91.2 629.5,92.4 629.5,93.6 629.5,94.8 629.5,96 629.5,97.2 629.5,98.4 629.6,99.6 629.6,100.8 629.6,102 629.6,103.2 629.6,104.4 629.6,105.6 629.6,106.8 629.7,108 629.7,109.2 629.7,110M624.1,110 624.1,108.8 624.1,107.6 624.2,106.4 624.2,105.2 624.2,104 624.2,102.8 624.2,101.6 624.2,100.4 624.2,99.2 624.3,98 624.3,96.8 624.3,95.6 624.3,94.4 624.3,93.2 624.3,92 624.3,90.8 624.3,89.6 624.3,88.4 624.3,87.2 624.3,86 624.3,84.8 624.2,83.6 624.2,82.4 624,81.2 623.7,80 623.3,78.8 622.3,77.6 621.4,76.7 620.4,75.6 619.4,74.4 618.7,73.2 618.2,72 617.9,70.8 617.7,69.6 617.7,68.4 617.9,67.2 618.3,66 619,64.8 619.8,63.7 620.9,62.8 622.1,62.1M634.2,24 634.2,25.2 634.1,26.4 634,27.6 633.9,28.8 633.8,30 633.7,31.2 633.6,32.4 633.5,33.6 633.4,34.8 633.3,36 633.2,37.2 633.1,38.4 633,39.6 632.8,40.8 632.7,42 632.5,43.2 632.4,44.4 632.2,45.6 632,46.8 631.8,48 631.6,49.2 631.3,50.4 631.1,51.6 630.8,52.8 630.5,54 630.1,55.2 629.8,56.4 629.7,57.6 630.3,58.8 631.4,59.9 632.5,60.8 633.4,61.6 634.3,62.4 635.3,63.6 636,64.8 636.6,66 636.9,67.2 637.1,68.4 637.2,69.6 637.2,70.8 637,72 636.8,73.2 636.5,74.4 636.1,75.6 635.8,76.8 635.4,78 635.1,79.2 634.9,80.4 634.7,81.6 634.6,82.8 634.6,84 634.5,85.2 634.5,86.4 634.5,87.6 634.5,88.8 634.6,90 634.6,91.2 634.6,92.4 634.7,93.6 634.7,94.8 634.7,96 634.8,97.2 634.8,98.4 634.9,99.6 634.9,100.8 635,102 635,103.2 635,104.4 635.1,105.6 635.1,106.8 635.2,108 635.2,109.2 635.2,110M618.6,110 618.6,108.8 618.6,107.6 618.7,106.4 618.7,105.2 618.8,104 618.8,102.8 618.9,101.6 618.9,100.4 618.9,99.2 619,98 619,96.8 619.1,95.6 619.1,94.4 619.2,93.2 619.2,92 619.2,90.8 619.3,89.6 619.3,88.4 619.3,87.2 619.3,86 619.3,84.8 619.2,83.6 619.1,82.4 619,81.2 618.8,80 618.6,78.8 618.3,77.6 617.9,76.4 617.5,75.2 617.2,74 616.9,72.8 616.7,71.6 616.6,70.4 616.6,69.2 616.7,68 617,66.8 617.4,65.6 618,64.4 618.8,63.2 619.8,62.1 620.8,61.2 621.8,60.4 622.8,59.6 623.7,58.4 624.1,57.2 623.9,56 623.6,54.8 623.2,53.6 622.9,52.4 622.6,51.2 622.4,50 622.1,48.8 621.9,47.6 621.7,46.4 621.6,45.2 621.4,44 621.2,42.8 621.1,41.6 620.9,40.4 620.8,39.2 620.7,38 620.6,36.8 620.4,35.6 620.3,34.4 620.2,33.2 620.1,32 620,30.8 619.9,29.6 619.9,28.4 619.8,27.2 619.7,26 619.6,24.8 619.6,24M639.1,24 639,25.2 638.9,26.4 638.8,27.6 638.6,28.8 638.5,30 638.3,31.2 638.2,32.4 638,33.6 637.9,34.8 637.7,36 637.6,37.2 637.4,38.4 637.2,39.6 637,40.8 636.8,42 636.6,43.2 636.4,44.4 636.1,45.6 635.9,46.8 635.6,48 635.4,49.2 635.1,50.4 634.8,51.6 634.6,52.8 634.3,54 634.2,55.2 634.2,56.4 634.5,57.6 635,58.7 635.8,60 636.5,61.2 637.2,62.4 637.8,63.5 638.3,64.8 638.8,66 639.1,67.2 639.3,68.4 639.5,69.6 639.6,70.8 639.6,72 639.6,73.2 639.6,74.4 639.5,75.6 639.4,76.8 639.4,78 639.3,79.2 639.3,80.4 639.3,81.6 639.3,82.8 639.3,84 639.3,85.2 639.4,86.4 639.4,87.6 639.5,88.8 639.5,90 639.6,91.2 639.6,92.4 639.7,93.6 639.8,94.8 639.9,96 639.9,97.2 640,98.4 640.1,99.6 640.2,100.8 640.2,102 640.3,103.2 640.4,104.4 640.4,105.6 640.5,106.8 640.6,108 640.6,109.2 640.7,110M613.1,110 613.2,108.8 613.3,107.6 613.3,106.4 613.4,105.2 613.5,104 613.5,102.8 613.6,101.6 613.7,100.4 613.7,99.2 613.8,98 613.9,96.8 614,95.6 614,94.4 614.1,93.2 614.2,92 614.2,90.8 614.3,89.6 614.4,88.4 614.4,87.2 614.5,86 614.5,84.8 614.5,83.6 614.5,82.4 614.5,81.2 614.5,80 614.5,78.8 614.4,77.6 614.3,76.4 614.3,75.2 614.2,74 614.2,72.8 614.2,71.6 614.3,70.4 614.4,69.2 614.6,68 614.8,66.8 615.2,65.6 615.6,64.4 616.2,63.2 616.8,62 617.5,60.8 618.2,59.7 619,58.4 619.4,57.3 619.6,56 619.6,54.8 619.4,53.6 619.2,52.4 618.9,51.2 618.6,50 618.4,48.8 618.1,47.6 617.8,46.4 617.6,45.2 617.4,44 617.2,42.8 616.9,41.6 616.7,40.4 616.5,39.2 616.4,38 616.2,36.8 616,35.6 615.9,34.4 615.7,33.2 615.6,32 615.4,30.8 615.3,29.6 615.1,28.4 615,27.2 614.9,26 614.8,24.8 614.7,24M644,24 643.8,25.2 643.7,26.4 643.5,27.6 643.4,28.8 643.2,30 643,31.2 642.8,32.4 642.7,33.6 642.5,34.8 642.3,36 642.1,37.2 641.9,38.4 641.6,39.6 641.4,40.8 641.2,42 641,43.2 640.7,44.4 640.5,45.6 640.2,46.8 640,48 639.8,49.2 639.5,50.4 639.4,51.6 639.2,52.8 639.1,54 639.1,55.2 639.2,56.4 639.4,57.6 639.7,58.8 640.1,60 640.5,61.2 640.9,62.4 641.3,63.6 641.6,64.8 642,66 642.2,67.2 642.5,68.4 642.7,69.6 642.8,70.8 643,72 643.1,73.2 643.2,74.4 643.3,75.6 643.4,76.8 643.5,78 643.5,79.2 643.6,80.4 643.7,81.6 643.8,82.8 643.9,84 644,85.2 644.1,86.4 644.2,87.6 644.3,88.8 644.4,90 644.5,91.2 644.6,92.4 644.7,93.6 644.8,94.8 644.9,96 645,97.2 645.1,98.4 645.2,99.6 645.3,100.8 645.4,102 645.5,103.2 645.6,104.4 645.6,105.6 645.7,106.8 645.8,108 645.9,109.2 646,110M607.8,110 607.9,108.8 608,107.6 608.1,106.4 608.2,105.2 608.3,104 608.4,102.8 608.5,101.6 608.6,100.4 608.7,99.2 608.8,98 608.9,96.8 609,95.6 609.1,94.4 609.2,93.2 609.3,92 609.4,90.8 609.5,89.6 609.6,88.4 609.7,87.2 609.8,86 609.9,84.8 609.9,83.6 610,82.4 610.1,81.2 610.2,80 610.3,78.8 610.4,77.6 610.4,76.4 610.5,75.2 610.6,74 610.7,72.8 610.9,71.6 611,70.4 611.2,69.2 611.4,68 611.7,66.8 612,65.6 612.3,64.4 612.7,63.2 613.1,62 613.5,60.8 613.9,59.6 614.2,58.4 614.5,57.2 614.6,56 614.7,54.8 614.7,53.6 614.6,52.4 614.4,51.2 614.2,50 614,48.8 613.7,47.6 613.5,46.4 613.2,45.2 613,44 612.8,42.8 612.5,41.6 612.3,40.4 612.1,39.2 611.9,38 611.7,36.8 611.5,35.6 611.3,34.4 611.1,33.2 610.9,32 610.7,30.8 610.6,29.6 610.4,28.4 610.2,27.2 610.1,26 609.9,24.8 609.8,24M648.8,24 648.6,25.2 648.5,26.4 648.3,27.6 648.1,28.8 647.9,30 647.7,31.2 647.5,32.4 647.3,33.6 647.1,34.8 646.9,36 646.7,37.2 646.5,38.4 646.3,39.6 646.1,40.8 645.8,42 645.6,43.2 645.4,44.4 645.2,45.6 645,46.8 644.8,48 644.6,49.2 644.4,50.4 644.3,51.6 644.2,52.8 644.2,54 644.2,55.2 644.2,56.4 644.3,57.6 644.5,58.8 644.7,60 644.9,61.2 645.2,62.4 645.4,63.6 645.7,64.8 645.9,66 646.2,67.2 646.4,68.4 646.6,69.6 646.8,70.8 647,72 647.2,73.2 647.3,74.4 647.5,75.6 647.6,76.8 647.8,78 647.9,79.2 648.1,80.4 648.2,81.6 648.3,82.8 648.5,84 648.6,85.2 648.8,86.4 648.9,87.6 649,88.8 649.1,90 649.3,91.2 649.4,92.4 649.5,93.6 649.7,94.8 649.8,96 649.9,97.2 650,98.4 650.2,99.6 650.3,100.8 650.4,102 650.5,103.2 650.6,104.4 650.7,105.6 650.8,106.8 650.9,108 651,109.2 651.1,110M602.7,110 602.8,108.8 602.9,107.6 603,106.4 603.1,105.2 603.2,104 603.3,102.8 603.4,101.6 603.6,100.4 603.7,99.2 603.8,98 603.9,96.8 604.1,95.6 604.2,94.4 604.3,93.2 604.4,92 604.6,90.8 604.7,89.6 604.8,88.4 605,87.2 605.1,86 605.2,84.8 605.4,83.6 605.5,82.4 605.6,81.2 605.8,80 605.9,78.8 606.1,77.6 606.2,76.4 606.4,75.2 606.5,74 606.7,72.8 606.9,71.6 607.1,70.4 607.3,69.2 607.5,68 607.7,66.8 607.9,65.6 608.2,64.4 608.5,63.2 608.7,62 609,60.8 609.2,59.6 609.4,58.4 609.5,57.2 609.6,56 609.7,54.8 609.6,53.6 609.6,52.4 609.5,51.2 609.3,50 609.2,48.8 609,47.6 608.8,46.4 608.5,45.2 608.3,44 608.1,42.8 607.9,41.6 607.7,40.4 607.4,39.2 607.2,38 607,36.8 606.8,35.6 606.6,34.4 606.4,33.2 606.2,32 606,30.8 605.8,29.6 605.6,28.4 605.4,27.2 605.3,26 605.1,24.8 605,24M653.6,24 653.4,25.2 653.3,26.4 653.1,27.6 652.9,28.8 652.7,30 652.5,31.2 652.3,32.4 652.1,33.6 651.9,34.8 651.7,36 651.5,37.2 651.3,38.4 651.1,39.6 650.9,40.8 650.7,42 650.5,43.2 650.3,44.4 650.1,45.6 649.9,46.8 649.8,48 649.6,49.2 649.5,50.4 649.4,51.6 649.3,52.8 649.3,54 649.3,55.2 649.3,56.4 649.4,57.6 649.4,58.8 649.6,60 649.7,61.2 649.9,62.4 650.1,63.6 650.2,64.8 650.4,66 650.6,67.2 650.8,68.4 651,69.6 651.2,70.8 651.4,72 651.6,73.2 651.8,74.4 652,75.6 652.1,76.8 652.3,78 652.5,79.2 652.6,80.4 652.8,81.6 653,82.8 653.1,84 653.3,85.2 653.4,86.4 653.6,87.6 653.7,88.8 653.9,90 654.1,91.2 654.2,92.4 654.3,93.6 654.5,94.8 654.6,96 654.8,97.2 654.9,98.4 655,99.6 655.2,100.8 655.3,102 655.4,103.2 655.6,104.4 655.7,105.6 655.8,106.8 655.9,108 656,109.2 656.1,110M597.7,110 597.8,108.8 597.9,107.6 598,106.4 598.2,105.2 598.3,104 598.4,102.8 598.5,101.6 598.7,100.4 598.8,99.2 598.9,98 599.1,96.8 599.2,95.6 599.4,94.4 599.5,93.2 599.7,92 599.8,90.8 599.9,89.6 600.1,88.4 600.3,87.2 600.4,86 600.6,84.8 600.7,83.6 600.9,82.4 601.1,81.2 601.2,80 601.4,78.8 601.6,77.6 601.7,76.4 601.9,75.2 602.1,74 602.3,72.8 602.5,71.6 602.7,70.4 602.8,69.2 603,68 603.2,66.8 603.4,65.6 603.6,64.4 603.8,63.2 604,62 604.1,60.8 604.3,59.6 604.4,58.4 604.5,57.2 604.5,56 604.5,54.8 604.5,53.6 604.5,52.4 604.4,51.2 604.3,50 604.1,48.8 604,47.6 603.8,46.4 603.6,45.2 603.5,44 603.3,42.8 603.1,41.6 602.8,40.4 602.6,39.2 602.4,38 602.2,36.8 602,35.6 601.8,34.4 601.6,33.2 601.4,32 601.2,30.8 601,29.6 600.8,28.4 600.7,27.2 600.5,26 600.3,24.8 600.2,24M658.4,24 658.3,25.2 658.1,26.4 657.9,27.6 657.7,28.8 657.5,30 657.3,31.2 657.1,32.4 656.9,33.6 656.7,34.8 656.6,36 656.4,37.2 656.2,38.4 656,39.6 655.8,40.8 655.6,42 655.4,43.2 655.3,44.4 655.1,45.6 655,46.8 654.8,48 654.7,49.2 654.6,50.4 654.5,51.6 654.5,52.8 654.4,54 654.4,55.2 654.4,56.4 654.4,57.6 654.5,58.8 654.6,60 654.7,61.2 654.8,62.4 654.9,63.6 655.1,64.8 655.2,66 655.4,67.2 655.5,68.4 655.7,69.6 655.9,70.8 656.1,72 656.2,73.2 656.4,74.4 656.6,75.6 656.8,76.8 657,78 657.1,79.2 657.3,80.4 657.5,81.6 657.6,82.8 657.8,84 658,85.2 658.2,86.4 658.3,87.6 658.5,88.8 658.6,90 658.8,91.2 659,92.4 659.1,93.6 659.3,94.8 659.4,96 659.6,97.2 659.7,98.4 659.9,99.6 660,100.8 660.1,102 660.3,103.2 660.4,104.4 660.5,105.6 660.7,106.8 660.8,108 660.9,109.2 661,110M592.8,110 592.9,108.8 593,107.6 593.2,106.4 593.3,105.2 593.4,104 593.6,102.8 593.7,101.6 593.8,100.4 594,99.2 594.1,98 594.3,96.8 594.4,95.6 594.6,94.4 594.7,93.2 594.9,92 595.1,90.8 595.2,89.6 595.4,88.4 595.5,87.2 595.7,86 595.9,84.8 596,83.6 596.2,82.4 596.4,81.2 596.6,80 596.7,78.8 596.9,77.6 597.1,76.4 597.3,75.2 597.4,74 597.6,72.8 597.8,71.6 598,70.4 598.1,69.2 598.3,68 598.5,66.8 598.6,65.6 598.8,64.4 598.9,63.2 599,62 599.2,60.8 599.2,59.6 599.3,58.4 599.4,57.2 599.4,56 599.4,54.8 599.4,53.6 599.3,52.4 599.3,51.2 599.2,50 599.1,48.8 598.9,47.6 598.8,46.4 598.6,45.2 598.5,44 598.3,42.8 598.1,41.6 597.9,40.4 597.8,39.2 597.6,38 597.4,36.8 597.2,35.6 597,34.4 596.8,33.2 596.6,32 596.4,30.8 596.2,29.6 596,28.4 595.9,27.2 595.7,26 595.5,24.8 595.4,24M663.2,24 663,25.2 662.9,26.4 662.7,27.6 662.5,28.8 662.3,30 662.2,31.2 662,32.4 661.8,33.6 661.6,34.8 661.4,36 661.3,37.2 661.1,38.4 660.9,39.6 660.8,40.8 660.6,42 660.4,43.2 660.3,44.4 660.2,45.6 660,46.8 659.9,48 659.8,49.2 659.7,50.4 659.7,51.6 659.6,52.8 659.6,54 659.6,55.2 659.6,56.4 659.6,57.6 659.6,58.8 659.7,60 659.7,61.2 659.8,62.4 659.9,63.6 660,64.8 660.2,66 660.3,67.2 660.4,68.4 660.6,69.6 660.7,70.8 660.9,72 661,73.2 661.2,74.4 661.4,75.6 661.5,76.8 661.7,78 661.9,79.2 662,80.4 662.2,81.6 662.4,82.8 662.6,84 662.7,85.2 662.9,86.4 663.1,87.6 663.2,88.8 663.4,90 663.5,91.2 663.7,92.4 663.9,93.6 664,94.8 664.2,96 664.3,97.2 664.5,98.4 664.6,99.6 664.8,100.8 664.9,102 665.1,103.2 665.2,104.4 665.3,105.6 665.5,106.8 665.6,108 665.7,109.2 665.8,110M588,110 588.1,108.8 588.2,107.6 588.4,106.4 588.5,105.2 588.6,104 588.8,102.8 588.9,101.6 589.1,100.4 589.2,99.2 589.4,98 589.5,96.8 589.7,95.6 589.8,94.4 590,93.2 590.2,92 590.3,90.8 590.5,89.6 590.6,88.4 590.8,87.2 591,86 591.1,84.8 591.3,83.6 591.5,82.4 591.6,81.2 591.8,80 592,78.8 592.1,77.6 592.3,76.4 592.5,75.2 592.6,74 592.8,72.8 593,71.6 593.1,70.4 593.3,69.2 593.4,68 593.6,66.8 593.7,65.6 593.8,64.4 593.9,63.2 594,62 594.1,60.8 594.2,59.6 594.2,58.4 594.2,57.2 594.2,56 594.2,54.8 594.2,53.6 594.2,52.4 594.1,51.2 594,50 593.9,48.8 593.8,47.6 593.7,46.4 593.6,45.2 593.5,44 593.3,42.8 593.2,41.6 593,40.4 592.8,39.2 592.7,38 592.5,36.8 592.3,35.6 592.1,34.4 591.9,33.2 591.8,32 591.6,30.8 591.4,29.6 591.2,28.4 591,27.2 590.9,26 590.7,24.8 590.6,24M668,24 667.8,25.2 667.7,26.4 667.5,27.6 667.3,28.8 667.2,30 667,31.2 666.8,32.4 666.7,33.6 666.5,34.8 666.3,36 666.2,37.2 666,38.4 665.9,39.6 665.7,40.8 665.6,42 665.5,43.2 665.3,44.4 665.2,45.6 665.1,46.8 665,48 664.9,49.2 664.8,50.4 664.8,51.6 664.7,52.8 664.7,54 664.7,55.2 664.7,56.4 664.7,57.6 664.7,58.8 664.8,60 664.8,61.2 664.9,62.4 665,63.6 665.1,64.8 665.2,66 665.3,67.2 665.4,68.4 665.5,69.6 665.6,70.8 665.8,72 665.9,73.2 666.1,74.4 666.2,75.6 666.4,76.8 666.5,78 666.7,79.2 666.8,80.4 667,81.6 667.2,82.8 667.3,84 667.5,85.2 667.6,86.4 667.8,87.6 668,88.8 668.1,90 668.3,91.2 668.4,92.4 668.6,93.6 668.8,94.8 668.9,96 669.1,97.2 669.2,98.4 669.4,99.6 669.5,100.8 669.7,102 669.8,103.2M583.2,110 583.3,108.8 583.5,107.6 583.6,106.4 583.8,105.2 583.9,104 584,102.8 584.2,101.6 584.3,100.4 584.5,99.2 584.6,98 584.8,96.8 584.9,95.6 585.1,94.4 585.3,93.2 585.4,92 585.6,90.8 585.7,89.6 585.9,88.4 586.1,87.2 586.2,86 586.4,84.8 586.5,83.6 586.7,82.4 586.9,81.2 587,80 587.2,78.8 587.3,77.6 587.5,76.4 587.6,75.2 587.8,74 587.9,72.8 588.1,71.6 588.2,70.4 588.3,69.2 588.5,68 588.6,66.8 588.7,65.6 588.8,64.4 588.9,63.2 588.9,62 589,60.8 589.1,59.6 589.1,58.4 589.1,57.2 589.1,56 589.1,54.8 589.1,53.6 589,52.4 589,51.2 588.9,50 588.9,48.8 588.8,47.6 588.7,46.4 588.6,45.2 588.4,44 588.3,42.8 588.2,41.6 588,40.4 587.9,39.2 587.7,38 587.6,36.8 587.4,35.6 587.2,34.4 587.1,33.2 586.9,32 586.7,30.8 586.6,29.6 586.4,28.4 586.2,27.2 586.1,26 585.9,24.8 585.8,24M669.8,55 669.8,56.4 669.8,57.6M583,73 583.1,71.6 583.3,70.4 583.4,69.2 583.5,68 583.6,66.8 583.7,65.6 583.7,64.4 583.8,63.2 583.9,62 583.9,60.8 584,59.6 584,58.4 584,57.2 584,56 584,54.8 584,53.6 583.9,52.4 583.9,51.2 583.8,50 583.8,48.8 583.7,47.6 583.6,46.4 583.5,45.2 583.4,44 583.3,42.8 583.2,41.6 583.1,40.4 583,39.9" fill="none" stroke="#d0d0d0" stroke-width="0.5" stroke-linejoin="round" opacity="0.85"/>
<path d="M627.6,43.7L628.6,46.2L629.8,43.9M633.7,98.8L634.9,101.2L635.9,98.8M620.3,44L621.7,46.2L622.4,43.7M638.6,93.9L639.9,96.2L640.8,93.7M640.7,38.6L641.3,41.2L642.9,39M607.6,98.7L608.5,101.2L609.8,98.9M644.4,43.6L645.1,46.2L646.6,44M603.1,93.7L604,96.2L605.3,93.9M649.8,69L651.3,71.2L652,68.6M601.5,39L603,41.2L603.7,38.6M658.7,98.9L660,101.2L660.9,98.7M597.4,44L598.8,46.2L599.5,43.7M662.8,94L664.2,96.2L665,93.7M592.2,68.7L593,71.2L594.4,68.9" fill="none" stroke="#d0d0d0" stroke-width="0.6" opacity="0.85"/><clipPath id="sc626_67"><circle cx="626.9" cy="67.9" r="8.1"/></clipPath>
<circle cx="626.9" cy="67.9" r="8.1" fill="#fff"/>
<g clip-path="url(#sc626_67)">
<path d="M617.8,59.7 Q626.9,59.7 636,59.7 V64.5 Q626.9,65.5 617.8,64.5 Z" fill="#7c7c7c"/>
</g><path d="M621.6,60.3 A9.3,9.3 0 0 1 632.2,60.3" fill="none" stroke="#c81818" stroke-width="1.8" filter="url(#bl1)"/><path d="M621.8,60.6 A8.9,8.9 0 0 1 632,60.6" fill="none" stroke="#f06020" stroke-width="0.9"/><path d="M622.1,61.1 A8.3,8.3 0 0 1 631.7,61.1" fill="none" stroke="#f4d040" stroke-width="0.8"/><rect x="656.8" y="102.8" width="8" height="1.8" fill="#f4f4f4"/></g>
<clipPath id="fB2"><rect x="586" y="117.6" width="83" height="82.4"/></clipPath>
<rect x="586" y="117.6" width="83" height="82.4" fill="#000"/>
<g clip-path="url(#fB2)"><path d="M614,153 C598,166 589,186 584,206 L672,206 C667,186 657,166 641,153 Z" fill="#3a0606" filter="url(#bl4)"/><path d="M616,154 C606,167 601,186 599,206 L656,206 C654,186 649,167 639,154 Z" fill="#560a0a" filter="url(#bl4)"/><path d="M636.1,155.7 A9.4,9.4 0 1 1 618.5,155.7" fill="none" stroke="#a01414" stroke-width="2.6" filter="url(#bl1)"/><path d="M661.1,115.6 660.7,116.8 660.3,118 659.9,119.2 659.5,120.4 659.1,121.6 658.7,122.8 658.3,124 657.8,125.2 657.4,126.4 657,127.6 656.5,128.8 656.1,130 655.6,131.2 655.2,132.4 654.7,133.6 654.3,134.8 653.8,136 653.4,137.2 652.9,138.4 652.4,139.6 652,140.8 651.5,142 651.1,143.2 650.7,144.4 650.2,145.6 649.9,146.8 649.5,148 649.2,149.2 648.9,150.4 648.7,151.6 648.5,152.8 648.5,154 648.5,155.2 648.6,156.4 648.8,157.6 649.1,158.8 649.4,160 649.7,161.2 650.2,162.4 650.6,163.6 651.1,164.8 651.5,166 652,167.1 652.5,168.4 653,169.6 653.5,170.8 654,172 654.5,173.2 654.9,174.4 655.4,175.6 655.9,176.8 656.3,178 656.8,179.2 657.2,180.4 657.7,181.6 658.1,182.8 658.6,184 659,185.2 659.4,186.4 659.8,187.6 660.3,188.8 660.7,190 661.1,191.2 661.5,192.4 661.9,193.6 662.3,194.8 662.6,196 663,197.2 663.4,198.4 663.8,199.6 664.2,200.8 664.5,202M590.1,202 590.4,200.8 590.8,199.7 591.2,198.4 591.6,197.2 592,196 592.3,194.8 592.7,193.6 593.1,192.4 593.5,191.2 593.9,190 594.3,188.8 594.8,187.6 595.2,186.4 595.6,185.2 596,184 596.5,182.8 596.9,181.6 597.4,180.4 597.8,179.2 598.3,178 598.7,176.8 599.2,175.6 599.7,174.4 600.1,173.2 600.6,172 601.1,170.8 601.6,169.6 602.1,168.4 602.6,167.2 603.1,166 603.5,164.8 604,163.6 604.4,162.4 604.9,161.2 605.2,160 605.5,158.8 605.8,157.6 606,156.4 606.1,155.2 606.1,154 606.1,152.8 605.9,151.6 605.7,150.4 605.4,149.2 605.1,148 604.7,146.8 604.4,145.6 603.9,144.4 603.5,143.2 603.1,142 602.6,140.8 602.2,139.6 601.7,138.4 601.2,137.2 600.8,136 600.3,134.8 599.9,133.6 599.4,132.4 599,131.2 598.5,130 598.1,128.8 597.6,127.6 597.2,126.4 596.8,125.2 596.3,124 595.9,122.8 595.5,121.6 595.1,120.4 594.7,119.2 594.3,118 593.9,116.8 593.5,115.6M665.4,115.6 665,116.8 664.5,118 664.1,119.2 663.7,120.4 663.3,121.6 662.8,122.8 662.4,124 662,125.2 661.5,126.4 661.1,127.6 660.6,128.8 660.2,130 659.7,131.2 659.3,132.4 658.8,133.6 658.4,134.8 658,136 657.5,137.2 657.1,138.4 656.6,139.6 656.2,140.8 655.8,142 655.4,143.2 655,144.4 654.6,145.6 654.3,146.8 654,148 653.7,149.2 653.5,150.4 653.4,151.6 653.3,152.8 653.3,154 653.3,155.2 653.4,156.4 653.5,157.6 653.8,158.8 654,160 654.3,161.2 654.7,162.4 655.1,163.6 655.5,164.8 655.9,166 656.3,167.2 656.8,168.4 657.3,169.6 657.7,170.8 658.2,172 658.6,173.2 659.1,174.4 659.6,175.6 660,176.8 660.5,178 661,179.2 661.4,180.4 661.9,181.6 662.3,182.8 662.8,184 663.2,185.2 663.6,186.4 664.1,187.6 664.5,188.8 664.9,190 665.3,191.2 665.8,192.4 666.2,193.6 666.6,194.8 667,196 667.4,197.2 667.8,198.4 668.2,199.6 668.6,200.8 669,202M585.6,202 586,200.8 586.4,199.7 586.8,198.4 587.2,197.2 587.6,196 588,194.9 588.4,193.7 588.8,192.5 589.2,191.4 589.6,190.2 590,189.1 590.5,187.6 591,186.4 591.4,185.2 591.8,184 592.3,182.8 592.7,181.6 593.2,180.4 593.6,179.2 594.1,178 594.6,176.8 595,175.6 595.5,174.4 596,173.2 596.4,172.1 596.9,170.8 597.3,169.6 597.8,168.4 598.3,167.2 598.7,166 599.1,164.8 599.5,163.6 599.9,162.4 600.3,161.2 600.6,160 600.8,158.8 601.1,157.6 601.2,156.4 601.3,155.2 601.3,154 601.3,152.8 601.2,151.6 601.1,150.4 600.9,149.2 600.6,148 600.3,146.8 600,145.6 599.6,144.4 599.2,143.2 598.8,142 598.4,140.8 598,139.6 597.5,138.4 597.1,137.2 596.6,136 596.2,134.8 595.8,133.6 595.3,132.4 594.9,131.2 594.4,130 594,128.8 593.5,127.6 593.1,126.4 592.6,125.2 592.2,124 591.8,122.8 591.3,121.6 590.9,120.4 590.5,119.2 590.1,118 589.6,116.8 589.2,115.6M669.6,115.6 669.2,116.8 668.8,118 668.3,119.2 667.9,120.4 667.5,121.6 667,122.8 666.6,124 666.1,125.2 665.7,126.4 665.3,127.6 664.8,128.8 664.4,129.9 663.9,131.2 663.5,132.4 663.1,133.6 662.6,134.8 662.2,136 661.8,137.2 661.3,138.4 660.9,139.6 660.5,140.8 660.2,142 659.8,143.2 659.5,144.4 659.1,145.6 658.9,146.8 658.6,148 658.4,149.2 658.2,150.4 658.1,151.6 658,152.8 658,154 658.1,155.2 658.1,156.4 658.3,157.6 658.5,158.8 658.7,160 659,161.2 659.3,162.4 659.6,163.6 660,164.8 660.3,166 660.7,167.2 661.2,168.4 661.6,169.6 662,170.7 662.5,172 662.9,173.2 663.4,174.4 663.8,175.6 664.3,176.8 664.7,178 665.2,179.2 665.6,180.3 666.1,181.6 666.5,182.8 667,184 667.4,185.2 667.9,186.4 668.3,187.6 668.7,188.8 669.2,190 669.6,191.2 670,192.3 670.4,193.6 670.8,194.6M584,194 584.4,192.8 584.9,191.6 585.3,190.4 585.7,189.2 586.2,188 586.6,186.8 587,185.6 587.5,184.4 587.9,183.2 588.4,182 588.8,180.8 589.3,179.6 589.7,178.4 590.2,177.2 590.6,176 591.1,174.8 591.5,173.6 592,172.4 592.4,171.2 592.9,170 593.3,168.8 593.7,167.6 594.1,166.4 594.5,165.2 594.9,164 595.2,162.8 595.5,161.6 595.8,160.4 596.1,159.2 596.3,158 596.4,156.8 596.5,155.6 596.6,154.4 596.6,153.2 596.5,152 596.4,150.8 596.3,149.6 596.1,148.4 595.8,147.2 595.6,146 595.2,144.8 594.9,143.6 594.6,142.4 594.2,141.2 593.8,140 593.4,138.8 593,137.6 592.6,136.4 592.1,135.2 591.7,134 591.3,132.8 590.8,131.6 590.4,130.4 589.9,129.2 589.5,128 589,126.8 588.6,125.6 588.2,124.4 587.7,123.2 587.3,122 586.8,120.8 586.4,119.6 586,118.5 585.5,117.2 585.1,116 585,115.6M670.8,123.8 670.3,125.2 669.8,126.4 669.4,127.6 669,128.8 668.5,130 668.1,131.2 667.7,132.4 667.2,133.6 666.8,134.8 666.4,136 666,137.2 665.6,138.4 665.2,139.6 664.9,140.8 664.5,142 664.2,143.2 663.9,144.4 663.6,145.6 663.4,146.8 663.2,148 663,149.2 662.8,150.4 662.7,151.6 662.7,152.8 662.7,154 662.7,155.2 662.8,156.4 662.9,157.6 663.1,158.8 663.3,160 663.5,161.2 663.8,162.4 664.1,163.6 664.4,164.8 664.8,166 665.1,167.2 665.5,168.4 665.9,169.6 666.3,170.8 666.7,172 667.1,173.2 667.6,174.4 668,175.6 668.4,176.8 668.9,178 669.3,179.2 669.8,180.4 670.2,181.6 670.7,182.8 670.8,183.2M584,182.6 584.5,181.2 585,180 585.4,178.8 585.9,177.6 586.3,176.4 586.7,175.2 587.2,174 587.6,172.8 588,171.7 588.4,170.5 588.8,169.3 589.2,168.1 589.6,166.8 590,165.6 590.3,164.4 590.6,163.2 590.9,162 591.2,160.8 591.4,159.6 591.6,158.4 591.7,157.2 591.8,156 591.9,154.8 591.9,153.6 591.9,152.4 591.8,151.2 591.7,150 591.6,148.8 591.4,147.6 591.1,146.4 590.9,145.2 590.6,144 590.3,142.8 590,141.6 589.6,140.4 589.2,139.2 588.8,138 588.5,136.8 588,135.6 587.6,134.4 587.2,133.2 586.8,132 586.4,130.8 585.9,129.6 585.5,128.4 585.1,127.2 584.6,126 584.2,124.8 584,124.3M670.8,136 670.4,137.2 670.1,138.4 669.7,139.6 669.4,140.8 669,142 668.8,143.2 668.5,144.4 668.2,145.6 668,146.8 667.8,148 667.7,149.2 667.6,150.4 667.5,151.6 667.4,152.8 667.4,154 667.4,155.2 667.5,156.4 667.6,157.6 667.8,158.8 668,160 668.2,161.2 668.4,162.4 668.7,163.6 669,164.8 669.3,166 669.6,167.2 670,168.4 670.3,169.6 670.7,170.8 670.8,171M584,170.4 584.4,169.2 584.7,168 585.1,166.8 585.4,165.6 585.7,164.4 586,163.2 586.3,162 586.5,160.8 586.7,159.6 586.9,158.4 587,157.2 587.1,156 587.2,154.8 587.2,153.6 587.2,152.4 587.1,151.2 587,150 586.9,148.8 586.7,147.6 586.5,146.4 586.3,145.2 586,144 585.8,142.8 585.4,141.6 585.1,140.4 584.8,139.2 584.4,138 584.1,136.8 584,136.6M629.8,115.6 629.7,116.8 629.7,118 629.7,119.2 629.6,120.4 629.6,121.6 629.5,122.8 629.5,124 629.4,125.2 629.4,126.4 629.3,127.6 629.3,128.8 629.2,130 629.2,131.2 629.1,132.4 629.1,133.6 629,134.8 628.9,136 628.9,137.2 628.8,138.4 628.8,139.6 628.7,140.8 628.6,142 628.5,143.2 628.4,144.4 628.4,145.6 628.3,146.8 628.2,148 628.1,149.2 627.9,150.4 627.8,151.2M626.8,151.2 626.6,150 626.5,148.8 626.4,147.6 626.3,146.4 626.2,145.2 626.1,144 626,142.8 626,141.6 625.9,140.4 625.8,139.2 625.8,138 625.7,136.8 625.6,135.6 625.6,134.4 625.5,133.2 625.5,132 625.4,130.8 625.4,129.6 625.3,128.4 625.3,127.2 625.2,126 625.2,124.8 625.1,123.6 625.1,122.4 625,121.2 625,120 624.9,118.8 624.9,117.6 624.8,116.4 624.8,115.6M628.3,166.4 628.4,167.6 628.6,168.8 628.7,170 628.8,171.2 628.9,172.4 628.9,173.6 629,174.8 629.1,176 629.2,177.2 629.2,178.4 629.3,179.6 629.3,180.8 629.4,182 629.4,183.2 629.5,184.4 629.5,185.6 629.6,186.8 629.6,188 629.7,189.2 629.7,190.4 629.8,191.6 629.8,192.8 629.9,194 629.9,195.2 629.9,196.4 630,197.6 630,198.8 630.1,200 630.1,201.2 630.1,202M624.5,202 624.5,200.8 624.6,199.6 624.6,198.4 624.6,197.2 624.7,196 624.7,194.8 624.8,193.6 624.8,192.4 624.8,191.2 624.9,190 624.9,188.8 625,187.6 625,186.4 625.1,185.2 625.1,184 625.2,182.8 625.2,181.6 625.3,180.4 625.3,179.2 625.4,178 625.5,176.8 625.5,175.6 625.6,174.4 625.7,173.2 625.8,172 625.9,170.8 626,169.6 626.1,168.4 626.2,167.2 626.3,166.4M635.7,115.6 635.5,116.8 635.4,118 635.3,119.2 635.1,120.4 635,121.6 634.8,122.8 634.7,124 634.5,125.2 634.4,126.4 634.2,127.6 634,128.8 633.9,130 633.7,131.2 633.5,132.4 633.3,133.6 633.1,134.8 632.9,136 632.7,137.2 632.5,138.4 632.3,139.6 632.1,140.8 631.8,142 631.6,143.2 631.3,144.4 631,145.6 630.7,146.8 630.4,148 630.1,149.2 629.7,150.4 629.3,151.6M625.3,151.6 624.9,150.4 624.5,149.2 624.2,148 623.9,146.8 623.6,145.6 623.3,144.4 623,143.2 622.8,142 622.5,140.8 622.3,139.6 622.1,138.4 621.9,137.2 621.7,136 621.5,134.8 621.3,133.6 621.1,132.4 620.9,131.2 620.7,130 620.6,128.8 620.4,127.6 620.2,126.4 620.1,125.2 619.9,124 619.8,122.8 619.6,121.6 619.5,120.4 619.3,119.2 619.2,118 619.1,116.8 618.9,115.6M630.6,165.8 631.2,167.1 631.6,168.3 632,169.6 632.3,170.8 632.6,172 632.9,173.2 633.1,174.4 633.4,175.6 633.6,176.8 633.8,178 634,179.2 634.2,180.4 634.4,181.6 634.5,182.8 634.7,184 634.9,185.2 635,186.4 635.2,187.6 635.3,188.8 635.5,190 635.6,191.2 635.7,192.4 635.9,193.6 636,194.8 636.2,196 636.3,197.2 636.4,198.4 636.5,199.6 636.7,200.8 636.8,202M617.8,202 617.9,200.8 618.1,199.6 618.2,198.4 618.3,197.2 618.4,196 618.6,194.8 618.7,193.6 618.8,192.4 619,191.2 619.1,190 619.3,188.8 619.4,187.6 619.6,186.4 619.7,185.2 619.9,184 620.1,182.8 620.2,181.6 620.4,180.4 620.6,179.2 620.8,178 621,176.8 621.2,175.6 621.5,174.4 621.7,173.2 622,172 622.3,170.8 622.6,169.6 623,168.4 623.4,167.2 623.9,166 624,165.6M641.5,115.6 641.3,116.8 641.1,118 640.9,119.2 640.6,120.4 640.4,121.6 640.2,122.8 639.9,124 639.7,125.2 639.4,126.4 639.2,127.6 638.9,128.8 638.6,130 638.3,131.2 638.1,132.4 637.8,133.6 637.5,134.8 637.1,136 636.8,137.2 636.5,138.4 636.1,139.6 635.8,140.8 635.4,142 635,143.2 634.6,144.4 634.1,145.6 633.7,146.8 633.2,148 632.7,149.2 632.1,150.4 631.5,151.6 631.2,152.4M623.4,152.4 622.9,151.2 622.3,150 621.8,148.8 621.2,147.6 620.8,146.4 620.3,145.2 619.9,144 619.5,142.8 619.1,141.6 618.7,140.4 618.3,139.2 618,138 617.7,136.8 617.4,135.6 617,134.4 616.7,133.2 616.5,132 616.2,130.8 615.9,129.6 615.6,128.4 615.4,127.2 615.1,126 614.8,124.8 614.6,123.6 614.4,122.4 614.1,121.2 613.9,120 613.7,118.8 613.4,117.6 613.2,116.4 613.1,115.6M632.7,164.1 633.6,165.2 634.4,166.4 635,167.6 635.6,168.8 636.1,170 636.5,171.2 636.9,172.4 637.3,173.6 637.7,174.8 638,176 638.4,177.2 638.7,178.4 639,179.6 639.3,180.8 639.5,182 639.8,183.2 640.1,184.4 640.3,185.6 640.6,186.8 640.8,188 641.1,189.2 641.3,190.4 641.5,191.6 641.8,192.8 642,194 642.2,195.2 642.4,196.4 642.6,197.6 642.8,198.8 643,200 643.2,201.2 643.4,202M611.2,202 611.4,200.8 611.6,199.6 611.8,198.4 612.1,197.2 612.3,196 612.5,194.8 612.7,193.6 612.9,192.4 613.1,191.2 613.4,190 613.6,188.8 613.8,187.6 614.1,186.4 614.3,185.2 614.6,184 614.9,182.8 615.1,181.6 615.4,180.4 615.7,179.2 616,178 616.3,176.8 616.7,175.6 617,174.4 617.4,173.2 617.8,172 618.2,170.8 618.7,169.6 619.2,168.4 619.8,167.2 620.4,166.1 621.2,165 621.8,164.2M647.4,115.6 647.1,116.8 646.8,118 646.5,119.2 646.2,120.4 645.9,121.6 645.6,122.8 645.3,124 644.9,125.2 644.6,126.4 644.3,127.6 643.9,128.8 643.6,130 643.2,131.2 642.8,132.4 642.4,133.6 642.1,134.8 641.7,136 641.3,137.2 640.8,138.4 640.4,139.6 639.9,140.8 639.5,142 639,143.2 638.5,144.4 638,145.6 637.5,146.8 636.9,148 636.3,149.2 635.7,150.4 635.1,151.6 634.5,152.8 633.9,154 633.6,154.5M621,154.6 620.4,153.4 619.7,152 619.1,150.8 618.5,149.6 617.9,148.4 617.3,147.2 616.8,146 616.3,144.8 615.8,143.6 615.3,142.4 614.8,141.2 614.4,140 613.9,138.8 613.5,137.6 613.1,136.4 612.7,135.2 612.3,134 611.9,132.8 611.5,131.6 611.2,130.4 610.8,129.2 610.5,128 610.1,126.8 609.8,125.6 609.5,124.4 609.1,123.2 608.8,122 608.5,120.8 608.2,119.6 607.9,118.4 607.6,117.2 607.3,116 607.2,115.6M634.5,161.1 635.6,162 636.7,163.2 637.6,164.4 638.4,165.6 639,166.8 639.7,168 640.2,169.2 640.8,170.4 641.3,171.6 641.8,172.8 642.2,174 642.6,175.2 643.1,176.4 643.5,177.6 643.8,178.8 644.2,180 644.6,181.2 644.9,182.4 645.3,183.6 645.6,184.8 645.9,186 646.3,187.2 646.6,188.4 646.9,189.6 647.2,190.8 647.5,192 647.8,193.2 648.1,194.4 648.4,195.6 648.6,196.8 648.9,198 649.2,199.2 649.5,200.4 649.7,201.6 649.8,202M604.8,202 605.1,200.8 605.3,199.6 605.6,198.4 605.9,197.2 606.1,196 606.4,194.8 606.7,193.6 607,192.4 607.3,191.2 607.6,190 607.9,188.8 608.2,187.6 608.5,186.4 608.9,185.2 609.2,184 609.6,182.8 609.9,181.6 610.3,180.4 610.6,179.2 611,178 611.4,176.8 611.8,175.6 612.3,174.4 612.7,173.2 613.2,172 613.7,170.8 614.2,169.6 614.7,168.4 615.3,167.2 616,166 616.7,164.8 617.6,163.6 618.4,162.6 619.5,161.6 620,161.2M653.2,115.6 652.9,116.8 652.5,118 652.1,119.2 651.8,120.4 651.4,121.6 651,122.8 650.7,124 650.3,125.2 649.9,126.4 649.5,127.6 649.1,128.8 648.7,130 648.3,131.2 647.9,132.4 647.4,133.6 647,134.8 646.5,136 646.1,137.2 645.6,138.4 645.2,139.6 644.7,140.8 644.2,142 643.7,143.2 643.2,144.4 642.7,145.6 642.2,146.8 641.7,148 641.2,149.1 640.7,150.4 640.3,151.6 639.9,152.8 639.7,154 639.5,155.2 639.6,156.4 639.8,157.6 640.2,158.8 640.7,160 641.3,161.2 641.9,162.4 642.6,163.6 643.2,164.8 643.8,166 644.4,167.2 644.9,168.4 645.5,169.6 646,170.8 646.5,172 647,173.2 647.5,174.4 647.9,175.6 648.4,176.8 648.8,178 649.3,179.2 649.7,180.4 650.1,181.6 650.5,182.8 650.9,184 651.3,185.2 651.7,186.4 652,187.6 652.4,188.8 652.8,190 653.1,191.2 653.5,192.4 653.8,193.6 654.2,194.8 654.5,196 654.8,197.2 655.1,198.4 655.5,199.6 655.8,200.8 656.1,202M598.5,202 598.8,200.8 599.1,199.6 599.5,198.4 599.8,197.2 600.1,196 600.4,194.8 600.8,193.6 601.1,192.4 601.5,191.2 601.8,190 602.2,188.8 602.6,187.6 602.9,186.4 603.3,185.2 603.7,184 604.1,182.8 604.5,181.6 604.9,180.4 605.3,179.2 605.8,178 606.2,176.8 606.7,175.6 607.1,174.4 607.6,173.2 608.1,172 608.6,170.8 609.1,169.6 609.7,168.4 610.2,167.2 610.8,166 611.4,164.8 612,163.7 612.7,162.4 613.3,161.2 613.9,160 614.4,158.8 614.8,157.7 615,156.4 615.1,155.2 614.9,154 614.7,152.8 614.3,151.6 613.9,150.4 613.4,149.2 612.9,148 612.4,146.8 611.9,145.6 611.4,144.4 610.9,143.2 610.4,142 609.9,140.8 609.4,139.6 609,138.4 608.5,137.2 608.1,136 607.6,134.8 607.2,133.6 606.7,132.4 606.3,131.2 605.9,130 605.5,128.8 605.1,127.6 604.7,126.4 604.3,125.2 603.9,124 603.6,122.8 603.2,121.6 602.8,120.4 602.5,119.2 602.1,118 601.7,116.8 601.4,115.6" fill="none" stroke="#d0d0d0" stroke-width="0.5" stroke-linejoin="round" opacity="0.85"/>
<path d="M653.6,133.5L653.8,136.1L655.7,134.3M595,183.5L595.3,186.1L597.1,184.2M655.9,169.3L657.8,171.1L658,168.5M592.2,127.3L594.1,129.1L594.3,126.5M661.9,133.5L662.1,136.1L664,134.2M624.1,126.8L625.3,129.2L626.3,126.8M624,183.8L625,186.2L626.2,183.8M619.2,127L620.6,129.2L621.4,126.7M618.8,183.7L619.6,186.2L621,184M614.2,127.1L615.8,129.2L616.3,126.6M613.6,183.6L614.1,186.2L615.7,184.1M609.1,127.2L610.8,129.2L611.2,126.5M608.2,183.6L608.6,186.2L610.3,184.1M644.2,169.3L646.1,171.1L646.2,168.5M603.8,127.2L605.6,129.1L605.9,126.5" fill="none" stroke="#d0d0d0" stroke-width="0.6" opacity="0.85"/><clipPath id="sc627_158"><circle cx="627.3" cy="158.9" r="8.1"/></clipPath>
<circle cx="627.3" cy="158.9" r="8.1" fill="#fff"/>
<g clip-path="url(#sc627_158)">
<path d="M618.2,150.7 Q627.3,150.7 636.4,150.7 V154.5 Q627.3,155.1 618.2,154.5 Z" fill="#8c8c8c"/>
<path d="M618.2,154.5 Q627.3,155.1 636.4,154.5 V155.7 Q627.3,156.3 618.2,155.7 Z" fill="#5e5e5e"/>
</g><path d="M620.2,152.9 A9.3,9.3 0 0 1 634.4,152.9" fill="none" stroke="#c81818" stroke-width="1.8" filter="url(#bl1)"/><path d="M620.5,153.2 A8.9,8.9 0 0 1 634.1,153.2" fill="none" stroke="#f06020" stroke-width="0.9"/><path d="M620.9,153.5 A8.3,8.3 0 0 1 633.7,153.5" fill="none" stroke="#f4d040" stroke-width="0.8"/><rect x="656.8" y="194.2" width="8" height="1.8" fill="#f4f4f4"/></g>
<clipPath id="fD1"><rect x="584.2" y="259.2" width="83.6" height="82.2"/></clipPath>
<rect x="584.2" y="259.2" width="83.6" height="82.2" fill="#000"/>
<g clip-path="url(#fD1)"><path d="M617.5,302 L616.5,344 L634.5,344 L633.5,302 Z" fill="#3a0606" filter="url(#bl2)"/><path d="M620,306 L620.5,344 L630.5,344 L631,306 Z" fill="#5a0a0a" filter="url(#bl2)"/><path d="M635.1,300 A9.5,9.5 0 0 1 616.1,300" fill="none" stroke="#8a1010" stroke-width="1.8" filter="url(#bl1)"/><path d="M628.4,257.2 628.4,258.4 628.4,259.6 628.4,260.8 628.4,262 628.4,263.2 628.4,264.4 628.4,265.6 628.4,266.8 628.4,268 628.4,269.2 628.4,270.4 628.4,271.6 628.4,272.8 628.4,274 628.4,275.2 628.4,276.4 628.5,277.6 628.5,278.8 628.5,280 628.5,281.2 628.5,282.4 628.6,283.6 628.6,284.8 628.7,286 628.8,287.2 629,288.4 629.3,289.6 629.8,290.8 630.6,292 631.4,293 632.1,294 632.9,295.2 633.5,296.4 633.9,297.6 634.1,298.8 634.2,300 634.1,301.2 633.9,302.4 633.5,303.6 632.9,304.8 632.2,305.9 631.4,307 630.6,308 629.8,309.2 629.3,310.4 629,311.6 628.8,312.8 628.7,314 628.6,315.2 628.6,316.4 628.5,317.6 628.5,318.8 628.5,320 628.5,321.2 628.5,322.4 628.4,323.6 628.4,324.8 628.4,326 628.4,327.2 628.4,328.4 628.4,329.6 628.4,330.8 628.4,332 628.4,333.2 628.4,334.4 628.4,335.6 628.4,336.8 628.4,338 628.4,339.2 628.4,340.4 628.4,341.6 628.4,342.8 628.4,343.2M622.8,343.2 622.8,342 622.8,340.8 622.8,339.6 622.8,338.4 622.8,337.2 622.8,336 622.8,334.8 622.8,333.6 622.8,332.4 622.8,331.2 622.8,330 622.8,328.8 622.8,327.6 622.8,326.4 622.8,325.2 622.8,324 622.8,322.8 622.7,321.6 622.7,320.4 622.7,319.2 622.7,318 622.6,316.8 622.6,315.6 622.5,314.4 622.4,313.2 622.3,312 622,310.8 621.6,309.6 621,308.5 620.2,307.5 619.4,306.5 618.6,305.3 617.9,304 617.4,302.8 617.1,301.6 617,300.4 617,299.2 617.2,298 617.5,296.8 618.1,295.6 618.8,294.4 619.7,293.2 620.6,292 621.4,290.8 621.9,289.6 622.2,288.4 622.4,287.2 622.5,286 622.6,284.8 622.6,283.6 622.7,282.4 622.7,281.2 622.7,280 622.7,278.8 622.7,277.6 622.8,276.4 622.8,275.2 622.8,274 622.8,272.8 622.8,271.6 622.8,270.4 622.8,269.2 622.8,268 622.8,266.8 622.8,265.6 622.8,264.4 622.8,263.2 622.8,262 622.8,260.8 622.8,259.6 622.8,258.4 622.8,257.2M634,257.2 634,258.4 634,259.6 634,260.8 634,262 634,263.2 634,264.4 634,265.6 634,266.8 634,268 634,269.2 634,270.4 634.1,271.6 634.1,272.8 634.1,274 634.1,275.2 634.1,276.4 634.1,277.6 634.2,278.8 634.2,280 634.2,281.2 634.3,282.4 634.4,283.6 634.4,284.8 634.5,286 634.7,287.2 634.8,288.4 635,289.6 635.2,290.8 635.5,292 635.7,293.2 636,294.4 636.2,295.6 636.4,296.8 636.5,298 636.6,299.2 636.6,300.4 636.6,301.6 636.5,302.8 636.3,304 636.1,305.2 635.8,306.4 635.5,307.6 635.3,308.8 635.1,310 634.9,311.2 634.7,312.4 634.6,313.6 634.5,314.8 634.4,316 634.3,317.2 634.3,318.4 634.2,319.6 634.2,320.8 634.2,322 634.1,323.2 634.1,324.4 634.1,325.6 634.1,326.8 634.1,328 634.1,329.2 634,330.4 634,331.6 634,332.8 634,334 634,335.2 634,336.4 634,337.6 634,338.8 634,340 634,341.2 634,342.4 634,343.2M617.2,343.2 617.2,342 617.2,340.8 617.2,339.6 617.2,338.4 617.2,337.2 617.2,336 617.2,334.8 617.2,333.6 617.2,332.4 617.2,331.2 617.2,330 617.1,328.8 617.1,327.6 617.1,326.4 617.1,325.2 617.1,324 617.1,322.8 617,321.6 617,320.4 617,319.2 616.9,318 616.9,316.8 616.8,315.6 616.7,314.4 616.6,313.2 616.4,312 616.3,310.8 616.1,309.6 615.8,308.4 615.6,307.2 615.3,306 615.1,304.8 614.9,303.6 614.7,302.4 614.6,301.2 614.6,300 614.6,298.8 614.7,297.6 614.9,296.4 615.1,295.2 615.3,294 615.6,292.8 615.8,291.6 616.1,290.4 616.3,289.2 616.4,288 616.6,286.8 616.7,285.6 616.8,284.4 616.9,283.2 616.9,282 617,280.8 617,279.6 617,278.4 617.1,277.2 617.1,276 617.1,274.8 617.1,273.6 617.1,272.4 617.1,271.2 617.2,270 617.2,268.8 617.2,267.6 617.2,266.4 617.2,265.2 617.2,264 617.2,262.8 617.2,261.6 617.2,260.4 617.2,259.2 617.2,258 617.2,257.2M639.6,257.2 639.6,258.4 639.6,259.6 639.6,260.8 639.6,262 639.6,263.2 639.6,264.4 639.6,265.6 639.6,266.8 639.6,268 639.7,269.2 639.7,270.4 639.7,271.6 639.7,272.8 639.7,274 639.7,275.2 639.7,276.4 639.8,277.6 639.8,278.8 639.8,280 639.9,281.2 639.9,282.4 640,283.6 640,284.8 640.1,286 640.1,287.2 640.2,288.4 640.3,289.6 640.4,290.8 640.5,292 640.5,293.2 640.6,294.4 640.7,295.6 640.8,296.8 640.8,298 640.8,299.2 640.8,300.4 640.8,301.6 640.8,302.8 640.7,304 640.7,305.2 640.6,306.4 640.5,307.6 640.4,308.8 640.3,310 640.2,311.2 640.2,312.4 640.1,313.6 640,314.8 640,316 639.9,317.2 639.9,318.4 639.8,319.6 639.8,320.8 639.8,322 639.8,323.2 639.7,324.4 639.7,325.6 639.7,326.8 639.7,328 639.7,329.2 639.7,330.4 639.6,331.6 639.6,332.8 639.6,334 639.6,335.2 639.6,336.4 639.6,337.6 639.6,338.8 639.6,340 639.6,341.2 639.6,342.4 639.6,343.2M611.6,343.2 611.6,342 611.6,340.8 611.6,339.6 611.6,338.4 611.6,337.2 611.6,336 611.6,334.8 611.6,333.6 611.6,332.4 611.6,331.2 611.5,330 611.5,328.8 611.5,327.6 611.5,326.4 611.5,325.2 611.5,324 611.4,322.8 611.4,321.6 611.4,320.4 611.3,319.2 611.3,318 611.3,316.8 611.2,315.6 611.2,314.4 611.1,313.2 611,312 610.9,310.8 610.9,309.6 610.8,308.4 610.7,307.2 610.6,306 610.5,304.8 610.5,303.6 610.4,302.4 610.4,301.2 610.4,300 610.4,298.8 610.4,297.6 610.5,296.4 610.5,295.2 610.6,294 610.7,292.8 610.8,291.6 610.9,290.4 610.9,289.2 611,288 611.1,286.8 611.2,285.6 611.2,284.4 611.3,283.2 611.3,282 611.3,280.8 611.4,279.6 611.4,278.4 611.4,277.2 611.5,276 611.5,274.8 611.5,273.6 611.5,272.4 611.5,271.2 611.5,270 611.6,268.8 611.6,267.6 611.6,266.4 611.6,265.2 611.6,264 611.6,262.8 611.6,261.6 611.6,260.4 611.6,259.2 611.6,258 611.6,257.2M645.2,257.2 645.2,258.4 645.2,259.6 645.2,260.8 645.2,262 645.2,263.2 645.2,264.4 645.2,265.6 645.2,266.8 645.2,268 645.3,269.2 645.3,270.4 645.3,271.6 645.3,272.8 645.3,274 645.3,275.2 645.3,276.4 645.4,277.6 645.4,278.8 645.4,280 645.4,281.2 645.4,282.4 645.5,283.6 645.5,284.8 645.5,286 645.6,287.2 645.6,288.4 645.6,289.6 645.7,290.8 645.7,292 645.7,293.2 645.8,294.4 645.8,295.6 645.8,296.8 645.8,298 645.8,299.2 645.8,300.4 645.8,301.6 645.8,302.8 645.8,304 645.8,305.2 645.8,306.4 645.7,307.6 645.7,308.8 645.7,310 645.6,311.2 645.6,312.4 645.5,313.6 645.5,314.8 645.5,316 645.5,317.2 645.4,318.4 645.4,319.6 645.4,320.8 645.4,322 645.3,323.2 645.3,324.4 645.3,325.6 645.3,326.8 645.3,328 645.3,329.2 645.3,330.4 645.2,331.6 645.2,332.8 645.2,334 645.2,335.2 645.2,336.4 645.2,337.6 645.2,338.8 645.2,340 645.2,341.2 645.2,342.4 645.2,343.2M606,343.2 606,342 606,340.8 606,339.6 606,338.4 606,337.2 606,336 606,334.8 606,333.6 606,332.4 605.9,331.2 605.9,330 605.9,328.8 605.9,327.6 605.9,326.4 605.9,325.2 605.9,324 605.9,322.8 605.8,321.6 605.8,320.4 605.8,319.2 605.8,318 605.7,316.8 605.7,315.6 605.7,314.4 605.6,313.2 605.6,312 605.6,310.8 605.5,309.6 605.5,308.4 605.5,307.2 605.4,306 605.4,304.8 605.4,303.6 605.4,302.4 605.4,301.2 605.4,300 605.4,298.8 605.4,297.6 605.4,296.4 605.4,295.2 605.4,294 605.5,292.8 605.5,291.6 605.5,290.4 605.6,289.2 605.6,288 605.6,286.8 605.7,285.6 605.7,284.4 605.7,283.2 605.8,282 605.8,280.8 605.8,279.6 605.8,278.4 605.9,277.2 605.9,276 605.9,274.8 605.9,273.6 605.9,272.4 605.9,271.2 605.9,270 605.9,268.8 606,267.6 606,266.4 606,265.2 606,264 606,262.8 606,261.6 606,260.4 606,259.2 606,258 606,257.2M650.8,257.2 650.8,258.4 650.8,259.6 650.8,260.8 650.8,262 650.8,263.2 650.8,264.4 650.8,265.6 650.8,266.8 650.8,268 650.8,269.2 650.9,270.4 650.9,271.6 650.9,272.8 650.9,274 650.9,275.2 650.9,276.4 650.9,277.6 650.9,278.8 650.9,280 651,281.2 651,282.4 651,283.6 651,284.8 651,286 651.1,287.2 651.1,288.4 651.1,289.6 651.1,290.8 651.1,292 651.1,293.2 651.1,294.4 651.2,295.6 651.2,296.8 651.2,298 651.2,299.2 651.2,300.4 651.2,301.6 651.2,302.8 651.2,304 651.1,305.2 651.1,306.4 651.1,307.6 651.1,308.8 651.1,310 651.1,311.2 651.1,312.4 651,313.6 651,314.8 651,316 651,317.2 651,318.4 651,319.6 650.9,320.8 650.9,322 650.9,323.2 650.9,324.4 650.9,325.6 650.9,326.8 650.9,328 650.9,329.2 650.9,330.4 650.8,331.6 650.8,332.8 650.8,334 650.8,335.2 650.8,336.4 650.8,337.6 650.8,338.8 650.8,340 650.8,341.2 650.8,342.4 650.8,343.2M600.4,343.2 600.4,342 600.4,340.8 600.4,339.6 600.4,338.4 600.4,337.2 600.4,336 600.4,334.8 600.4,333.6 600.4,332.4 600.4,331.2 600.3,330 600.3,328.8 600.3,327.6 600.3,326.4 600.3,325.2 600.3,324 600.3,322.8 600.3,321.6 600.3,320.4 600.2,319.2 600.2,318 600.2,316.8 600.2,315.6 600.2,314.4 600.2,313.2 600.1,312 600.1,310.8 600.1,309.6 600.1,308.4 600.1,307.2 600.1,306 600,304.8 600,303.6 600,302.4 600,301.2 600,300 600,298.8 600,297.6 600,296.4 600,295.2 600.1,294 600.1,292.8 600.1,291.6 600.1,290.4 600.1,289.2 600.1,288 600.2,286.8 600.2,285.6 600.2,284.4 600.2,283.2 600.2,282 600.2,280.8 600.3,279.6 600.3,278.4 600.3,277.2 600.3,276 600.3,274.8 600.3,273.6 600.3,272.4 600.3,271.2 600.3,270 600.4,268.8 600.4,267.6 600.4,266.4 600.4,265.2 600.4,264 600.4,262.8 600.4,261.6 600.4,260.4 600.4,259.2 600.4,258 600.4,257.2M656.4,257.2 656.4,258.4 656.4,259.6 656.4,260.8 656.4,262 656.4,263.2 656.4,264.4 656.4,265.6 656.4,266.8 656.4,268 656.4,269.2 656.4,270.4 656.5,271.6 656.5,272.8 656.5,274 656.5,275.2 656.5,276.4 656.5,277.6 656.5,278.8 656.5,280 656.5,281.2 656.5,282.4 656.5,283.6 656.5,284.8 656.6,286 656.6,287.2 656.6,288.4 656.6,289.6 656.6,290.8 656.6,292 656.6,293.2 656.6,294.4 656.6,295.6 656.6,296.8 656.6,298 656.6,299.2 656.6,300.4 656.6,301.6 656.6,302.8 656.6,304 656.6,305.2 656.6,306.4 656.6,307.6 656.6,308.8 656.6,310 656.6,311.2 656.6,312.4 656.6,313.6 656.6,314.8 656.5,316 656.5,317.2 656.5,318.4 656.5,319.6 656.5,320.8 656.5,322 656.5,323.2 656.5,324.4 656.5,325.6 656.5,326.8 656.5,328 656.4,329.2 656.4,330.4 656.4,331.6 656.4,332.8 656.4,334 656.4,335.2 656.4,336.4 656.4,337.6 656.4,338.8 656.4,340 656.4,341.2 656.4,342.4 656.4,343.2M594.8,343.2 594.8,342 594.8,340.8 594.8,339.6 594.8,338.4 594.8,337.2 594.8,336 594.8,334.8 594.8,333.6 594.8,332.4 594.8,331.2 594.8,330 594.7,328.8 594.7,327.6 594.7,326.4 594.7,325.2 594.7,324 594.7,322.8 594.7,321.6 594.7,320.4 594.7,319.2 594.7,318 594.7,316.8 594.7,315.6 594.6,314.4 594.6,313.2 594.6,312 594.6,310.8 594.6,309.6 594.6,308.4 594.6,307.2 594.6,306 594.6,304.8 594.6,303.6 594.6,302.4 594.6,301.2 594.6,300 594.6,298.8 594.6,297.6 594.6,296.4 594.6,295.2 594.6,294 594.6,292.8 594.6,291.6 594.6,290.4 594.6,289.2 594.6,288 594.6,286.8 594.6,285.6 594.7,284.4 594.7,283.2 594.7,282 594.7,280.8 594.7,279.6 594.7,278.4 594.7,277.2 594.7,276 594.7,274.8 594.7,273.6 594.7,272.4 594.7,271.2 594.8,270 594.8,268.8 594.8,267.6 594.8,266.4 594.8,265.2 594.8,264 594.8,262.8 594.8,261.6 594.8,260.4 594.8,259.2 594.8,258 594.8,257.2M662,257.2 662,258.4 662,259.6 662,260.8 662,262 662,263.2 662,264.4 662,265.6 662,266.8 662,268 662,269.2 662,270.4 662,271.6 662,272.8 662.1,274 662.1,275.2 662.1,276.4 662.1,277.6 662.1,278.8 662.1,280 662.1,281.2 662.1,282.4 662.1,283.6 662.1,284.8 662.1,286 662.1,287.2 662.1,288.4 662.1,289.6 662.1,290.8 662.1,292 662.1,293.2 662.1,294.4 662.1,295.6 662.1,296.8 662.1,298 662.2,299.2 662.2,300.4 662.1,301.6 662.1,302.8 662.1,304 662.1,305.2 662.1,306.4 662.1,307.6 662.1,308.8 662.1,310 662.1,311.2 662.1,312.4 662.1,313.6 662.1,314.8 662.1,316 662.1,317.2 662.1,318.4 662.1,319.6 662.1,320.8 662.1,322 662.1,323.2 662.1,324.4 662.1,325.6 662,326.8 662,328 662,329.2 662,330.4 662,331.6 662,332.8 662,334 662,335.2 662,336.4 662,337.6 662,338.8 662,340 662,341.2 662,342.4 662,343.2M589.2,343.2 589.2,342 589.2,340.8 589.2,339.6 589.2,338.4 589.2,337.2 589.2,336 589.2,334.8 589.2,333.6 589.2,332.4 589.2,331.2 589.2,330 589.2,328.8 589.2,327.6 589.2,326.4 589.1,325.2 589.1,324 589.1,322.8 589.1,321.6 589.1,320.4 589.1,319.2 589.1,318 589.1,316.8 589.1,315.6 589.1,314.4 589.1,313.2 589.1,312 589.1,310.8 589.1,309.6 589.1,308.4 589.1,307.2 589.1,306 589.1,304.8 589.1,303.6 589.1,302.4 589.1,301.2 589,300 589.1,298.8 589.1,297.6 589.1,296.4 589.1,295.2 589.1,294 589.1,292.8 589.1,291.6 589.1,290.4 589.1,289.2 589.1,288 589.1,286.8 589.1,285.6 589.1,284.4 589.1,283.2 589.1,282 589.1,280.8 589.1,279.6 589.1,278.4 589.1,277.2 589.1,276 589.1,274.8 589.2,273.6 589.2,272.4 589.2,271.2 589.2,270 589.2,268.8 589.2,267.6 589.2,266.4 589.2,265.2 589.2,264 589.2,262.8 589.2,261.6 589.2,260.4 589.2,259.2 589.2,258 589.2,257.2M667.6,257.2 667.6,258.4 667.6,259.6 667.6,260.8 667.6,262 667.6,263.2 667.6,264.4 667.6,265.6 667.6,266.8 667.6,268 667.6,269.2 667.6,270.4 667.6,271.6 667.6,272.8 667.6,274 667.6,275.2 667.6,276.4 667.7,277.6 667.7,278.8 667.7,280 667.7,281.2 667.7,282.4 667.7,283.6 667.7,284.8 667.7,286 667.7,287.2 667.7,288.4 667.7,289.6 667.7,290.8 667.7,292 667.7,293.2 667.7,294.4 667.7,295.6 667.7,296.8 667.7,298 667.7,299.2 667.7,300.4 667.7,301.6 667.7,302.8 667.7,304 667.7,305.2 667.7,306.4 667.7,307.6 667.7,308.8 667.7,310 667.7,311.2 667.7,312.4 667.7,313.6 667.7,314.8 667.7,316 667.7,317.2 667.7,318.4 667.7,319.6 667.7,320.8 667.7,322 667.6,323.2 667.6,324.4 667.6,325.6 667.6,326.8 667.6,328 667.6,329.2 667.6,330.4 667.6,331.6 667.6,332.8 667.6,334 667.6,335.2 667.6,336.4 667.6,337.6 667.6,338.8 667.6,340 667.6,341.2 667.6,342.4 667.6,343.2M583.6,343.2 583.6,342 583.6,340.8 583.6,339.6 583.6,338.4 583.6,337.2 583.6,336 583.6,334.8 583.6,333.6 583.6,332.4 583.6,331.2 583.6,330 583.6,328.8 583.6,327.6 583.6,326.4 583.6,325.2 583.6,324 583.6,322.8 583.5,321.6 583.5,320.4 583.5,319.2 583.5,318 583.5,316.8 583.5,315.6 583.5,314.4 583.5,313.2 583.5,312 583.5,310.8 583.5,309.6 583.5,308.4 583.5,307.2 583.5,306 583.5,304.8 583.5,303.6 583.5,302.4 583.5,301.2 583.5,300 583.5,298.8 583.5,297.6 583.5,296.4 583.5,295.2 583.5,294 583.5,292.8 583.5,291.6 583.5,290.4 583.5,289.2 583.5,288 583.5,286.8 583.5,285.6 583.5,284.4 583.5,283.2 583.5,282 583.5,280.8 583.5,279.6 583.5,278.4 583.6,277.2 583.6,276 583.6,274.8 583.6,273.6 583.6,272.4 583.6,271.2 583.6,270 583.6,268.8 583.6,267.6 583.6,266.4 583.6,265.2 583.6,264 583.6,262.8 583.6,261.6 583.6,260.4 583.6,259.2 583.6,258 583.6,257.2" fill="none" stroke="#d0d0d0" stroke-width="0.5" stroke-linejoin="round" opacity="0.85"/>
<path d="M638.6,275.8L639.8,278.2L640.8,275.8M639.6,294.9L640.8,297.2L641.8,294.7M638.8,316.8L639.8,319.2L641,316.8M638.5,334.8L639.6,337.2L640.7,334.8M604.8,275.8L605.8,278.2L607,275.8M604.3,294.8L605.4,297.2L606.5,294.8M604.6,316.8L605.8,319.2L606.8,316.8M604.9,334.8L606,337.2L607.1,334.8M649.8,275.8L650.9,278.2L652,275.8M650,294.8L651.2,297.2L652.2,294.8M649.9,316.8L651,319.2L652.1,316.8M649.7,334.8L650.8,337.2L651.9,334.8M593.6,275.8L594.7,278.2L595.8,275.8M593.5,294.8L594.6,297.2L595.7,294.8M593.6,316.8L594.7,319.2L595.8,316.8M593.7,334.8L594.8,337.2L595.9,334.8M661,275.8L662.1,278.2L663.2,275.8M661,294.8L662.1,297.2L663.2,294.8M661,316.8L662.1,319.2L663.2,316.8M660.9,334.8L662,337.2L663.1,334.8" fill="none" stroke="#d0d0d0" stroke-width="0.6" opacity="0.85"/><clipPath id="sc625_300"><circle cx="625.6" cy="300" r="8.6"/></clipPath>
<circle cx="625.6" cy="300" r="8.6" fill="#fff"/>
<g clip-path="url(#sc625_300)">
<path d="M616,291 Q625.6,291 635.2,291 V296.4 Q625.6,297.4 616,296.4 Z" fill="#9a9a9a"/>
<path d="M616,296.4 Q625.6,297.4 635.2,296.4 V305 Q625.6,306 616,305 Z" fill="#545454"/>
</g><path d="M616.4,296.6 A9.8,9.8 0 0 1 634.8,296.6" fill="none" stroke="#c81818" stroke-width="1.8" filter="url(#bl1)"/><path d="M616.8,296.8 A9.4,9.4 0 0 1 634.4,296.8" fill="none" stroke="#f06020" stroke-width="0.9"/><path d="M617.3,297 A8.8,8.8 0 0 1 633.9,297" fill="none" stroke="#f4d040" stroke-width="0.8"/></g>
<clipPath id="fD2"><rect x="583.8" y="350" width="83.1" height="82.8"/></clipPath>
<rect x="583.8" y="350" width="83.1" height="82.8" fill="#000"/>
<g clip-path="url(#fD2)"><path d="M613,386 C602,398 596,416 593,438 L657,438 C654,416 648,398 637,386 Z" fill="#4a0707" filter="url(#bl4)"/><path d="M615,388 C608,400 604,418 603,438 L647,438 C646,418 642,400 635,388 Z" fill="#8e1010" filter="url(#bl4)"/><path d="M617,392 C614,402 613,414 613,426 L637,426 C637,414 636,402 633,392 Z" fill="#a01414" filter="url(#bl2)"/><path d="M634.3,387.5 A9.7,9.7 0 1 1 615.5,387.5" fill="none" stroke="#c01c1c" stroke-width="2.6" filter="url(#bl1)"/><path d="M658.3,348 657.9,349.2 657.5,350.4 657.1,351.6 656.7,352.8 656.3,354 655.8,355.2 655.4,356.4 655,357.6 654.5,358.8 654.1,360 653.6,361.2 653.2,362.4 652.7,363.6 652.3,364.8 651.8,366 651.4,367.2 650.9,368.4 650.4,369.6 650,370.8 649.5,372 649.1,373.2 648.6,374.4 648.2,375.6 647.8,376.7 647.4,378 647,379.2 646.7,380.4 646.4,381.6 646.2,382.8 646.1,384 646.1,385.2 646.1,386.4 646.2,387.6 646.4,388.8 646.7,390 647,391.2 647.4,392.4 647.8,393.6 648.3,394.8 648.8,396 649.3,397.2 649.7,398.4 650.2,399.6 650.7,400.8 651.2,402 651.7,403.2 652.2,404.4 652.7,405.6 653.2,406.8 653.6,408 654.1,409.2 654.6,410.4 655,411.6 655.5,412.8 655.9,414 656.3,415.2 656.8,416.4 657.2,417.6 657.6,418.8 658,420 658.4,421.2 658.8,422.4 659.2,423.6 659.6,424.8 660,426 660.4,427.2 660.8,428.4 661.2,429.6 661.6,430.8 661.9,432 662.3,433.2 662.7,434.4 662.8,434.8M587,434.8 587.4,433.6 587.7,432.4 588.1,431.2 588.5,430 588.9,428.8 589.3,427.6 589.6,426.4 590,425.2 590.4,424 590.8,422.8 591.2,421.6 591.6,420.4 592.1,419.2 592.5,418 592.9,416.8 593.3,415.6 593.8,414.4 594.2,413.2 594.6,412 595.1,410.8 595.6,409.6 596,408.4 596.5,407.2 597,406 597.4,404.8 597.9,403.6 598.4,402.4 598.9,401.2 599.4,400 599.9,398.8 600.4,397.6 600.9,396.4 601.3,395.2 601.8,394 602.2,392.8 602.6,391.6 603,390.4 603.3,389.2 603.5,388 603.7,386.8 603.7,385.6 603.7,384.4 603.6,383.2 603.4,382 603.2,380.8 602.9,379.6 602.5,378.4 602.2,377.2 601.8,376 601.3,374.8 600.9,373.6 600.4,372.4 600,371.2 599.5,370 599.1,368.8 598.6,367.6 598.1,366.4 597.7,365.2 597.2,364 596.8,362.8 596.3,361.6 595.9,360.4 595.4,359.2 595,358.1 594.5,356.8 594.1,355.6 593.7,354.4 593.3,353.2 592.9,352 592.4,350.8 592,349.6 591.6,348.4 591.5,348M662.5,348 662.1,349.2 661.7,350.4 661.2,351.6 660.8,352.8 660.4,354 660,355.2 659.5,356.4 659.1,357.6 658.6,358.8 658.2,359.9 657.7,361.2 657.3,362.4 656.8,363.6 656.4,364.8 655.9,366 655.5,367.2 655,368.4 654.6,369.6 654.2,370.8 653.7,372 653.3,373.2 652.9,374.4 652.5,375.6 652.2,376.8 651.8,378 651.5,379.2 651.3,380.4 651.1,381.6 650.9,382.8 650.9,384 650.8,385.2 650.9,386.4 651,387.6 651.2,388.8 651.4,390 651.7,391.2 652,392.4 652.4,393.6 652.8,394.8 653.2,396 653.6,397.2 654.1,398.4 654.5,399.6 655,400.8 655.4,402 655.9,403.2 656.4,404.4 656.8,405.6 657.3,406.8 657.8,408 658.2,409.2 658.7,410.4 659.2,411.6 659.6,412.8 660.1,414 660.5,415.2 660.9,416.4 661.4,417.6 661.8,418.8 662.2,420 662.7,421.2 663.1,422.4 663.5,423.6 663.9,424.8 664.3,426 664.7,427.2 665.1,428.4 665.5,429.6 665.9,430.8 666.3,432 666.7,433.2 667.1,434.4 667.2,434.8M582.6,434.8 582.9,433.6 583.3,432.4 583.7,431.2 584.1,430 584.5,428.8 584.9,427.6 585.3,426.4 585.7,425.2 586.1,424 586.6,422.8 587,421.6 587.4,420.4 587.8,419.2 588.3,418 588.7,416.8 589.1,415.6 589.6,414.4 590,413.2 590.5,412 590.9,410.8 591.4,409.6 591.9,408.4 592.3,407.2 592.8,406 593.3,404.8 593.7,403.6 594.2,402.4 594.7,401.2 595.1,400 595.6,398.8 596,397.6 596.5,396.4 596.9,395.2 597.3,394 597.7,392.8 598,391.6 598.3,390.4 598.6,389.2 598.8,388 598.9,386.8 599,385.6 599,384.4 598.9,383.2 598.8,382 598.6,380.8 598.3,379.6 598.1,378.4 597.7,377.2 597.4,376 597,374.8 596.6,373.6 596.2,372.4 595.8,371.2 595.4,370 594.9,368.8 594.5,367.6 594,366.4 593.6,365.2 593.1,364 592.7,362.8 592.2,361.6 591.8,360.4 591.3,359.2 590.9,358 590.4,356.8 590,355.6 589.6,354.4 589.1,353.2 588.7,352 588.3,350.8 587.8,349.6 587.4,348.4 587.3,348M666.7,348 666.3,349.2 665.9,350.4 665.4,351.6 665,352.8 664.6,354 664.1,355.2 663.7,356.4 663.2,357.6 662.8,358.8 662.3,360 661.9,361.2 661.5,362.4 661,363.6 660.6,364.7 660.1,366 659.7,367.2 659.3,368.4 658.9,369.6 658.5,370.8 658.1,372 657.7,373.2 657.3,374.4 657,375.6 656.7,376.8 656.4,378 656.2,379.2 655.9,380.4 655.8,381.6 655.7,382.8 655.6,384 655.6,385.2 655.7,386.4 655.8,387.6 655.9,388.8 656.1,390 656.3,391.2 656.6,392.4 656.9,393.6 657.3,394.8 657.6,396 658,397.2 658.4,398.4 658.9,399.6 659.3,400.8 659.7,402 660.2,403.2 660.6,404.3 661.1,405.6 661.5,406.8 662,408 662.4,409.2 662.9,410.4 663.4,411.6 663.8,412.8 664.3,414 664.7,415.2 665.2,416.4 665.6,417.6 666,418.8 666.5,420 666.9,421.2 667.3,422.4 667.8,423.6 668.2,424.8 668.6,425.9M581.8,424.2 582.3,422.8 582.7,421.6 583.2,420.4 583.6,419.2 584.1,418 584.5,416.8 584.9,415.6 585.4,414.4 585.8,413.2 586.3,412 586.7,410.8 587.2,409.6 587.7,408.4 588.1,407.2 588.6,406 589,404.9 589.5,403.6 589.9,402.4 590.4,401.2 590.8,400 591.2,398.8 591.6,397.6 592,396.4 592.4,395.2 592.8,394 593.1,392.8 593.4,391.6 593.6,390.4 593.8,389.2 594,388 594.1,386.8 594.2,385.6 594.2,384.4 594.2,383.2 594.1,382 593.9,380.8 593.7,379.6 593.5,378.4 593.2,377.2 592.9,376 592.6,374.8 592.2,373.6 591.9,372.4 591.5,371.2 591.1,370 590.7,368.8 590.2,367.6 589.8,366.4 589.4,365.2 588.9,364 588.5,362.8 588,361.6 587.6,360.4 587.2,359.2 586.7,358 586.3,356.8 585.8,355.6 585.4,354.4 584.9,353.2 584.5,352 584.1,350.8 583.6,349.6 583.2,348.4 583.1,348M668.6,354.2 668.1,355.6 667.6,356.8 667.2,358 666.8,359.2 666.3,360.4 665.9,361.6 665.5,362.8 665,364 664.6,365.2 664.2,366.4 663.8,367.6 663.4,368.8 663,370 662.6,371.2 662.3,372.4 661.9,373.6 661.6,374.8 661.3,376 661.1,377.2 660.8,378.4 660.6,379.6 660.5,380.8 660.4,382 660.3,383.2 660.3,384.4 660.3,385.6 660.3,386.8 660.4,388 660.6,389.2 660.8,390.4 661,391.6 661.2,392.8 661.5,394 661.9,395.2 662.2,396.4 662.6,397.6 662.9,398.8 663.3,400 663.7,401.2 664.1,402.4 664.6,403.6 665,404.8 665.4,406 665.9,407.2 666.3,408.4 666.8,409.6 667.2,410.8 667.7,412 668.1,413.2 668.5,414.4 668.6,414.5M581.8,412.9 582.3,411.6 582.7,410.4 583.2,409.2 583.6,408 584.1,406.8 584.5,405.6 584.9,404.4 585.4,403.2 585.8,402 586.2,400.8 586.6,399.6 587,398.4 587.4,397.2 587.7,396 588.1,394.8 588.4,393.6 588.6,392.4 588.9,391.2 589.1,390 589.3,388.8 589.4,387.6 589.5,386.4 589.5,385.2 589.5,384 589.5,382.8 589.4,381.6 589.3,380.4 589.1,379.2 588.9,378 588.6,376.8 588.4,375.6 588.1,374.4 587.7,373.2 587.4,372 587,370.8 586.7,369.6 586.3,368.4 585.9,367.2 585.5,366 585,364.8 584.6,363.6 584.2,362.4 583.8,361.2 583.3,360 582.9,358.8 582.4,357.6 582,356.4 581.8,355.8M668.6,366.3 668.2,367.6 667.8,368.8 667.5,370 667.1,371.2 666.8,372.4 666.5,373.6 666.2,374.8 665.9,376 665.7,377.2 665.5,378.4 665.3,379.6 665.2,380.8 665.1,382 665,383.2 665,384.4 665,385.6 665.1,386.8 665.2,388 665.3,389.2 665.5,390.4 665.7,391.6 665.9,392.8 666.1,394 666.4,395.2 666.7,396.4 667.1,397.6 667.4,398.8 667.8,400 668.2,401.2 668.5,402.4 668.6,402.6M581.8,400.7 582.2,399.4 582.6,398.1 583,396.8 583.3,395.6 583.6,394.4 583.8,393.2 584.1,392 584.3,390.8 584.5,389.6 584.6,388.4 584.7,387.2 584.8,386 584.8,384.8 584.8,383.6 584.7,382.4 584.7,381.2 584.5,380 584.4,378.8 584.2,377.6 583.9,376.4 583.7,375.2 583.4,374 583.1,372.8 582.8,371.6 582.5,370.4 582.1,369.2 581.8,368.2M627.4,348 627.3,349.2 627.3,350.4 627.2,351.6 627.2,352.8 627.2,354 627.1,355.2 627.1,356.4 627,357.6 627,358.8 626.9,360 626.9,361.2 626.8,362.4 626.7,363.6 626.7,364.8 626.6,366 626.6,367.2 626.5,368.4 626.4,369.6 626.4,370.8 626.3,372 626.2,373.2 626.1,374.4 626,375.6 625.9,376.8 625.9,378 625.8,379.2 625.6,380.4 625.5,381.6 625.5,382M624.4,382 624.2,380.8 624.1,379.6 624,378.4 623.9,377.2 623.8,376 623.7,374.8 623.6,373.6 623.5,372.4 623.5,371.2 623.4,370 623.3,368.8 623.3,367.6 623.2,366.4 623.1,365.2 623.1,364 623,362.8 623,361.6 622.9,360.4 622.9,359.2 622.8,358 622.8,356.8 622.7,355.6 622.7,354.4 622.6,353.2 622.6,352 622.5,350.8 622.5,349.6 622.4,348.4 622.4,348M626,398 626.1,399.2 626.2,400.4 626.3,401.6 626.4,402.8 626.5,404 626.6,405.2 626.7,406.4 626.8,407.6 626.8,408.8 626.9,410 627,411.2 627,412.4 627.1,413.6 627.1,414.8 627.2,416 627.2,417.2 627.3,418.4 627.3,419.6 627.4,420.8 627.4,422 627.5,423.2 627.5,424.4 627.5,425.6 627.6,426.8 627.6,428 627.7,429.2 627.7,430.4 627.7,431.6 627.8,432.8 627.8,434 627.8,434.8M622,434.8 622,433.6 622,432.4 622.1,431.2 622.1,430 622.2,428.8 622.2,427.6 622.2,426.4 622.3,425.2 622.3,424 622.4,422.8 622.4,421.6 622.5,420.4 622.5,419.2 622.5,418 622.6,416.8 622.6,415.6 622.7,414.4 622.8,413.2 622.8,412 622.9,410.8 622.9,409.6 623,408.4 623.1,407.2 623.1,406 623.2,404.8 623.3,403.6 623.4,402.4 623.5,401.2 623.6,400 623.7,398.8 623.8,398M633.3,348 633.1,349.2 633,350.4 632.9,351.6 632.7,352.8 632.6,354 632.4,355.2 632.2,356.4 632.1,357.6 631.9,358.8 631.7,360 631.6,361.2 631.4,362.4 631.2,363.6 631,364.8 630.8,366 630.6,367.2 630.4,368.4 630.2,369.6 630,370.8 629.7,372 629.5,373.2 629.2,374.4 628.9,375.6 628.6,376.8 628.3,378 628,379.2 627.6,380.4 627.2,381.6 626.9,382.4M622.9,382.4 622.4,381.2 622,380 621.7,378.8 621.4,377.6 621.1,376.4 620.8,375.2 620.5,374 620.2,372.8 620,371.6 619.8,370.4 619.5,369.2 619.3,368 619.1,366.8 618.9,365.6 618.7,364.4 618.5,363.2 618.4,362 618.2,360.8 618,359.6 617.8,358.4 617.7,357.2 617.5,356 617.4,354.8 617.2,353.6 617,352.4 616.9,351.2 616.8,350 616.6,348.8 616.5,348M628.3,397.1 628.9,398.4 629.3,399.6 629.7,400.8 630.1,402 630.4,403.2 630.6,404.4 630.9,405.6 631.1,406.8 631.3,408 631.6,409.2 631.8,410.4 632,411.6 632.1,412.8 632.3,414 632.5,415.2 632.7,416.4 632.8,417.6 633,418.8 633.1,420 633.3,421.2 633.4,422.4 633.6,423.6 633.7,424.8 633.8,426 634,427.2 634.1,428.4 634.2,429.6 634.4,430.8 634.5,432 634.6,433.2 634.7,434.4 634.8,434.8M615,434.8 615.1,433.6 615.3,432.4 615.4,431.2 615.5,430 615.6,428.8 615.8,427.6 615.9,426.4 616.1,425.2 616.2,424 616.3,422.8 616.5,421.6 616.6,420.4 616.8,419.2 616.9,418 617.1,416.8 617.3,415.6 617.4,414.4 617.6,413.2 617.8,412 618,410.8 618.2,409.6 618.4,408.4 618.6,407.2 618.8,406 619.1,404.8 619.3,403.6 619.6,402.4 620,401.2 620.3,400 620.7,398.8 621.2,397.6 621.4,397.2M639.2,348 638.9,349.2 638.7,350.4 638.5,351.6 638.2,352.8 638,354 637.7,355.2 637.5,356.4 637.2,357.6 636.9,358.8 636.7,360 636.4,361.2 636.1,362.4 635.8,363.6 635.5,364.8 635.2,366 634.9,367.2 634.5,368.4 634.2,369.6 633.8,370.8 633.5,372 633.1,373.2 632.7,374.4 632.2,375.6 631.8,376.8 631.3,378 630.8,379.2 630.3,380.4 629.7,381.6 629.1,382.8 628.9,383.2M620.9,383.2 620.3,382 619.7,380.8 619.2,379.6 618.6,378.4 618.2,377.2 617.7,376 617.3,374.8 616.9,373.6 616.5,372.4 616.1,371.2 615.7,370 615.4,368.8 615,367.6 614.7,366.4 614.4,365.2 614.1,364 613.8,362.8 613.5,361.6 613.2,360.4 612.9,359.2 612.7,358 612.4,356.8 612.2,355.6 611.9,354.4 611.7,353.2 611.4,352 611.2,350.8 610.9,349.6 610.7,348.4 610.6,348M630.7,395.5 631.4,396.5 632.1,397.6 632.8,398.8 633.4,400 633.9,401.2 634.3,402.4 634.8,403.6 635.2,404.8 635.5,406 635.9,407.2 636.2,408.4 636.6,409.6 636.9,410.8 637.2,412 637.4,413.2 637.7,414.4 638,415.6 638.3,416.8 638.5,418 638.8,419.2 639,420.4 639.2,421.6 639.5,422.8 639.7,424 639.9,425.2 640.2,426.4 640.4,427.6 640.6,428.8 640.8,430 641,431.2 641.2,432.4 641.4,433.6 641.6,434.8M608.2,434.8 608.4,433.6 608.6,432.4 608.8,431.2 609,430 609.2,428.8 609.4,427.6 609.6,426.4 609.9,425.2 610.1,424 610.3,422.8 610.6,421.6 610.8,420.4 611,419.2 611.3,418 611.5,416.8 611.8,415.6 612.1,414.4 612.4,413.2 612.6,412 612.9,410.8 613.2,409.6 613.6,408.4 613.9,407.2 614.3,406 614.6,404.8 615,403.6 615.5,402.4 615.9,401.2 616.4,400 617,398.8 617.7,397.6 618.5,396.4 619.2,395.4M645,348 644.7,349.2 644.4,350.4 644.1,351.6 643.8,352.8 643.5,354 643.1,355.2 642.8,356.4 642.5,357.6 642.1,358.8 641.8,360 641.4,361.2 641,362.4 640.6,363.6 640.3,364.8 639.9,366 639.5,367.2 639,368.4 638.6,369.6 638.2,370.8 637.7,372 637.2,373.2 636.7,374.4 636.2,375.6 635.7,376.8 635.2,378 634.6,379.2 634,380.4 633.4,381.6 632.8,382.8 632.2,384 631.5,385.2 631.3,385.5M618.4,385.4 617.8,384.3 617.2,383.2 616.6,382 616,380.8 615.4,379.6 614.8,378.4 614.3,377.2 613.7,376 613.2,374.8 612.7,373.6 612.2,372.4 611.8,371.2 611.3,370 610.9,368.8 610.5,367.6 610.1,366.4 609.7,365.2 609.3,364 608.9,362.8 608.5,361.6 608.2,360.4 607.8,359.2 607.5,358 607.1,356.8 606.8,355.6 606.5,354.4 606.1,353.2 605.8,352 605.5,350.8 605.2,349.6 604.9,348.4 604.8,348M632.5,392.5 633.8,393.5 634.9,394.8 635.8,396 636.5,397.2 637.2,398.4 637.8,399.6 638.4,400.8 638.9,402 639.4,403.2 639.9,404.4 640.3,405.6 640.8,406.8 641.2,408 641.6,409.2 642,410.4 642.3,411.6 642.7,412.8 643.1,414 643.4,415.2 643.8,416.4 644.1,417.6 644.4,418.8 644.7,420 645,421.2 645.3,422.4 645.6,423.6 645.9,424.8 646.2,426 646.5,427.2 646.8,428.4 647.1,429.6 647.4,430.8 647.6,432 647.9,433.2 648.2,434.4 648.2,434.8M601.6,434.8 601.8,433.6 602.1,432.4 602.4,431.2 602.6,430 602.9,428.8 603.2,427.6 603.5,426.4 603.8,425.2 604.1,424 604.4,422.8 604.7,421.6 605,420.4 605.3,419.2 605.6,418 605.9,416.8 606.3,415.6 606.6,414.4 607,413.2 607.3,412 607.7,410.8 608.1,409.6 608.5,408.4 608.9,407.2 609.3,406 609.8,404.8 610.2,403.6 610.7,402.4 611.3,401.2 611.8,400 612.4,398.8 613,397.7 613.8,396.4 614.6,395.2 615.4,394.2 616.3,393.2 617.3,392.4M650.8,348 650.5,349.2 650.1,350.4 649.7,351.6 649.4,352.8 649,354 648.6,355.2 648.2,356.4 647.8,357.6 647.4,358.8 647,360 646.6,361.2 646.2,362.3 645.8,363.6 645.3,364.8 644.9,366 644.4,367.2 644,368.4 643.5,369.6 643,370.8 642.5,372 642,373.2 641.5,374.4 641,375.6 640.5,376.8 640,378 639.5,379.2 639,380.4 638.6,381.6 638.1,382.8 637.8,384 637.6,385.2 637.5,386.4 637.5,387.6 637.8,388.8 638.2,390 638.7,391.2 639.3,392.4 640,393.6 640.6,394.8 641.2,396 641.8,397.1 642.4,398.4 643,399.6 643.5,400.8 644.1,402 644.6,403.2 645.1,404.4 645.5,405.6 646,406.8 646.5,408 646.9,409.2 647.3,410.4 647.8,411.6 648.2,412.8 648.6,414 649,415.2 649.4,416.4 649.8,417.6 650.2,418.8 650.5,420 650.9,421.2 651.3,422.4 651.6,423.6 652,424.8 652.3,426 652.6,427.2 653,428.4 653.3,429.6 653.6,430.8 654,432 654.3,433.2 654.6,434.4 654.7,434.8M595.1,434.8 595.4,433.6 595.7,432.4 596.1,431.2 596.4,430 596.7,428.8 597,427.6 597.4,426.4 597.7,425.2 598.1,424 598.4,422.8 598.8,421.6 599.2,420.4 599.5,419.2 599.9,418 600.3,416.8 600.7,415.6 601.1,414.4 601.5,413.2 601.9,412 602.3,410.8 602.7,409.6 603.2,408.4 603.6,407.2 604.1,406 604.6,404.8 605.1,403.6 605.6,402.4 606.1,401.2 606.6,400.1 607.2,398.8 607.8,397.6 608.4,396.4 609,395.2 609.6,394 610.2,392.9 610.9,391.6 611.4,390.5 611.9,389.2 612.2,388 612.3,386.8 612.3,385.6 612.1,384.4 611.8,383.2 611.4,382 610.9,380.8 610.5,379.6 610,378.4 609.5,377.2 608.9,376 608.4,374.8 607.9,373.6 607.4,372.4 606.9,371.2 606.5,370 606,368.8 605.5,367.6 605.1,366.4 604.6,365.2 604.2,364 603.8,362.8 603.3,361.6 602.9,360.4 602.5,359.2 602.1,358 601.7,356.8 601.3,355.6 600.9,354.4 600.6,353.2 600.2,352 599.8,350.8 599.5,349.6 599.1,348.4 599,348" fill="none" stroke="#d0d0d0" stroke-width="0.5" stroke-linejoin="round" opacity="0.85"/>
<path d="M650.5,366.5L650.6,369.1L652.5,367.3M592.9,413.5L593.1,416.1L595,414.2M653.2,399.3L655.1,401.1L655.3,398.5M590.2,359.3L592,361.1L592.2,358.5M658.8,366.5L659,369.1L660.9,367.2M661.9,399.2L663.7,401.1L664,398.5M621.7,358.8L622.9,361.2L623.9,358.8M621.6,413.8L622.6,416.2L623.8,413.8M616.8,359L618.2,361.2L619,358.7M616.4,413.7L617.2,416.2L618.6,414M611.8,359.1L613.4,361.2L613.9,358.6M611.1,413.6L611.7,416.2L613.3,414.1M606.7,359.2L608.4,361.2L608.8,358.5M605.7,413.5L606.1,416.2L607.8,414.2M641.7,399.4L643.7,401.1L643.7,398.5M601.4,359.2L603.2,361.1L603.4,358.5" fill="none" stroke="#d0d0d0" stroke-width="0.6" opacity="0.85"/><clipPath id="sc624_390"><circle cx="624.9" cy="390" r="8.4"/></clipPath>
<circle cx="624.9" cy="390" r="8.4" fill="#fff"/>
<g clip-path="url(#sc624_390)">
<path d="M615.5,381.5 Q624.9,381.5 634.3,381.5 V387.8 Q624.9,388.6 615.5,387.8 Z" fill="#999999"/>
<path d="M615.5,387.8 Q624.9,388.6 634.3,387.8 V390.4 Q624.9,391.2 615.5,390.4 Z" fill="#505050"/>
</g><path d="M616.6,385.2 A9.6,9.6 0 0 1 633.2,385.2" fill="none" stroke="#c81818" stroke-width="1.8" filter="url(#bl1)"/><path d="M616.9,385.4 A9.2,9.2 0 0 1 632.9,385.4" fill="none" stroke="#f06020" stroke-width="0.9"/><path d="M617.4,385.7 A8.7,8.7 0 0 1 632.4,385.7" fill="none" stroke="#f4d040" stroke-width="0.8"/><rect x="655.5" y="427.2" width="8" height="1.8" fill="#f4f4f4"/></g>
<rect x="669.8" y="26" width="7.2" height="82.6" fill="url(#cbHeat)" stroke="#8a8a8a" stroke-width="0.7"/>
<path d="M676.7,34.3h-1.4M676.7,42.5h-1.4M676.7,50.8h-1.4M676.7,59h-1.4M676.7,67.3h-1.4M676.7,75.6h-1.4M676.7,83.8h-1.4M676.7,92.1h-1.4M676.7,100.3h-1.4" stroke="#666" stroke-width="0.5"/>
<rect x="669.4" y="258.6" width="7.2" height="82.4" fill="url(#cbHeat)" stroke="#8a8a8a" stroke-width="0.7"/>
<path d="M676.3,266.8h-1.4M676.3,275.1h-1.4M676.3,283.3h-1.4M676.3,291.6h-1.4M676.3,299.8h-1.4M676.3,308h-1.4M676.3,316.3h-1.4M676.3,324.5h-1.4M676.3,332.8h-1.4" stroke="#666" stroke-width="0.5"/>
<text x="644.3" y="20.2" font-size="12.5" fill="#2a2a2a">C/C<tspan font-size="10.5" dy="0.8">&#8734;</tspan></text>
<text x="679.0" y="33.0" font-size="11" fill="#2a2a2a">1</text>
<text x="679.0" y="112.0" font-size="11.5" fill="#2a2a2a">0</text>
<text x="678.2" y="265.4" font-size="11" fill="#2a2a2a">1</text>
<text x="678.8" y="344.2" font-size="11.5" fill="#2a2a2a">0</text>
</svg>
</body></html>
